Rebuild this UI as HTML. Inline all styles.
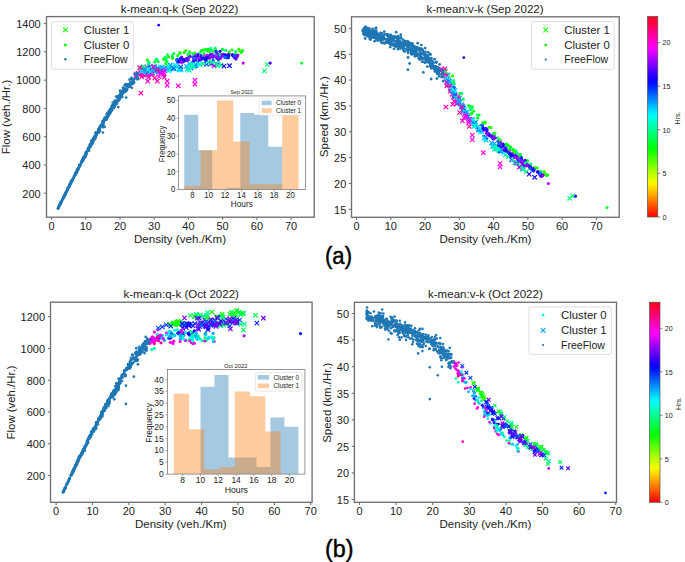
<!DOCTYPE html>
<html><head><meta charset="utf-8"><style>
html,body{margin:0;padding:0;background:#fff;width:685px;height:562px;overflow:hidden}
svg{display:block}
text{font-family:"Liberation Sans", sans-serif}
</style></head><body>
<svg width="685" height="562" viewBox="0 0 685 562">
<rect width="685" height="562" fill="#fff"/>
<clipPath id="cTL"><rect x="46.5" y="16.6" width="267.70" height="200.60"/></clipPath>
<clipPath id="cTR"><rect x="351.5" y="16.8" width="267.70" height="200.50"/></clipPath>
<clipPath id="cBL"><rect x="50.5" y="302.2" width="261.60" height="200.10"/></clipPath>
<clipPath id="cBR"><rect x="354.4" y="302.3" width="262.10" height="200.00"/></clipPath>
<g clip-path="url(#cTL)">
<path d="M145.5 79.0L149.9 83.4M145.5 83.4L149.9 79.0" stroke="#ff00db" stroke-width="1.2"/>
<path d="M201.0 61.5L205.4 65.9M201.0 65.9L205.4 61.5" stroke="#00ff6e" stroke-width="1.2"/>
<path d="M150.1 67.8L154.5 72.2M150.1 72.2L154.5 67.8" stroke="#00fff6" stroke-width="1.2"/>
<path d="M156.7 74.4L161.1 78.8M156.7 78.8L161.1 74.4" stroke="#fc00f5" stroke-width="1.2"/>
<path d="M150.0 70.9L154.4 75.3M150.0 75.3L154.4 70.9" stroke="#00fff6" stroke-width="1.2"/>
<path d="M146.6 74.9L151.0 79.3M146.6 79.3L151.0 74.9" stroke="#ff009a" stroke-width="1.2"/>
<path d="M227.3 63.5L231.7 67.9M227.3 67.9L231.7 63.5" stroke="#0408ff" stroke-width="1.2"/>
<path d="M188.7 65.7L193.1 70.1M188.7 70.1L193.1 65.7" stroke="#0045ff" stroke-width="1.2"/>
<path d="M150.2 71.5L154.6 75.9M150.2 75.9L154.6 71.5" stroke="#00aaff" stroke-width="1.2"/>
<path d="M178.9 67.3L183.3 71.7M178.9 71.7L183.3 67.3" stroke="#00eaff" stroke-width="1.2"/>
<path d="M185.0 67.1L189.4 71.5M185.0 71.5L189.4 67.1" stroke="#00ffd3" stroke-width="1.2"/>
<path d="M154.4 68.2L158.8 72.6M154.4 72.6L158.8 68.2" stroke="#0086ff" stroke-width="1.2"/>
<path d="M139.8 69.6L144.2 74.0M139.8 74.0L144.2 69.6" stroke="#0092ff" stroke-width="1.2"/>
<path d="M147.6 65.0L152.0 69.4M147.6 69.4L152.0 65.0" stroke="#00c7ff" stroke-width="1.2"/>
<path d="M192.3 63.9L196.7 68.3M192.3 68.3L196.7 63.9" stroke="#00ffd3" stroke-width="1.2"/>
<path d="M185.8 66.1L190.2 70.5M185.8 70.5L190.2 66.1" stroke="#00aaff" stroke-width="1.2"/>
<path d="M147.1 71.0L151.5 75.4M147.1 75.4L151.5 71.0" stroke="#e200ff" stroke-width="1.2"/>
<path d="M165.5 66.4L169.9 70.8M165.5 70.8L169.9 66.4" stroke="#00eaff" stroke-width="1.2"/>
<path d="M152.1 64.4L156.5 68.8M152.1 68.8L156.5 64.4" stroke="#0069ff" stroke-width="1.2"/>
<path d="M146.3 71.8L150.7 76.2M146.3 76.2L150.7 71.8" stroke="#ff00db" stroke-width="1.2"/>
<path d="M156.8 69.2L161.2 73.6M156.8 73.6L161.2 69.2" stroke="#00c7ff" stroke-width="1.2"/>
<path d="M150.2 68.1L154.6 72.5M150.2 72.5L154.6 68.1" stroke="#e200ff" stroke-width="1.2"/>
<path d="M215.3 62.3L219.7 66.7M215.3 66.7L219.7 62.3" stroke="#7e00ff" stroke-width="1.2"/>
<path d="M190.8 61.4L195.2 65.8M190.8 65.8L195.2 61.4" stroke="#0069ff" stroke-width="1.2"/>
<path d="M262.2 68.7L266.6 73.1M262.2 73.1L266.6 68.7" stroke="#00ff6e" stroke-width="1.2"/>
<path d="M198.1 62.3L202.5 66.7M198.1 66.7L202.5 62.3" stroke="#00ffa3" stroke-width="1.2"/>
<path d="M152.5 75.7L156.9 80.1M152.5 80.1L156.9 75.7" stroke="#ff009a" stroke-width="1.2"/>
<path d="M165.0 79.0L169.4 83.4M165.0 83.4L169.4 79.0" stroke="#ff00db" stroke-width="1.2"/>
<path d="M159.3 68.3L163.7 72.7M159.3 72.7L163.7 68.3" stroke="#fc00f5" stroke-width="1.2"/>
<path d="M145.8 67.8L150.2 72.2M145.8 72.2L150.2 67.8" stroke="#00aaff" stroke-width="1.2"/>
<path d="M210.0 61.0L214.4 65.4M210.0 65.4L214.4 61.0" stroke="#00ffa3" stroke-width="1.2"/>
<path d="M158.5 68.3L162.9 72.7M158.5 72.7L162.9 68.3" stroke="#00ffd3" stroke-width="1.2"/>
<path d="M191.5 64.5L195.9 68.9M191.5 68.9L195.9 64.5" stroke="#00ff6e" stroke-width="1.2"/>
<path d="M193.5 63.1L197.9 67.5M193.5 67.5L197.9 63.1" stroke="#0092ff" stroke-width="1.2"/>
<path d="M141.5 67.3L145.9 71.7M141.5 71.7L145.9 67.3" stroke="#00aaff" stroke-width="1.2"/>
<path d="M165.5 63.6L169.9 68.0M165.5 68.0L169.9 63.6" stroke="#00c7ff" stroke-width="1.2"/>
<path d="M149.5 72.7L153.9 77.1M149.5 77.1L153.9 72.7" stroke="#ff00b7" stroke-width="1.2"/>
<path d="M158.9 70.6L163.3 75.0M158.9 75.0L163.3 70.6" stroke="#e200ff" stroke-width="1.2"/>
<path d="M165.1 67.4L169.5 71.8M165.1 71.8L169.5 67.4" stroke="#00c7ff" stroke-width="1.2"/>
<path d="M176.0 83.6L180.4 88.0M176.0 88.0L180.4 83.6" stroke="#ff00db" stroke-width="1.2"/>
<path d="M192.7 77.9L197.1 82.3M192.7 82.3L197.1 77.9" stroke="#fc00f5" stroke-width="1.2"/>
<path d="M145.9 68.0L150.3 72.4M145.9 72.4L150.3 68.0" stroke="#00ffd3" stroke-width="1.2"/>
<path d="M193.6 63.0L198.0 67.4M193.6 67.4L198.0 63.0" stroke="#0069ff" stroke-width="1.2"/>
<path d="M219.0 62.9L223.4 67.3M219.0 67.3L223.4 62.9" stroke="#00ff6e" stroke-width="1.2"/>
<path d="M140.3 65.1L144.7 69.5M140.3 69.5L144.7 65.1" stroke="#00c7ff" stroke-width="1.2"/>
<path d="M204.4 61.9L208.8 66.3M204.4 66.3L208.8 61.9" stroke="#0028ff" stroke-width="1.2"/>
<path d="M146.9 69.3L151.3 73.7M146.9 73.7L151.3 69.3" stroke="#00aaff" stroke-width="1.2"/>
<path d="M173.3 64.3L177.7 68.7M173.3 68.7L177.7 64.3" stroke="#00ffd3" stroke-width="1.2"/>
<path d="M221.8 63.9L226.2 68.3M221.8 68.3L226.2 63.9" stroke="#1f00ff" stroke-width="1.2"/>
<path d="M170.3 64.8L174.7 69.2M170.3 69.2L174.7 64.8" stroke="#00aaff" stroke-width="1.2"/>
<path d="M136.3 71.8L140.7 76.2M136.3 76.2L140.7 71.8" stroke="#ff00b7" stroke-width="1.2"/>
<path d="M141.1 64.5L145.5 68.9M141.1 68.9L145.5 64.5" stroke="#00ff6e" stroke-width="1.2"/>
<path d="M172.5 66.7L176.9 71.1M172.5 71.1L176.9 66.7" stroke="#00fff6" stroke-width="1.2"/>
<path d="M213.7 61.3L218.1 65.7M213.7 65.7L218.1 61.3" stroke="#00ff6e" stroke-width="1.2"/>
<path d="M139.1 67.5L143.5 71.9M139.1 71.9L143.5 67.5" stroke="#ff009a" stroke-width="1.2"/>
<path d="M207.5 62.2L211.9 66.6M207.5 66.6L211.9 62.2" stroke="#00ff92" stroke-width="1.2"/>
<path d="M145.0 72.2L149.4 76.6M145.0 76.6L149.4 72.2" stroke="#ff00b7" stroke-width="1.2"/>
<path d="M165.0 83.1L169.4 87.5M165.0 87.5L169.4 83.1" stroke="#ff00e7" stroke-width="1.2"/>
<path d="M170.5 66.4L174.9 70.8M170.5 70.8L174.9 66.4" stroke="#00eaff" stroke-width="1.2"/>
<path d="M158.9 66.9L163.3 71.3M158.9 71.3L163.3 66.9" stroke="#00aaff" stroke-width="1.2"/>
<path d="M178.5 67.4L182.9 71.8M178.5 71.8L182.9 67.4" stroke="#00c7ff" stroke-width="1.2"/>
<path d="M143.5 69.9L147.9 74.3M143.5 74.3L147.9 69.9" stroke="#00fff6" stroke-width="1.2"/>
<path d="M155.5 65.9L159.9 70.3M155.5 70.3L159.9 65.9" stroke="#0086ff" stroke-width="1.2"/>
<path d="M157.7 69.4L162.1 73.8M157.7 73.8L162.1 69.4" stroke="#e200ff" stroke-width="1.2"/>
<path d="M145.0 65.3L149.4 69.7M145.0 69.7L149.4 65.3" stroke="#e200ff" stroke-width="1.2"/>
<path d="M140.3 72.1L144.7 76.5M140.3 76.5L144.7 72.1" stroke="#fc00f5" stroke-width="1.2"/>
<path d="M166.6 66.1L171.0 70.5M166.6 70.5L171.0 66.1" stroke="#0045ff" stroke-width="1.2"/>
<path d="M152.0 64.6L156.4 69.0M152.0 69.0L156.4 64.6" stroke="#00aaff" stroke-width="1.2"/>
<path d="M140.0 70.1L144.4 74.5M140.0 74.5L144.4 70.1" stroke="#0092ff" stroke-width="1.2"/>
<path d="M155.1 79.0L159.5 83.4M155.1 83.4L159.5 79.0" stroke="#ff00b7" stroke-width="1.2"/>
<path d="M143.2 70.6L147.6 75.0M143.2 75.0L147.6 70.6" stroke="#ff009a" stroke-width="1.2"/>
<path d="M161.4 70.6L165.8 75.0M161.4 75.0L165.8 70.6" stroke="#ff00db" stroke-width="1.2"/>
<path d="M155.9 69.3L160.3 73.7M155.9 73.7L160.3 69.3" stroke="#0069ff" stroke-width="1.2"/>
<path d="M146.4 68.2L150.8 72.6M146.4 72.6L150.8 68.2" stroke="#00eaff" stroke-width="1.2"/>
<path d="M162.0 75.0L166.4 79.4M162.0 79.4L166.4 75.0" stroke="#ff009a" stroke-width="1.2"/>
<path d="M177.5 66.2L181.9 70.6M177.5 70.6L181.9 66.2" stroke="#00c7ff" stroke-width="1.2"/>
<path d="M264.9 62.3L269.3 66.7M264.9 66.7L269.3 62.3" stroke="#00ff74" stroke-width="1.2"/>
<path d="M216.2 58.8L220.6 63.2M216.2 63.2L220.6 58.8" stroke="#00ff92" stroke-width="1.2"/>
<path d="M142.4 67.6L146.8 72.0M142.4 72.0L146.8 67.6" stroke="#00ffd3" stroke-width="1.2"/>
<path d="M138.5 70.2L142.9 74.6M138.5 74.6L142.9 70.2" stroke="#fc00f5" stroke-width="1.2"/>
<path d="M156.3 66.6L160.7 71.0M156.3 71.0L160.7 66.6" stroke="#00aaff" stroke-width="1.2"/>
<path d="M154.4 66.4L158.8 70.8M154.4 70.8L158.8 66.4" stroke="#0092ff" stroke-width="1.2"/>
<path d="M192.6 63.4L197.0 67.8M192.6 67.8L197.0 63.4" stroke="#00ff6e" stroke-width="1.2"/>
<path d="M152.1 68.3L156.5 72.7M152.1 72.7L156.5 68.3" stroke="#0086ff" stroke-width="1.2"/>
<path d="M148.1 69.2L152.5 73.6M148.1 73.6L152.5 69.2" stroke="#0045ff" stroke-width="1.2"/>
<path d="M167.4 65.3L171.8 69.7M167.4 69.7L171.8 65.3" stroke="#0045ff" stroke-width="1.2"/>
<path d="M167.4 67.8L171.8 72.2M167.4 72.2L171.8 67.8" stroke="#00eaff" stroke-width="1.2"/>
<path d="M151.6 67.7L156.0 72.1M151.6 72.1L156.0 67.7" stroke="#0086ff" stroke-width="1.2"/>
<path d="M177.3 66.8L181.7 71.2M177.3 71.2L181.7 66.8" stroke="#00aaff" stroke-width="1.2"/>
<path d="M187.0 68.1L191.4 72.5M187.0 72.5L191.4 68.1" stroke="#00ffa3" stroke-width="1.2"/>
<path d="M211.9 63.8L216.3 68.2M211.9 68.2L216.3 63.8" stroke="#ad00ff" stroke-width="1.2"/>
<path d="M190.5 62.6L194.9 67.0M190.5 67.0L194.9 62.6" stroke="#00aaff" stroke-width="1.2"/>
<path d="M158.1 65.0L162.5 69.4M158.1 69.4L162.5 65.0" stroke="#00fff6" stroke-width="1.2"/>
<path d="M143.5 66.6L147.9 71.0M143.5 71.0L147.9 66.6" stroke="#00ff86" stroke-width="1.2"/>
<path d="M178.5 64.7L182.9 69.1M178.5 69.1L182.9 64.7" stroke="#0045ff" stroke-width="1.2"/>
<path d="M168.1 63.8L172.5 68.2M168.1 68.2L172.5 63.8" stroke="#00ffd3" stroke-width="1.2"/>
<path d="M168.1 62.8L172.5 67.2M168.1 67.2L172.5 62.8" stroke="#0092ff" stroke-width="1.2"/>
<path d="M135.9 70.8L140.3 75.2M135.9 75.2L140.3 70.8" stroke="#ff00b7" stroke-width="1.2"/>
<path d="M142.8 69.2L147.2 73.6M142.8 73.6L147.2 69.2" stroke="#ff00db" stroke-width="1.2"/>
<path d="M195.4 60.1L199.8 64.5M195.4 64.5L199.8 60.1" stroke="#0092ff" stroke-width="1.2"/>
<path d="M160.9 67.4L165.3 71.8M160.9 71.8L165.3 67.4" stroke="#0069ff" stroke-width="1.2"/>
<path d="M155.9 66.8L160.3 71.2M155.9 71.2L160.3 66.8" stroke="#0069ff" stroke-width="1.2"/>
<path d="M187.8 63.8L192.2 68.2M187.8 68.2L192.2 63.8" stroke="#00ff92" stroke-width="1.2"/>
<path d="M143.2 70.8L147.6 75.2M143.2 75.2L147.6 70.8" stroke="#00c7ff" stroke-width="1.2"/>
<path d="M192.5 63.4L196.9 67.8M192.5 67.8L196.9 63.4" stroke="#0069ff" stroke-width="1.2"/>
<path d="M164.6 66.2L169.0 70.6M164.6 70.6L169.0 66.2" stroke="#0069ff" stroke-width="1.2"/>
<path d="M171.4 66.2L175.8 70.6M171.4 70.6L175.8 66.2" stroke="#0045ff" stroke-width="1.2"/>
<path d="M163.4 66.8L167.8 71.2M163.4 71.2L167.8 66.8" stroke="#00aaff" stroke-width="1.2"/>
<path d="M146.9 68.1L151.3 72.5M146.9 72.5L151.3 68.1" stroke="#00c7ff" stroke-width="1.2"/>
<path d="M165.6 64.2L170.0 68.6M165.6 68.6L170.0 64.2" stroke="#00ffd3" stroke-width="1.2"/>
<path d="M142.8 73.2L147.2 77.6M142.8 77.6L147.2 73.2" stroke="#ff00b7" stroke-width="1.2"/>
<path d="M184.2 64.2L188.6 68.6M184.2 68.6L188.6 64.2" stroke="#00aaff" stroke-width="1.2"/>
<path d="M154.5 67.2L158.9 71.6M154.5 71.6L158.9 67.2" stroke="#00aaff" stroke-width="1.2"/>
<path d="M187.1 61.6L191.5 66.0M187.1 66.0L191.5 61.6" stroke="#00aaff" stroke-width="1.2"/>
<path d="M140.3 70.3L144.7 74.7M140.3 74.7L144.7 70.3" stroke="#00eaff" stroke-width="1.2"/>
<path d="M208.5 61.5L212.9 65.9M208.5 65.9L212.9 61.5" stroke="#a100ff" stroke-width="1.2"/>
<path d="M138.7 90.9L143.1 95.3M138.7 95.3L143.1 90.9" stroke="#ff00b7" stroke-width="1.2"/>
<path d="M192.7 82.0L197.1 86.4M192.7 86.4L197.1 82.0" stroke="#ff00ed" stroke-width="1.2"/>
<path d="M166.5 68.8L170.9 73.2M166.5 73.2L170.9 68.8" stroke="#00ffd3" stroke-width="1.2"/>
<path d="M205.6 59.8L210.0 64.2M205.6 64.2L210.0 59.8" stroke="#00ffa3" stroke-width="1.2"/>
<path d="M139.4 72.0L143.8 76.4M139.4 76.4L143.8 72.0" stroke="#ff00db" stroke-width="1.2"/>
<path d="M149.5 68.9L153.9 73.3M149.5 73.3L153.9 68.9" stroke="#ff009a" stroke-width="1.2"/>
<path d="M145.8 68.5L150.2 72.9M145.8 72.9L150.2 68.5" stroke="#0092ff" stroke-width="1.2"/>
<path d="M187.5 65.0L191.9 69.4M187.5 69.4L191.9 65.0" stroke="#00ffd3" stroke-width="1.2"/>
<path d="M139.3 69.0L143.7 73.4M139.3 73.4L143.7 69.0" stroke="#00eaff" stroke-width="1.2"/>
<path d="M174.5 64.1L178.9 68.5M174.5 68.5L178.9 64.1" stroke="#00c7ff" stroke-width="1.2"/>
<path d="M147.6 68.9L152.0 73.3M147.6 73.3L152.0 68.9" stroke="#0045ff" stroke-width="1.2"/>
<path d="M215.5 63.8L219.9 68.2M215.5 68.2L219.9 63.8" stroke="#00ffa3" stroke-width="1.2"/>
<path d="M145.7 67.4L150.1 71.8M145.7 71.8L150.1 67.4" stroke="#00fff6" stroke-width="1.2"/>
<path d="M158.7 69.8L163.1 74.2M158.7 74.2L163.1 69.8" stroke="#fc00f5" stroke-width="1.2"/>
<path d="M176.9 67.9L181.3 72.3M176.9 72.3L181.3 67.9" stroke="#00eaff" stroke-width="1.2"/>
<path d="M151.0 64.6L155.4 69.0M151.0 69.0L155.4 64.6" stroke="#ff00b7" stroke-width="1.2"/>
<path d="M154.8 67.8L159.2 72.2M154.8 72.2L159.2 67.8" stroke="#ff009a" stroke-width="1.2"/>
<path d="M134.1 71.9L138.5 76.3M134.1 76.3L138.5 71.9" stroke="#e200ff" stroke-width="1.2"/>
<path d="M172.8 62.7L177.2 67.1M172.8 67.1L177.2 62.7" stroke="#00eaff" stroke-width="1.2"/>
<path d="M188.8 64.4L193.2 68.8M188.8 68.8L193.2 64.4" stroke="#00eaff" stroke-width="1.2"/>
<path d="M150.2 70.6L154.6 75.0M150.2 75.0L154.6 70.6" stroke="#fc00f5" stroke-width="1.2"/>
<path d="M141.9 67.3L146.3 71.7M141.9 71.7L146.3 67.3" stroke="#0086ff" stroke-width="1.2"/>
<path d="M209.9 59.7L214.3 64.1M209.9 64.1L214.3 59.7" stroke="#00ffa3" stroke-width="1.2"/>
<path d="M196.3 62.2L200.7 66.6M196.3 66.6L200.7 62.2" stroke="#00fff6" stroke-width="1.2"/>
<path d="M133.9 73.4L138.3 77.8M133.9 77.8L138.3 73.4" stroke="#ff00db" stroke-width="1.2"/>
<path d="M138.3 65.9L142.7 70.3M138.3 70.3L142.7 65.9" stroke="#00ff5c" stroke-width="1.2"/>
<path d="M148.4 69.4L152.8 73.8M148.4 73.8L152.8 69.4" stroke="#00eaff" stroke-width="1.2"/>
<path d="M191.0 63.4L195.4 67.8M191.0 67.8L195.4 63.4" stroke="#00ffd3" stroke-width="1.2"/>
<path d="M137.6 65.5L142.0 69.9M137.6 69.9L142.0 65.5" stroke="#ff009a" stroke-width="1.2"/>
<path d="M139.6 74.4L144.0 78.8M139.6 78.8L144.0 74.4" stroke="#ff009a" stroke-width="1.2"/>
<path d="M162.2 68.3L166.6 72.7M162.2 72.7L166.6 68.3" stroke="#fc00f5" stroke-width="1.2"/>
<path d="M189.5 62.9L193.9 67.3M189.5 67.3L193.9 62.9" stroke="#00ff6e" stroke-width="1.2"/>
<path d="M190.8 62.5L195.2 66.9M190.8 66.9L195.2 62.5" stroke="#00ffd3" stroke-width="1.2"/>
<path d="M159.8 64.9L164.2 69.3M159.8 69.3L164.2 64.9" stroke="#00aaff" stroke-width="1.2"/>
<path d="M161.2 72.5L165.6 76.9M161.2 76.9L165.6 72.5" stroke="#fc00f5" stroke-width="1.2"/>
<path d="M151.0 68.6L155.4 73.0M151.0 73.0L155.4 68.6" stroke="#00aaff" stroke-width="1.2"/>
<circle cx="147.4" cy="59.9" r="1.6" fill="#37ff00"/>
<circle cx="228.7" cy="55.6" r="1.6" fill="#0069ff"/>
<circle cx="203.6" cy="58.6" r="1.6" fill="#bf00ff"/>
<circle cx="220.6" cy="54.2" r="1.6" fill="#3d00ff"/>
<circle cx="226.6" cy="57.8" r="1.6" fill="#0045ff"/>
<circle cx="217.1" cy="57.4" r="1.6" fill="#6000ff"/>
<circle cx="148.5" cy="61.8" r="1.6" fill="#00ff92"/>
<circle cx="238.8" cy="49.1" r="1.6" fill="#37ff00"/>
<circle cx="216.7" cy="53.6" r="1.6" fill="#00ff2d"/>
<circle cx="149.1" cy="63.2" r="1.6" fill="#00ff92"/>
<circle cx="192.9" cy="56.9" r="1.6" fill="#0069ff"/>
<circle cx="179.9" cy="52.5" r="1.6" fill="#00ff2d"/>
<circle cx="203.8" cy="56.9" r="1.6" fill="#e200ff"/>
<circle cx="205.9" cy="59.3" r="1.6" fill="#0069ff"/>
<circle cx="200.1" cy="58.3" r="1.6" fill="#6000ff"/>
<circle cx="196.0" cy="59.2" r="1.6" fill="#a100ff"/>
<circle cx="235.6" cy="54.3" r="1.6" fill="#00ff2d"/>
<circle cx="188.5" cy="59.6" r="1.6" fill="#bf00ff"/>
<circle cx="236.9" cy="57.0" r="1.6" fill="#a100ff"/>
<circle cx="210.2" cy="51.2" r="1.6" fill="#00ff2d"/>
<circle cx="233.9" cy="56.2" r="1.6" fill="#7e00ff"/>
<circle cx="225.2" cy="55.8" r="1.6" fill="#0028ff"/>
<circle cx="165.3" cy="57.3" r="1.6" fill="#00ff6e"/>
<circle cx="154.7" cy="62.1" r="1.6" fill="#00ff51"/>
<circle cx="188.8" cy="55.2" r="1.6" fill="#bf00ff"/>
<circle cx="167.5" cy="54.8" r="1.6" fill="#00ff51"/>
<circle cx="184.2" cy="52.4" r="1.6" fill="#14ff00"/>
<circle cx="241.3" cy="52.6" r="1.6" fill="#00ff2d"/>
<circle cx="195.1" cy="54.4" r="1.6" fill="#a100ff"/>
<circle cx="239.2" cy="50.4" r="1.6" fill="#37ff00"/>
<circle cx="213.2" cy="60.0" r="1.6" fill="#0069ff"/>
<circle cx="228.7" cy="56.0" r="1.6" fill="#0028ff"/>
<circle cx="201.1" cy="59.2" r="1.6" fill="#0069ff"/>
<circle cx="203.4" cy="58.0" r="1.6" fill="#0045ff"/>
<circle cx="187.3" cy="60.4" r="1.6" fill="#0045ff"/>
<circle cx="207.4" cy="55.3" r="1.6" fill="#bf00ff"/>
<circle cx="192.6" cy="53.6" r="1.6" fill="#00ff6e"/>
<circle cx="216.5" cy="53.1" r="1.6" fill="#0045ff"/>
<circle cx="172.3" cy="55.7" r="1.6" fill="#00ff51"/>
<circle cx="200.3" cy="52.6" r="1.6" fill="#00ff6e"/>
<circle cx="158.2" cy="61.6" r="1.6" fill="#00ff51"/>
<circle cx="185.5" cy="59.8" r="1.6" fill="#0045ff"/>
<circle cx="195.6" cy="58.4" r="1.6" fill="#e200ff"/>
<circle cx="236.0" cy="58.9" r="1.6" fill="#6000ff"/>
<circle cx="214.0" cy="56.5" r="1.6" fill="#6000ff"/>
<circle cx="165.1" cy="59.7" r="1.6" fill="#00ff10"/>
<circle cx="172.6" cy="58.2" r="1.6" fill="#00ff10"/>
<circle cx="195.6" cy="60.2" r="1.6" fill="#0045ff"/>
<circle cx="235.5" cy="51.6" r="1.6" fill="#00ff6e"/>
<circle cx="227.5" cy="56.8" r="1.6" fill="#0069ff"/>
<circle cx="195.5" cy="56.4" r="1.6" fill="#e200ff"/>
<circle cx="217.0" cy="57.9" r="1.6" fill="#3d00ff"/>
<circle cx="221.1" cy="56.8" r="1.6" fill="#bf00ff"/>
<circle cx="155.9" cy="60.0" r="1.6" fill="#00ff2d"/>
<circle cx="218.5" cy="59.3" r="1.6" fill="#0028ff"/>
<circle cx="205.2" cy="58.5" r="1.6" fill="#a100ff"/>
<circle cx="228.5" cy="55.0" r="1.6" fill="#0408ff"/>
<circle cx="216.5" cy="57.2" r="1.6" fill="#0408ff"/>
<circle cx="205.9" cy="60.2" r="1.6" fill="#0408ff"/>
<circle cx="188.6" cy="54.2" r="1.6" fill="#14ff00"/>
<circle cx="194.8" cy="56.8" r="1.6" fill="#6000ff"/>
<circle cx="228.4" cy="57.7" r="1.6" fill="#0028ff"/>
<circle cx="223.5" cy="54.4" r="1.6" fill="#0028ff"/>
<circle cx="195.0" cy="52.9" r="1.6" fill="#37ff00"/>
<circle cx="201.3" cy="58.3" r="1.6" fill="#a100ff"/>
<circle cx="198.1" cy="57.1" r="1.6" fill="#0408ff"/>
<circle cx="240.5" cy="51.7" r="1.6" fill="#37ff00"/>
<circle cx="204.2" cy="58.8" r="1.6" fill="#0028ff"/>
<circle cx="177.4" cy="59.4" r="1.6" fill="#0045ff"/>
<circle cx="224.6" cy="56.1" r="1.6" fill="#0408ff"/>
<circle cx="234.4" cy="57.2" r="1.6" fill="#7e00ff"/>
<circle cx="204.4" cy="54.6" r="1.6" fill="#e200ff"/>
<circle cx="148.5" cy="63.5" r="1.6" fill="#00ff10"/>
<circle cx="210.8" cy="48.4" r="1.6" fill="#00ff92"/>
<circle cx="225.2" cy="54.8" r="1.6" fill="#0408ff"/>
<circle cx="149.1" cy="66.0" r="1.6" fill="#0069ff"/>
<circle cx="212.6" cy="57.2" r="1.6" fill="#3d00ff"/>
<circle cx="189.6" cy="51.9" r="1.6" fill="#00ff92"/>
<circle cx="200.9" cy="59.3" r="1.6" fill="#6000ff"/>
<circle cx="242.5" cy="50.7" r="1.6" fill="#00ff10"/>
<circle cx="225.7" cy="50.4" r="1.6" fill="#00ff6e"/>
<circle cx="209.5" cy="58.2" r="1.6" fill="#a100ff"/>
<circle cx="270.2" cy="63.1" r="1.6" fill="#4f00ff"/>
<circle cx="165.8" cy="63.7" r="1.6" fill="#00ff10"/>
<circle cx="235.4" cy="58.3" r="1.6" fill="#6000ff"/>
<circle cx="166.8" cy="61.5" r="1.6" fill="#00ff2d"/>
<circle cx="165.7" cy="59.6" r="1.6" fill="#00ff51"/>
<circle cx="179.0" cy="61.9" r="1.6" fill="#a100ff"/>
<circle cx="211.8" cy="50.3" r="1.6" fill="#37ff00"/>
<circle cx="222.5" cy="49.3" r="1.6" fill="#00ff10"/>
<circle cx="222.9" cy="55.6" r="1.6" fill="#7e00ff"/>
<circle cx="219.0" cy="56.5" r="1.6" fill="#0045ff"/>
<circle cx="232.7" cy="55.6" r="1.6" fill="#0408ff"/>
<circle cx="218.1" cy="54.3" r="1.6" fill="#a100ff"/>
<circle cx="177.9" cy="62.0" r="1.6" fill="#0408ff"/>
<circle cx="214.3" cy="51.5" r="1.6" fill="#00ff92"/>
<circle cx="212.1" cy="54.2" r="1.6" fill="#a100ff"/>
<circle cx="214.5" cy="55.8" r="1.6" fill="#bf00ff"/>
<circle cx="189.0" cy="57.1" r="1.6" fill="#0069ff"/>
<circle cx="215.2" cy="48.2" r="1.6" fill="#00ff6e"/>
<circle cx="206.4" cy="57.1" r="1.6" fill="#7e00ff"/>
<circle cx="178.0" cy="61.1" r="1.6" fill="#0408ff"/>
<circle cx="207.8" cy="51.2" r="1.6" fill="#00ff51"/>
<circle cx="156.6" cy="59.2" r="1.6" fill="#00ff6e"/>
<circle cx="209.2" cy="51.4" r="1.6" fill="#00ff10"/>
<circle cx="235.1" cy="55.7" r="1.6" fill="#0408ff"/>
<circle cx="229.1" cy="53.7" r="1.6" fill="#6000ff"/>
<circle cx="186.5" cy="59.5" r="1.6" fill="#6000ff"/>
<circle cx="224.9" cy="57.4" r="1.6" fill="#0069ff"/>
<circle cx="205.4" cy="49.6" r="1.6" fill="#00ff6e"/>
<circle cx="243.2" cy="63.1" r="1.6" fill="#bf00ff"/>
<circle cx="180.0" cy="53.3" r="1.6" fill="#14ff00"/>
<circle cx="193.8" cy="58.7" r="1.6" fill="#6000ff"/>
<circle cx="212.3" cy="54.7" r="1.6" fill="#bf00ff"/>
<circle cx="203.0" cy="50.2" r="1.6" fill="#00ff10"/>
<circle cx="187.9" cy="54.6" r="1.6" fill="#00ff6e"/>
<circle cx="222.2" cy="49.7" r="1.6" fill="#00ff51"/>
<circle cx="232.5" cy="54.6" r="1.6" fill="#1f00ff"/>
<circle cx="183.8" cy="59.4" r="1.6" fill="#6000ff"/>
<circle cx="186.6" cy="58.6" r="1.6" fill="#bf00ff"/>
<circle cx="148.7" cy="63.8" r="1.6" fill="#00ff92"/>
<circle cx="229.2" cy="51.8" r="1.6" fill="#37ff00"/>
<circle cx="208.0" cy="57.3" r="1.6" fill="#6000ff"/>
<circle cx="201.4" cy="58.0" r="1.6" fill="#0408ff"/>
<circle cx="201.5" cy="50.6" r="1.6" fill="#00ff10"/>
<circle cx="190.2" cy="56.5" r="1.6" fill="#7e00ff"/>
<circle cx="237.3" cy="55.8" r="1.6" fill="#6000ff"/>
<circle cx="181.3" cy="62.2" r="1.6" fill="#7e00ff"/>
<circle cx="173.8" cy="53.5" r="1.6" fill="#00ff51"/>
<circle cx="212.1" cy="50.9" r="1.6" fill="#00ff92"/>
<circle cx="215.6" cy="50.3" r="1.6" fill="#14ff00"/>
<circle cx="213.1" cy="55.7" r="1.6" fill="#0069ff"/>
<circle cx="182.5" cy="62.2" r="1.6" fill="#a100ff"/>
<circle cx="205.0" cy="58.8" r="1.6" fill="#0408ff"/>
<circle cx="219.3" cy="55.7" r="1.6" fill="#0069ff"/>
<circle cx="181.7" cy="57.1" r="1.6" fill="#7e00ff"/>
<circle cx="204.0" cy="53.7" r="1.6" fill="#00ff2d"/>
<circle cx="199.1" cy="58.2" r="1.6" fill="#e200ff"/>
<circle cx="220.5" cy="58.3" r="1.6" fill="#a100ff"/>
<circle cx="301.7" cy="63.1" r="1.6" fill="#00ff33"/>
<circle cx="197.9" cy="54.5" r="1.6" fill="#1f00ff"/>
<circle cx="193.6" cy="60.8" r="1.6" fill="#3d00ff"/>
<circle cx="216.6" cy="57.1" r="1.6" fill="#a100ff"/>
<circle cx="166.3" cy="58.1" r="1.6" fill="#00ff92"/>
<circle cx="185.9" cy="50.6" r="1.6" fill="#37ff00"/>
<circle cx="209.6" cy="55.9" r="1.6" fill="#0045ff"/>
<circle cx="220.0" cy="51.3" r="1.6" fill="#3d00ff"/>
<circle cx="194.3" cy="58.2" r="1.6" fill="#0069ff"/>
<circle cx="199.4" cy="60.2" r="1.6" fill="#3d00ff"/>
<circle cx="227.7" cy="54.9" r="1.6" fill="#1f00ff"/>
<circle cx="180.3" cy="59.6" r="1.6" fill="#6000ff"/>
<circle cx="168.6" cy="57.0" r="1.6" fill="#14ff00"/>
<circle cx="231.9" cy="50.0" r="1.6" fill="#14ff00"/>
<circle cx="218.5" cy="58.3" r="1.6" fill="#7e00ff"/>
<circle cx="208.8" cy="51.4" r="1.6" fill="#37ff00"/>
<circle cx="220.3" cy="54.3" r="1.6" fill="#00ff6e"/>
<circle cx="209.9" cy="57.1" r="1.6" fill="#a100ff"/>
<circle cx="210.5" cy="54.6" r="1.6" fill="#6000ff"/>
<circle cx="189.7" cy="52.0" r="1.6" fill="#37ff00"/>
<circle cx="208.0" cy="49.4" r="1.6" fill="#00ff10"/>
<circle cx="207.2" cy="58.0" r="1.6" fill="#0408ff"/>
<circle cx="181.8" cy="59.0" r="1.6" fill="#1f00ff"/>
<circle cx="184.2" cy="61.1" r="1.6" fill="#1f00ff"/>
<circle cx="163.6" cy="59.1" r="1.6" fill="#00ff10"/>
<circle cx="180.4" cy="58.3" r="1.6" fill="#0028ff"/>
<circle cx="237.9" cy="55.0" r="1.6" fill="#a100ff"/>
<circle cx="176.4" cy="60.0" r="1.6" fill="#0069ff"/>
<circle cx="222.2" cy="54.9" r="1.6" fill="#7e00ff"/>
<circle cx="234.7" cy="55.7" r="1.6" fill="#0069ff"/>
<circle cx="212.2" cy="56.1" r="1.6" fill="#a100ff"/>
<circle cx="237.3" cy="56.1" r="1.6" fill="#7e00ff"/>
<circle cx="215.4" cy="50.9" r="1.6" fill="#00ff2d"/>
<circle cx="205.5" cy="49.6" r="1.6" fill="#00ff2d"/>
<circle cx="216.1" cy="51.5" r="1.6" fill="#0028ff"/>
<circle cx="177.7" cy="55.7" r="1.6" fill="#14ff00"/>
<circle cx="200.9" cy="55.7" r="1.6" fill="#0028ff"/>
<circle cx="187.4" cy="59.0" r="1.6" fill="#a100ff"/>
<circle cx="186.6" cy="58.6" r="1.6" fill="#6000ff"/>
<circle cx="88.1" cy="148.6" r="1.35" fill="#1f77b4"/>
<circle cx="117.6" cy="101.3" r="1.35" fill="#1f77b4"/>
<circle cx="102.7" cy="125.0" r="1.35" fill="#1f77b4"/>
<circle cx="60.5" cy="203.4" r="1.35" fill="#1f77b4"/>
<circle cx="78.4" cy="168.5" r="1.35" fill="#1f77b4"/>
<circle cx="96.8" cy="133.6" r="1.35" fill="#1f77b4"/>
<circle cx="93.0" cy="142.9" r="1.35" fill="#1f77b4"/>
<circle cx="137.5" cy="74.5" r="1.35" fill="#1f77b4"/>
<circle cx="105.2" cy="118.0" r="1.35" fill="#1f77b4"/>
<circle cx="63.3" cy="197.9" r="1.35" fill="#1f77b4"/>
<circle cx="102.3" cy="124.1" r="1.35" fill="#1f77b4"/>
<circle cx="102.6" cy="121.4" r="1.35" fill="#1f77b4"/>
<circle cx="132.4" cy="84.1" r="1.35" fill="#1f77b4"/>
<circle cx="94.7" cy="138.8" r="1.35" fill="#1f77b4"/>
<circle cx="88.6" cy="149.7" r="1.35" fill="#1f77b4"/>
<circle cx="91.5" cy="143.8" r="1.35" fill="#1f77b4"/>
<circle cx="93.4" cy="141.1" r="1.35" fill="#1f77b4"/>
<circle cx="77.3" cy="170.2" r="1.35" fill="#1f77b4"/>
<circle cx="102.9" cy="124.3" r="1.35" fill="#1f77b4"/>
<circle cx="103.3" cy="124.9" r="1.35" fill="#1f77b4"/>
<circle cx="88.2" cy="150.9" r="1.35" fill="#1f77b4"/>
<circle cx="137.6" cy="73.2" r="1.35" fill="#1f77b4"/>
<circle cx="76.5" cy="171.9" r="1.35" fill="#1f77b4"/>
<circle cx="67.1" cy="190.5" r="1.35" fill="#1f77b4"/>
<circle cx="136.2" cy="77.7" r="1.35" fill="#1f77b4"/>
<circle cx="76.3" cy="172.2" r="1.35" fill="#1f77b4"/>
<circle cx="122.3" cy="91.4" r="1.35" fill="#1f77b4"/>
<circle cx="128.3" cy="84.2" r="1.35" fill="#1f77b4"/>
<circle cx="73.4" cy="178.1" r="1.35" fill="#1f77b4"/>
<circle cx="98.6" cy="131.9" r="1.35" fill="#1f77b4"/>
<circle cx="75.8" cy="173.8" r="1.35" fill="#1f77b4"/>
<circle cx="126.7" cy="90.2" r="1.35" fill="#1f77b4"/>
<circle cx="114.2" cy="102.0" r="1.35" fill="#1f77b4"/>
<circle cx="74.8" cy="175.7" r="1.35" fill="#1f77b4"/>
<circle cx="77.0" cy="172.1" r="1.35" fill="#1f77b4"/>
<circle cx="76.2" cy="172.8" r="1.35" fill="#1f77b4"/>
<circle cx="75.0" cy="175.2" r="1.35" fill="#1f77b4"/>
<circle cx="77.8" cy="169.1" r="1.35" fill="#1f77b4"/>
<circle cx="107.4" cy="117.1" r="1.35" fill="#1f77b4"/>
<circle cx="88.0" cy="149.2" r="1.35" fill="#1f77b4"/>
<circle cx="109.2" cy="112.2" r="1.35" fill="#1f77b4"/>
<circle cx="126.2" cy="85.1" r="1.35" fill="#1f77b4"/>
<circle cx="134.6" cy="73.9" r="1.35" fill="#1f77b4"/>
<circle cx="91.2" cy="140.9" r="1.35" fill="#1f77b4"/>
<circle cx="90.2" cy="144.4" r="1.35" fill="#1f77b4"/>
<circle cx="94.6" cy="139.3" r="1.35" fill="#1f77b4"/>
<circle cx="96.1" cy="135.7" r="1.35" fill="#1f77b4"/>
<circle cx="103.2" cy="122.3" r="1.35" fill="#1f77b4"/>
<circle cx="125.6" cy="84.2" r="1.35" fill="#1f77b4"/>
<circle cx="92.2" cy="141.3" r="1.35" fill="#1f77b4"/>
<circle cx="111.6" cy="106.7" r="1.35" fill="#1f77b4"/>
<circle cx="120.1" cy="96.3" r="1.35" fill="#1f77b4"/>
<circle cx="100.2" cy="127.1" r="1.35" fill="#1f77b4"/>
<circle cx="101.0" cy="125.5" r="1.35" fill="#1f77b4"/>
<circle cx="98.0" cy="132.4" r="1.35" fill="#1f77b4"/>
<circle cx="63.5" cy="197.3" r="1.35" fill="#1f77b4"/>
<circle cx="69.8" cy="184.6" r="1.35" fill="#1f77b4"/>
<circle cx="59.4" cy="205.7" r="1.35" fill="#1f77b4"/>
<circle cx="118.5" cy="96.2" r="1.35" fill="#1f77b4"/>
<circle cx="96.3" cy="132.7" r="1.35" fill="#1f77b4"/>
<circle cx="66.0" cy="192.6" r="1.35" fill="#1f77b4"/>
<circle cx="124.9" cy="89.6" r="1.35" fill="#1f77b4"/>
<circle cx="95.3" cy="137.0" r="1.35" fill="#1f77b4"/>
<circle cx="73.5" cy="178.0" r="1.35" fill="#1f77b4"/>
<circle cx="95.8" cy="135.5" r="1.35" fill="#1f77b4"/>
<circle cx="61.5" cy="201.5" r="1.35" fill="#1f77b4"/>
<circle cx="82.7" cy="160.0" r="1.35" fill="#1f77b4"/>
<circle cx="77.3" cy="170.7" r="1.35" fill="#1f77b4"/>
<circle cx="99.0" cy="132.3" r="1.35" fill="#1f77b4"/>
<circle cx="67.3" cy="190.3" r="1.35" fill="#1f77b4"/>
<circle cx="121.6" cy="93.3" r="1.35" fill="#1f77b4"/>
<circle cx="85.6" cy="155.2" r="1.35" fill="#1f77b4"/>
<circle cx="132.2" cy="83.2" r="1.35" fill="#1f77b4"/>
<circle cx="92.4" cy="140.0" r="1.35" fill="#1f77b4"/>
<circle cx="88.8" cy="147.2" r="1.35" fill="#1f77b4"/>
<circle cx="65.2" cy="194.4" r="1.35" fill="#1f77b4"/>
<circle cx="107.1" cy="115.2" r="1.35" fill="#1f77b4"/>
<circle cx="130.9" cy="84.5" r="1.35" fill="#1f77b4"/>
<circle cx="131.2" cy="78.7" r="1.35" fill="#1f77b4"/>
<circle cx="94.2" cy="139.3" r="1.35" fill="#1f77b4"/>
<circle cx="93.4" cy="139.8" r="1.35" fill="#1f77b4"/>
<circle cx="64.4" cy="195.3" r="1.35" fill="#1f77b4"/>
<circle cx="91.2" cy="144.9" r="1.35" fill="#1f77b4"/>
<circle cx="114.7" cy="101.4" r="1.35" fill="#1f77b4"/>
<circle cx="125.4" cy="90.9" r="1.35" fill="#1f77b4"/>
<circle cx="58.1" cy="208.2" r="1.35" fill="#1f77b4"/>
<circle cx="125.7" cy="89.2" r="1.35" fill="#1f77b4"/>
<circle cx="71.4" cy="181.8" r="1.35" fill="#1f77b4"/>
<circle cx="78.4" cy="168.0" r="1.35" fill="#1f77b4"/>
<circle cx="78.4" cy="168.1" r="1.35" fill="#1f77b4"/>
<circle cx="99.0" cy="131.5" r="1.35" fill="#1f77b4"/>
<circle cx="82.3" cy="159.9" r="1.35" fill="#1f77b4"/>
<circle cx="98.3" cy="130.4" r="1.35" fill="#1f77b4"/>
<circle cx="99.7" cy="126.9" r="1.35" fill="#1f77b4"/>
<circle cx="59.8" cy="204.6" r="1.35" fill="#1f77b4"/>
<circle cx="95.5" cy="137.9" r="1.35" fill="#1f77b4"/>
<circle cx="123.1" cy="89.2" r="1.35" fill="#1f77b4"/>
<circle cx="77.0" cy="170.0" r="1.35" fill="#1f77b4"/>
<circle cx="112.6" cy="108.2" r="1.35" fill="#1f77b4"/>
<circle cx="90.0" cy="145.2" r="1.35" fill="#1f77b4"/>
<circle cx="98.3" cy="129.2" r="1.35" fill="#1f77b4"/>
<circle cx="84.9" cy="156.1" r="1.35" fill="#1f77b4"/>
<circle cx="118.8" cy="100.6" r="1.35" fill="#1f77b4"/>
<circle cx="65.2" cy="194.2" r="1.35" fill="#1f77b4"/>
<circle cx="71.3" cy="180.8" r="1.35" fill="#1f77b4"/>
<circle cx="127.5" cy="85.9" r="1.35" fill="#1f77b4"/>
<circle cx="92.3" cy="143.4" r="1.35" fill="#1f77b4"/>
<circle cx="65.1" cy="194.4" r="1.35" fill="#1f77b4"/>
<circle cx="64.0" cy="196.7" r="1.35" fill="#1f77b4"/>
<circle cx="108.1" cy="115.2" r="1.35" fill="#1f77b4"/>
<circle cx="115.0" cy="103.3" r="1.35" fill="#1f77b4"/>
<circle cx="85.3" cy="157.0" r="1.35" fill="#1f77b4"/>
<circle cx="67.3" cy="189.9" r="1.35" fill="#1f77b4"/>
<circle cx="94.5" cy="136.3" r="1.35" fill="#1f77b4"/>
<circle cx="108.1" cy="114.9" r="1.35" fill="#1f77b4"/>
<circle cx="105.7" cy="119.2" r="1.35" fill="#1f77b4"/>
<circle cx="60.9" cy="202.4" r="1.35" fill="#1f77b4"/>
<circle cx="84.0" cy="158.2" r="1.35" fill="#1f77b4"/>
<circle cx="107.3" cy="118.0" r="1.35" fill="#1f77b4"/>
<circle cx="120.0" cy="99.0" r="1.35" fill="#1f77b4"/>
<circle cx="122.0" cy="93.8" r="1.35" fill="#1f77b4"/>
<circle cx="71.4" cy="181.6" r="1.35" fill="#1f77b4"/>
<circle cx="114.9" cy="103.7" r="1.35" fill="#1f77b4"/>
<circle cx="84.8" cy="155.4" r="1.35" fill="#1f77b4"/>
<circle cx="102.6" cy="122.6" r="1.35" fill="#1f77b4"/>
<circle cx="68.5" cy="187.3" r="1.35" fill="#1f77b4"/>
<circle cx="75.6" cy="174.0" r="1.35" fill="#1f77b4"/>
<circle cx="109.8" cy="112.2" r="1.35" fill="#1f77b4"/>
<circle cx="83.8" cy="156.8" r="1.35" fill="#1f77b4"/>
<circle cx="91.7" cy="144.2" r="1.35" fill="#1f77b4"/>
<circle cx="60.0" cy="204.5" r="1.35" fill="#1f77b4"/>
<circle cx="121.4" cy="95.2" r="1.35" fill="#1f77b4"/>
<circle cx="83.7" cy="158.0" r="1.35" fill="#1f77b4"/>
<circle cx="89.8" cy="147.5" r="1.35" fill="#1f77b4"/>
<circle cx="126.2" cy="91.0" r="1.35" fill="#1f77b4"/>
<circle cx="70.8" cy="182.0" r="1.35" fill="#1f77b4"/>
<circle cx="109.1" cy="111.3" r="1.35" fill="#1f77b4"/>
<circle cx="121.9" cy="95.1" r="1.35" fill="#1f77b4"/>
<circle cx="89.2" cy="147.6" r="1.35" fill="#1f77b4"/>
<circle cx="67.9" cy="188.6" r="1.35" fill="#1f77b4"/>
<circle cx="102.7" cy="124.2" r="1.35" fill="#1f77b4"/>
<circle cx="64.8" cy="194.8" r="1.35" fill="#1f77b4"/>
<circle cx="126.4" cy="89.0" r="1.35" fill="#1f77b4"/>
<circle cx="63.7" cy="197.3" r="1.35" fill="#1f77b4"/>
<circle cx="122.9" cy="92.4" r="1.35" fill="#1f77b4"/>
<circle cx="123.6" cy="92.4" r="1.35" fill="#1f77b4"/>
<circle cx="89.0" cy="150.4" r="1.35" fill="#1f77b4"/>
<circle cx="88.0" cy="149.7" r="1.35" fill="#1f77b4"/>
<circle cx="123.2" cy="91.3" r="1.35" fill="#1f77b4"/>
<circle cx="111.2" cy="108.6" r="1.35" fill="#1f77b4"/>
<circle cx="111.3" cy="111.0" r="1.35" fill="#1f77b4"/>
<circle cx="132.9" cy="80.2" r="1.35" fill="#1f77b4"/>
<circle cx="70.8" cy="182.9" r="1.35" fill="#1f77b4"/>
<circle cx="117.0" cy="103.7" r="1.35" fill="#1f77b4"/>
<circle cx="60.2" cy="204.4" r="1.35" fill="#1f77b4"/>
<circle cx="99.0" cy="129.5" r="1.35" fill="#1f77b4"/>
<circle cx="108.5" cy="115.5" r="1.35" fill="#1f77b4"/>
<circle cx="103.1" cy="121.5" r="1.35" fill="#1f77b4"/>
<circle cx="67.5" cy="188.7" r="1.35" fill="#1f77b4"/>
<circle cx="115.8" cy="103.2" r="1.35" fill="#1f77b4"/>
<circle cx="116.0" cy="103.2" r="1.35" fill="#1f77b4"/>
<circle cx="93.0" cy="140.8" r="1.35" fill="#1f77b4"/>
<circle cx="99.9" cy="127.5" r="1.35" fill="#1f77b4"/>
<circle cx="88.1" cy="150.7" r="1.35" fill="#1f77b4"/>
<circle cx="91.1" cy="142.8" r="1.35" fill="#1f77b4"/>
<circle cx="109.3" cy="110.9" r="1.35" fill="#1f77b4"/>
<circle cx="62.4" cy="199.6" r="1.35" fill="#1f77b4"/>
<circle cx="97.8" cy="133.0" r="1.35" fill="#1f77b4"/>
<circle cx="67.2" cy="189.8" r="1.35" fill="#1f77b4"/>
<circle cx="58.8" cy="206.7" r="1.35" fill="#1f77b4"/>
<circle cx="129.9" cy="86.8" r="1.35" fill="#1f77b4"/>
<circle cx="79.3" cy="164.9" r="1.35" fill="#1f77b4"/>
<circle cx="114.8" cy="104.2" r="1.35" fill="#1f77b4"/>
<circle cx="67.4" cy="189.7" r="1.35" fill="#1f77b4"/>
<circle cx="76.6" cy="171.9" r="1.35" fill="#1f77b4"/>
<circle cx="94.8" cy="137.1" r="1.35" fill="#1f77b4"/>
<circle cx="85.9" cy="152.7" r="1.35" fill="#1f77b4"/>
<circle cx="114.9" cy="105.1" r="1.35" fill="#1f77b4"/>
<circle cx="64.9" cy="195.3" r="1.35" fill="#1f77b4"/>
<circle cx="105.4" cy="119.8" r="1.35" fill="#1f77b4"/>
<circle cx="83.0" cy="160.2" r="1.35" fill="#1f77b4"/>
<circle cx="71.2" cy="182.6" r="1.35" fill="#1f77b4"/>
<circle cx="106.5" cy="117.4" r="1.35" fill="#1f77b4"/>
<circle cx="75.8" cy="173.1" r="1.35" fill="#1f77b4"/>
<circle cx="136.7" cy="73.9" r="1.35" fill="#1f77b4"/>
<circle cx="65.9" cy="193.1" r="1.35" fill="#1f77b4"/>
<circle cx="130.4" cy="82.6" r="1.35" fill="#1f77b4"/>
<circle cx="77.8" cy="169.6" r="1.35" fill="#1f77b4"/>
<circle cx="70.1" cy="183.7" r="1.35" fill="#1f77b4"/>
<circle cx="116.2" cy="96.6" r="1.35" fill="#1f77b4"/>
<circle cx="96.1" cy="134.8" r="1.35" fill="#1f77b4"/>
<circle cx="68.1" cy="187.7" r="1.35" fill="#1f77b4"/>
<circle cx="81.2" cy="163.1" r="1.35" fill="#1f77b4"/>
<circle cx="72.6" cy="180.2" r="1.35" fill="#1f77b4"/>
<circle cx="75.5" cy="174.5" r="1.35" fill="#1f77b4"/>
<circle cx="114.7" cy="106.9" r="1.35" fill="#1f77b4"/>
<circle cx="112.1" cy="109.7" r="1.35" fill="#1f77b4"/>
<circle cx="91.5" cy="143.6" r="1.35" fill="#1f77b4"/>
<circle cx="60.8" cy="202.6" r="1.35" fill="#1f77b4"/>
<circle cx="86.3" cy="152.3" r="1.35" fill="#1f77b4"/>
<circle cx="83.7" cy="157.4" r="1.35" fill="#1f77b4"/>
<circle cx="118.6" cy="98.9" r="1.35" fill="#1f77b4"/>
<circle cx="77.3" cy="170.7" r="1.35" fill="#1f77b4"/>
<circle cx="63.3" cy="197.9" r="1.35" fill="#1f77b4"/>
<circle cx="77.0" cy="170.9" r="1.35" fill="#1f77b4"/>
<circle cx="78.2" cy="168.4" r="1.35" fill="#1f77b4"/>
<circle cx="75.8" cy="173.1" r="1.35" fill="#1f77b4"/>
<circle cx="103.3" cy="122.8" r="1.35" fill="#1f77b4"/>
<circle cx="79.9" cy="166.6" r="1.35" fill="#1f77b4"/>
<circle cx="134.1" cy="82.6" r="1.35" fill="#1f77b4"/>
<circle cx="120.8" cy="96.8" r="1.35" fill="#1f77b4"/>
<circle cx="107.3" cy="113.0" r="1.35" fill="#1f77b4"/>
<circle cx="103.1" cy="123.7" r="1.35" fill="#1f77b4"/>
<circle cx="121.5" cy="92.7" r="1.35" fill="#1f77b4"/>
<circle cx="106.8" cy="114.3" r="1.35" fill="#1f77b4"/>
<circle cx="67.5" cy="189.4" r="1.35" fill="#1f77b4"/>
<circle cx="112.1" cy="108.8" r="1.35" fill="#1f77b4"/>
<circle cx="120.4" cy="96.3" r="1.35" fill="#1f77b4"/>
<circle cx="102.9" cy="124.8" r="1.35" fill="#1f77b4"/>
<circle cx="123.3" cy="91.1" r="1.35" fill="#1f77b4"/>
<circle cx="66.0" cy="192.2" r="1.35" fill="#1f77b4"/>
<circle cx="77.7" cy="169.2" r="1.35" fill="#1f77b4"/>
<circle cx="93.3" cy="139.2" r="1.35" fill="#1f77b4"/>
<circle cx="59.7" cy="204.9" r="1.35" fill="#1f77b4"/>
<circle cx="60.4" cy="203.2" r="1.35" fill="#1f77b4"/>
<circle cx="136.5" cy="79.1" r="1.35" fill="#1f77b4"/>
<circle cx="108.7" cy="113.4" r="1.35" fill="#1f77b4"/>
<circle cx="124.7" cy="88.3" r="1.35" fill="#1f77b4"/>
<circle cx="107.9" cy="112.8" r="1.35" fill="#1f77b4"/>
<circle cx="131.9" cy="87.8" r="1.35" fill="#1f77b4"/>
<circle cx="106.9" cy="117.4" r="1.35" fill="#1f77b4"/>
<circle cx="128.0" cy="86.4" r="1.35" fill="#1f77b4"/>
<circle cx="107.1" cy="117.8" r="1.35" fill="#1f77b4"/>
<circle cx="112.5" cy="105.9" r="1.35" fill="#1f77b4"/>
<circle cx="111.3" cy="109.0" r="1.35" fill="#1f77b4"/>
<circle cx="72.0" cy="180.9" r="1.35" fill="#1f77b4"/>
<circle cx="86.2" cy="154.6" r="1.35" fill="#1f77b4"/>
<circle cx="85.6" cy="155.3" r="1.35" fill="#1f77b4"/>
<circle cx="98.4" cy="132.4" r="1.35" fill="#1f77b4"/>
<circle cx="118.1" cy="97.8" r="1.35" fill="#1f77b4"/>
<circle cx="98.5" cy="132.6" r="1.35" fill="#1f77b4"/>
<circle cx="69.6" cy="186.2" r="1.35" fill="#1f77b4"/>
<circle cx="84.4" cy="157.7" r="1.35" fill="#1f77b4"/>
<circle cx="133.7" cy="81.7" r="1.35" fill="#1f77b4"/>
<circle cx="60.3" cy="203.6" r="1.35" fill="#1f77b4"/>
<circle cx="112.7" cy="102.5" r="1.35" fill="#1f77b4"/>
<circle cx="92.9" cy="141.4" r="1.35" fill="#1f77b4"/>
<circle cx="68.1" cy="188.1" r="1.35" fill="#1f77b4"/>
<circle cx="117.1" cy="97.5" r="1.35" fill="#1f77b4"/>
<circle cx="112.0" cy="105.9" r="1.35" fill="#1f77b4"/>
<circle cx="70.4" cy="183.8" r="1.35" fill="#1f77b4"/>
<circle cx="86.2" cy="154.2" r="1.35" fill="#1f77b4"/>
<circle cx="78.1" cy="169.0" r="1.35" fill="#1f77b4"/>
<circle cx="122.3" cy="97.1" r="1.35" fill="#1f77b4"/>
<circle cx="115.2" cy="102.6" r="1.35" fill="#1f77b4"/>
<circle cx="132.6" cy="79.3" r="1.35" fill="#1f77b4"/>
<circle cx="78.5" cy="169.1" r="1.35" fill="#1f77b4"/>
<circle cx="72.8" cy="179.0" r="1.35" fill="#1f77b4"/>
<circle cx="110.1" cy="110.8" r="1.35" fill="#1f77b4"/>
<circle cx="86.2" cy="151.9" r="1.35" fill="#1f77b4"/>
<circle cx="104.0" cy="119.2" r="1.35" fill="#1f77b4"/>
<circle cx="127.8" cy="84.3" r="1.35" fill="#1f77b4"/>
<circle cx="95.1" cy="137.8" r="1.35" fill="#1f77b4"/>
<circle cx="133.0" cy="81.8" r="1.35" fill="#1f77b4"/>
<circle cx="92.3" cy="140.7" r="1.35" fill="#1f77b4"/>
<circle cx="98.7" cy="131.5" r="1.35" fill="#1f77b4"/>
<circle cx="88.8" cy="148.4" r="1.35" fill="#1f77b4"/>
<circle cx="70.3" cy="183.4" r="1.35" fill="#1f77b4"/>
<circle cx="123.2" cy="91.5" r="1.35" fill="#1f77b4"/>
<circle cx="90.5" cy="146.6" r="1.35" fill="#1f77b4"/>
<circle cx="69.7" cy="185.3" r="1.35" fill="#1f77b4"/>
<circle cx="72.0" cy="180.3" r="1.35" fill="#1f77b4"/>
<circle cx="58.8" cy="207.0" r="1.35" fill="#1f77b4"/>
<circle cx="60.4" cy="203.5" r="1.35" fill="#1f77b4"/>
<circle cx="64.3" cy="195.5" r="1.35" fill="#1f77b4"/>
<circle cx="111.1" cy="110.8" r="1.35" fill="#1f77b4"/>
<circle cx="76.1" cy="173.0" r="1.35" fill="#1f77b4"/>
<circle cx="91.1" cy="144.2" r="1.35" fill="#1f77b4"/>
<circle cx="82.4" cy="161.3" r="1.35" fill="#1f77b4"/>
<circle cx="74.4" cy="175.7" r="1.35" fill="#1f77b4"/>
<circle cx="131.0" cy="83.3" r="1.35" fill="#1f77b4"/>
<circle cx="104.6" cy="119.2" r="1.35" fill="#1f77b4"/>
<circle cx="117.6" cy="100.6" r="1.35" fill="#1f77b4"/>
<circle cx="132.3" cy="83.7" r="1.35" fill="#1f77b4"/>
<circle cx="62.5" cy="199.0" r="1.35" fill="#1f77b4"/>
<circle cx="76.4" cy="172.4" r="1.35" fill="#1f77b4"/>
<circle cx="61.5" cy="201.6" r="1.35" fill="#1f77b4"/>
<circle cx="129.8" cy="85.8" r="1.35" fill="#1f77b4"/>
<circle cx="83.0" cy="159.5" r="1.35" fill="#1f77b4"/>
<circle cx="86.2" cy="153.9" r="1.35" fill="#1f77b4"/>
<circle cx="70.4" cy="183.8" r="1.35" fill="#1f77b4"/>
<circle cx="75.5" cy="174.1" r="1.35" fill="#1f77b4"/>
<circle cx="133.4" cy="81.6" r="1.35" fill="#1f77b4"/>
<circle cx="133.8" cy="79.2" r="1.35" fill="#1f77b4"/>
<circle cx="126.3" cy="86.3" r="1.35" fill="#1f77b4"/>
<circle cx="130.9" cy="81.8" r="1.35" fill="#1f77b4"/>
<circle cx="72.4" cy="180.3" r="1.35" fill="#1f77b4"/>
<circle cx="94.0" cy="138.4" r="1.35" fill="#1f77b4"/>
<circle cx="71.6" cy="181.5" r="1.35" fill="#1f77b4"/>
<circle cx="120.0" cy="96.4" r="1.35" fill="#1f77b4"/>
<circle cx="85.2" cy="156.5" r="1.35" fill="#1f77b4"/>
<circle cx="133.0" cy="79.2" r="1.35" fill="#1f77b4"/>
<circle cx="85.9" cy="153.8" r="1.35" fill="#1f77b4"/>
<circle cx="71.3" cy="181.2" r="1.35" fill="#1f77b4"/>
<circle cx="110.9" cy="108.9" r="1.35" fill="#1f77b4"/>
<circle cx="108.1" cy="116.4" r="1.35" fill="#1f77b4"/>
<circle cx="106.5" cy="119.4" r="1.35" fill="#1f77b4"/>
<circle cx="109.1" cy="110.9" r="1.35" fill="#1f77b4"/>
<circle cx="62.8" cy="199.2" r="1.35" fill="#1f77b4"/>
<circle cx="60.4" cy="203.5" r="1.35" fill="#1f77b4"/>
<circle cx="123.3" cy="92.4" r="1.35" fill="#1f77b4"/>
<circle cx="124.7" cy="85.2" r="1.35" fill="#1f77b4"/>
<circle cx="104.3" cy="120.8" r="1.35" fill="#1f77b4"/>
<circle cx="69.5" cy="185.0" r="1.35" fill="#1f77b4"/>
<circle cx="115.3" cy="100.3" r="1.35" fill="#1f77b4"/>
<circle cx="125.1" cy="90.4" r="1.35" fill="#1f77b4"/>
<circle cx="111.5" cy="109.6" r="1.35" fill="#1f77b4"/>
<circle cx="104.8" cy="117.7" r="1.35" fill="#1f77b4"/>
<circle cx="89.2" cy="147.5" r="1.35" fill="#1f77b4"/>
<circle cx="110.3" cy="112.5" r="1.35" fill="#1f77b4"/>
<circle cx="81.5" cy="161.2" r="1.35" fill="#1f77b4"/>
<circle cx="120.1" cy="90.7" r="1.35" fill="#1f77b4"/>
<circle cx="58.0" cy="208.5" r="1.35" fill="#1f77b4"/>
<circle cx="64.8" cy="194.6" r="1.35" fill="#1f77b4"/>
<circle cx="96.0" cy="135.5" r="1.35" fill="#1f77b4"/>
<circle cx="102.5" cy="121.9" r="1.35" fill="#1f77b4"/>
<circle cx="137.5" cy="77.1" r="1.35" fill="#1f77b4"/>
<circle cx="86.0" cy="152.4" r="1.35" fill="#1f77b4"/>
<circle cx="92.3" cy="141.4" r="1.35" fill="#1f77b4"/>
<circle cx="120.5" cy="95.7" r="1.35" fill="#1f77b4"/>
<circle cx="96.8" cy="133.6" r="1.35" fill="#1f77b4"/>
<circle cx="122.5" cy="93.8" r="1.35" fill="#1f77b4"/>
<circle cx="115.5" cy="104.7" r="1.35" fill="#1f77b4"/>
<circle cx="58.7" cy="207.3" r="1.35" fill="#1f77b4"/>
<circle cx="93.5" cy="139.9" r="1.35" fill="#1f77b4"/>
<circle cx="127.3" cy="89.0" r="1.35" fill="#1f77b4"/>
<circle cx="61.1" cy="202.2" r="1.35" fill="#1f77b4"/>
<circle cx="74.3" cy="175.8" r="1.35" fill="#1f77b4"/>
<circle cx="115.1" cy="102.2" r="1.35" fill="#1f77b4"/>
<circle cx="129.8" cy="85.0" r="1.35" fill="#1f77b4"/>
<circle cx="106.5" cy="116.9" r="1.35" fill="#1f77b4"/>
<circle cx="76.2" cy="172.4" r="1.35" fill="#1f77b4"/>
<circle cx="75.6" cy="172.9" r="1.35" fill="#1f77b4"/>
<circle cx="125.5" cy="90.5" r="1.35" fill="#1f77b4"/>
<circle cx="110.4" cy="111.4" r="1.35" fill="#1f77b4"/>
<circle cx="83.6" cy="158.2" r="1.35" fill="#1f77b4"/>
<circle cx="94.4" cy="138.2" r="1.35" fill="#1f77b4"/>
<circle cx="68.2" cy="188.3" r="1.35" fill="#1f77b4"/>
<circle cx="110.5" cy="111.6" r="1.35" fill="#1f77b4"/>
<circle cx="69.9" cy="184.3" r="1.35" fill="#1f77b4"/>
<circle cx="108.3" cy="115.1" r="1.35" fill="#1f77b4"/>
<circle cx="72.3" cy="179.6" r="1.35" fill="#1f77b4"/>
<circle cx="123.0" cy="87.6" r="1.35" fill="#1f77b4"/>
<circle cx="82.1" cy="160.0" r="1.35" fill="#1f77b4"/>
<circle cx="76.1" cy="173.6" r="1.35" fill="#1f77b4"/>
<circle cx="65.8" cy="192.6" r="1.35" fill="#1f77b4"/>
<circle cx="128.1" cy="84.6" r="1.35" fill="#1f77b4"/>
<circle cx="61.5" cy="201.3" r="1.35" fill="#1f77b4"/>
<circle cx="90.6" cy="146.6" r="1.35" fill="#1f77b4"/>
<circle cx="119.6" cy="95.0" r="1.35" fill="#1f77b4"/>
<circle cx="116.6" cy="102.9" r="1.35" fill="#1f77b4"/>
<circle cx="112.1" cy="105.5" r="1.35" fill="#1f77b4"/>
<circle cx="79.5" cy="165.2" r="1.35" fill="#1f77b4"/>
<circle cx="95.8" cy="132.4" r="1.35" fill="#1f77b4"/>
<circle cx="80.1" cy="165.1" r="1.35" fill="#1f77b4"/>
<circle cx="80.7" cy="164.6" r="1.35" fill="#1f77b4"/>
<circle cx="110.0" cy="109.5" r="1.35" fill="#1f77b4"/>
<circle cx="110.4" cy="109.2" r="1.35" fill="#1f77b4"/>
<circle cx="91.1" cy="144.5" r="1.35" fill="#1f77b4"/>
<circle cx="61.9" cy="200.5" r="1.35" fill="#1f77b4"/>
<circle cx="113.4" cy="104.6" r="1.35" fill="#1f77b4"/>
<circle cx="138.1" cy="79.2" r="1.35" fill="#1f77b4"/>
<circle cx="137.5" cy="77.3" r="1.35" fill="#1f77b4"/>
<circle cx="83.7" cy="158.2" r="1.35" fill="#1f77b4"/>
<circle cx="64.3" cy="196.0" r="1.35" fill="#1f77b4"/>
<circle cx="77.6" cy="169.6" r="1.35" fill="#1f77b4"/>
<circle cx="85.2" cy="155.6" r="1.35" fill="#1f77b4"/>
<circle cx="66.1" cy="192.3" r="1.35" fill="#1f77b4"/>
<circle cx="66.8" cy="190.8" r="1.35" fill="#1f77b4"/>
<circle cx="87.9" cy="150.1" r="1.35" fill="#1f77b4"/>
<circle cx="133.3" cy="81.1" r="1.35" fill="#1f77b4"/>
<circle cx="69.9" cy="184.9" r="1.35" fill="#1f77b4"/>
<circle cx="67.2" cy="190.2" r="1.35" fill="#1f77b4"/>
<circle cx="65.6" cy="194.0" r="1.35" fill="#1f77b4"/>
<circle cx="85.4" cy="154.5" r="1.35" fill="#1f77b4"/>
<circle cx="106.1" cy="119.4" r="1.35" fill="#1f77b4"/>
<circle cx="78.6" cy="167.6" r="1.35" fill="#1f77b4"/>
<circle cx="110.0" cy="113.8" r="1.35" fill="#1f77b4"/>
<circle cx="120.9" cy="93.0" r="1.35" fill="#1f77b4"/>
<circle cx="123.8" cy="90.4" r="1.35" fill="#1f77b4"/>
<circle cx="71.4" cy="182.5" r="1.35" fill="#1f77b4"/>
<circle cx="99.7" cy="128.4" r="1.35" fill="#1f77b4"/>
<circle cx="60.2" cy="204.2" r="1.35" fill="#1f77b4"/>
<circle cx="131.5" cy="77.9" r="1.35" fill="#1f77b4"/>
<circle cx="69.6" cy="185.2" r="1.35" fill="#1f77b4"/>
<circle cx="108.8" cy="114.7" r="1.35" fill="#1f77b4"/>
<circle cx="64.1" cy="196.3" r="1.35" fill="#1f77b4"/>
<circle cx="70.6" cy="183.4" r="1.35" fill="#1f77b4"/>
<circle cx="114.2" cy="102.4" r="1.35" fill="#1f77b4"/>
<circle cx="73.5" cy="177.5" r="1.35" fill="#1f77b4"/>
<circle cx="95.0" cy="136.5" r="1.35" fill="#1f77b4"/>
<circle cx="111.0" cy="111.7" r="1.35" fill="#1f77b4"/>
<circle cx="70.2" cy="183.9" r="1.35" fill="#1f77b4"/>
<circle cx="61.3" cy="201.5" r="1.35" fill="#1f77b4"/>
<circle cx="64.5" cy="195.3" r="1.35" fill="#1f77b4"/>
<circle cx="98.8" cy="130.4" r="1.35" fill="#1f77b4"/>
<circle cx="78.2" cy="168.3" r="1.35" fill="#1f77b4"/>
<circle cx="69.1" cy="186.8" r="1.35" fill="#1f77b4"/>
<circle cx="86.1" cy="153.0" r="1.35" fill="#1f77b4"/>
<circle cx="95.5" cy="137.5" r="1.35" fill="#1f77b4"/>
<circle cx="116.1" cy="101.5" r="1.35" fill="#1f77b4"/>
<circle cx="114.9" cy="104.1" r="1.35" fill="#1f77b4"/>
<circle cx="129.2" cy="86.5" r="1.35" fill="#1f77b4"/>
<circle cx="99.1" cy="128.9" r="1.35" fill="#1f77b4"/>
<circle cx="88.4" cy="150.4" r="1.35" fill="#1f77b4"/>
<circle cx="96.3" cy="134.8" r="1.35" fill="#1f77b4"/>
<circle cx="73.5" cy="178.3" r="1.35" fill="#1f77b4"/>
<circle cx="93.1" cy="138.4" r="1.35" fill="#1f77b4"/>
<circle cx="64.3" cy="195.4" r="1.35" fill="#1f77b4"/>
<circle cx="114.3" cy="102.8" r="1.35" fill="#1f77b4"/>
<circle cx="95.6" cy="133.6" r="1.35" fill="#1f77b4"/>
<circle cx="95.2" cy="135.9" r="1.35" fill="#1f77b4"/>
<circle cx="74.1" cy="176.1" r="1.35" fill="#1f77b4"/>
<circle cx="75.8" cy="173.3" r="1.35" fill="#1f77b4"/>
<circle cx="99.6" cy="130.3" r="1.35" fill="#1f77b4"/>
<circle cx="100.3" cy="127.5" r="1.35" fill="#1f77b4"/>
<circle cx="128.3" cy="86.7" r="1.35" fill="#1f77b4"/>
<circle cx="92.6" cy="141.8" r="1.35" fill="#1f77b4"/>
<circle cx="123.3" cy="90.0" r="1.35" fill="#1f77b4"/>
<circle cx="120.9" cy="95.1" r="1.35" fill="#1f77b4"/>
<circle cx="99.9" cy="130.7" r="1.35" fill="#1f77b4"/>
<circle cx="64.4" cy="195.8" r="1.35" fill="#1f77b4"/>
<circle cx="106.8" cy="117.8" r="1.35" fill="#1f77b4"/>
<circle cx="58.2" cy="208.2" r="1.35" fill="#1f77b4"/>
<circle cx="114.8" cy="105.7" r="1.35" fill="#1f77b4"/>
<circle cx="100.8" cy="125.2" r="1.35" fill="#1f77b4"/>
<circle cx="129.5" cy="79.7" r="1.35" fill="#1f77b4"/>
<circle cx="60.1" cy="204.4" r="1.35" fill="#1f77b4"/>
<circle cx="59.6" cy="205.2" r="1.35" fill="#1f77b4"/>
<circle cx="119.3" cy="95.8" r="1.35" fill="#1f77b4"/>
<circle cx="59.0" cy="206.7" r="1.35" fill="#1f77b4"/>
<circle cx="96.5" cy="134.2" r="1.35" fill="#1f77b4"/>
<circle cx="89.8" cy="144.9" r="1.35" fill="#1f77b4"/>
<circle cx="82.9" cy="158.7" r="1.35" fill="#1f77b4"/>
<circle cx="117.1" cy="96.8" r="1.35" fill="#1f77b4"/>
<circle cx="125.1" cy="91.8" r="1.35" fill="#1f77b4"/>
<circle cx="131.0" cy="84.5" r="1.35" fill="#1f77b4"/>
<circle cx="94.0" cy="138.4" r="1.35" fill="#1f77b4"/>
<circle cx="122.0" cy="92.6" r="1.35" fill="#1f77b4"/>
<circle cx="114.8" cy="103.6" r="1.35" fill="#1f77b4"/>
<circle cx="131.5" cy="83.1" r="1.35" fill="#1f77b4"/>
<circle cx="130.8" cy="83.9" r="1.35" fill="#1f77b4"/>
<circle cx="65.7" cy="193.3" r="1.35" fill="#1f77b4"/>
<circle cx="70.2" cy="183.9" r="1.35" fill="#1f77b4"/>
<circle cx="103.1" cy="127.2" r="1.35" fill="#1f77b4"/>
<circle cx="120.5" cy="92.1" r="1.35" fill="#1f77b4"/>
<circle cx="92.0" cy="143.0" r="1.35" fill="#1f77b4"/>
<circle cx="113.7" cy="108.1" r="1.35" fill="#1f77b4"/>
<circle cx="120.6" cy="94.1" r="1.35" fill="#1f77b4"/>
<circle cx="83.3" cy="159.7" r="1.35" fill="#1f77b4"/>
<circle cx="58.6" cy="207.1" r="1.35" fill="#1f77b4"/>
<circle cx="129.4" cy="85.3" r="1.35" fill="#1f77b4"/>
<circle cx="123.8" cy="89.7" r="1.35" fill="#1f77b4"/>
<circle cx="88.5" cy="148.0" r="1.35" fill="#1f77b4"/>
<circle cx="117.8" cy="96.6" r="1.35" fill="#1f77b4"/>
<circle cx="102.4" cy="124.8" r="1.35" fill="#1f77b4"/>
<circle cx="122.1" cy="93.8" r="1.35" fill="#1f77b4"/>
<circle cx="129.4" cy="84.3" r="1.35" fill="#1f77b4"/>
<circle cx="82.1" cy="162.0" r="1.35" fill="#1f77b4"/>
<circle cx="107.4" cy="114.6" r="1.35" fill="#1f77b4"/>
<circle cx="158.7" cy="25.2" r="1.35" fill="#1f00ff"/>
<circle cx="104.6" cy="126.9" r="1.35" fill="#1f77b4"/>
<circle cx="102.9" cy="132.5" r="1.35" fill="#1f77b4"/>
<circle cx="118.3" cy="107.1" r="1.35" fill="#1f77b4"/>
<circle cx="126.2" cy="97.6" r="1.35" fill="#1f77b4"/>
<circle cx="120.7" cy="94.4" r="1.35" fill="#1f77b4"/>
</g>
<rect x="46.5" y="16.6" width="267.70" height="200.60" fill="none" stroke="#707070" stroke-width="1.35"/>
<line x1="43.9" y1="193.30" x2="46.5" y2="193.30" stroke="#707070" stroke-width="1.1"/>
<text x="40.6" y="197.6" font-size="10" text-anchor="end" textLength="18.3" lengthAdjust="spacingAndGlyphs" fill="#222">200</text>
<line x1="43.9" y1="165.00" x2="46.5" y2="165.00" stroke="#707070" stroke-width="1.1"/>
<text x="40.6" y="169.3" font-size="10" text-anchor="end" textLength="18.3" lengthAdjust="spacingAndGlyphs" fill="#222">400</text>
<line x1="43.9" y1="136.70" x2="46.5" y2="136.70" stroke="#707070" stroke-width="1.1"/>
<text x="40.6" y="141.0" font-size="10" text-anchor="end" textLength="18.3" lengthAdjust="spacingAndGlyphs" fill="#222">600</text>
<line x1="43.9" y1="108.40" x2="46.5" y2="108.40" stroke="#707070" stroke-width="1.1"/>
<text x="40.6" y="112.7" font-size="10" text-anchor="end" textLength="18.3" lengthAdjust="spacingAndGlyphs" fill="#222">800</text>
<line x1="43.9" y1="80.10" x2="46.5" y2="80.10" stroke="#707070" stroke-width="1.1"/>
<text x="40.6" y="84.4" font-size="10" text-anchor="end" textLength="24.4" lengthAdjust="spacingAndGlyphs" fill="#222">1000</text>
<line x1="43.9" y1="51.80" x2="46.5" y2="51.80" stroke="#707070" stroke-width="1.1"/>
<text x="40.6" y="56.1" font-size="10" text-anchor="end" textLength="24.4" lengthAdjust="spacingAndGlyphs" fill="#222">1200</text>
<line x1="43.9" y1="23.50" x2="46.5" y2="23.50" stroke="#707070" stroke-width="1.1"/>
<text x="40.6" y="27.8" font-size="10" text-anchor="end" textLength="24.4" lengthAdjust="spacingAndGlyphs" fill="#222">1400</text>
<line x1="51.60" y1="217.2" x2="51.60" y2="219.79999999999998" stroke="#707070" stroke-width="1.1"/>
<text x="51.6" y="229.6" font-size="10" text-anchor="middle" textLength="6.1" lengthAdjust="spacingAndGlyphs" fill="#222">0</text>
<line x1="85.81" y1="217.2" x2="85.81" y2="219.79999999999998" stroke="#707070" stroke-width="1.1"/>
<text x="85.8" y="229.6" font-size="10" text-anchor="middle" textLength="12.2" lengthAdjust="spacingAndGlyphs" fill="#222">10</text>
<line x1="120.02" y1="217.2" x2="120.02" y2="219.79999999999998" stroke="#707070" stroke-width="1.1"/>
<text x="120.0" y="229.6" font-size="10" text-anchor="middle" textLength="12.2" lengthAdjust="spacingAndGlyphs" fill="#222">20</text>
<line x1="154.23" y1="217.2" x2="154.23" y2="219.79999999999998" stroke="#707070" stroke-width="1.1"/>
<text x="154.2" y="229.6" font-size="10" text-anchor="middle" textLength="12.2" lengthAdjust="spacingAndGlyphs" fill="#222">30</text>
<line x1="188.44" y1="217.2" x2="188.44" y2="219.79999999999998" stroke="#707070" stroke-width="1.1"/>
<text x="188.4" y="229.6" font-size="10" text-anchor="middle" textLength="12.2" lengthAdjust="spacingAndGlyphs" fill="#222">40</text>
<line x1="222.65" y1="217.2" x2="222.65" y2="219.79999999999998" stroke="#707070" stroke-width="1.1"/>
<text x="222.6" y="229.6" font-size="10" text-anchor="middle" textLength="12.2" lengthAdjust="spacingAndGlyphs" fill="#222">50</text>
<line x1="256.86" y1="217.2" x2="256.86" y2="219.79999999999998" stroke="#707070" stroke-width="1.1"/>
<text x="256.9" y="229.6" font-size="10" text-anchor="middle" textLength="12.2" lengthAdjust="spacingAndGlyphs" fill="#222">60</text>
<line x1="291.07" y1="217.2" x2="291.07" y2="219.79999999999998" stroke="#707070" stroke-width="1.1"/>
<text x="291.1" y="229.6" font-size="10" text-anchor="middle" textLength="12.2" lengthAdjust="spacingAndGlyphs" fill="#222">70</text>
<text x="179.5" y="12.7" font-size="10.2" text-anchor="middle" textLength="117.6" lengthAdjust="spacingAndGlyphs" fill="#222">k-mean:q-k (Sep 2022)</text>
<text x="180.0" y="242.6" font-size="10.2" text-anchor="middle" textLength="92.0" lengthAdjust="spacingAndGlyphs" fill="#222">Density (veh./Km)</text>
<text x="9.9" y="117.0" font-size="10.2" text-anchor="middle" textLength="74.6" lengthAdjust="spacingAndGlyphs" transform="rotate(-90 9.9 117.0)" fill="#222">Flow (veh./Hr.)</text>
<g clip-path="url(#cTR)">
<path d="M450.6 102.1L455.0 106.5M450.6 106.5L455.0 102.1" stroke="#ff00db" stroke-width="1.2"/>
<path d="M506.1 154.4L510.5 158.8M506.1 158.8L510.5 154.4" stroke="#00ff6e" stroke-width="1.2"/>
<path d="M455.2 96.5L459.6 100.9M455.2 100.9L459.6 96.5" stroke="#00fff6" stroke-width="1.2"/>
<path d="M461.8 115.7L466.2 120.1M461.8 120.1L466.2 115.7" stroke="#fc00f5" stroke-width="1.2"/>
<path d="M455.1 100.2L459.5 104.6M455.1 104.6L459.5 100.2" stroke="#00fff6" stroke-width="1.2"/>
<path d="M451.7 98.9L456.1 103.3M451.7 103.3L456.1 98.9" stroke="#ff009a" stroke-width="1.2"/>
<path d="M532.5 175.1L536.9 179.5M532.5 179.5L536.9 175.1" stroke="#0408ff" stroke-width="1.2"/>
<path d="M493.9 146.8L498.3 151.2M493.9 151.2L498.3 146.8" stroke="#0045ff" stroke-width="1.2"/>
<path d="M455.3 101.3L459.7 105.7M455.3 105.7L459.7 101.3" stroke="#00aaff" stroke-width="1.2"/>
<path d="M484.0 137.9L488.4 142.3M484.0 142.3L488.4 137.9" stroke="#00eaff" stroke-width="1.2"/>
<path d="M490.1 144.3L494.5 148.7M490.1 148.7L494.5 144.3" stroke="#00ffd3" stroke-width="1.2"/>
<path d="M459.5 104.6L463.9 109.0M459.5 109.0L463.9 104.6" stroke="#0086ff" stroke-width="1.2"/>
<path d="M444.8 77.4L449.2 81.8M444.8 81.8L449.2 77.4" stroke="#0092ff" stroke-width="1.2"/>
<path d="M452.7 88.2L457.1 92.6M452.7 92.6L457.1 88.2" stroke="#00c7ff" stroke-width="1.2"/>
<path d="M497.5 148.6L501.9 153.0M497.5 153.0L501.9 148.6" stroke="#00ffd3" stroke-width="1.2"/>
<path d="M491.0 144.2L495.4 148.6M491.0 148.6L495.4 144.2" stroke="#00aaff" stroke-width="1.2"/>
<path d="M452.2 94.9L456.6 99.3M452.2 99.3L456.6 94.9" stroke="#e200ff" stroke-width="1.2"/>
<path d="M470.6 119.9L475.0 124.3M470.6 124.3L475.0 119.9" stroke="#00eaff" stroke-width="1.2"/>
<path d="M457.1 95.9L461.5 100.3M457.1 100.3L461.5 95.9" stroke="#0069ff" stroke-width="1.2"/>
<path d="M451.4 94.3L455.8 98.7M451.4 98.7L455.8 94.3" stroke="#ff00db" stroke-width="1.2"/>
<path d="M461.9 109.8L466.3 114.2M461.9 114.2L466.3 109.8" stroke="#00c7ff" stroke-width="1.2"/>
<path d="M455.3 97.0L459.7 101.4M455.3 101.4L459.7 97.0" stroke="#e200ff" stroke-width="1.2"/>
<path d="M520.5 166.3L524.9 170.7M520.5 170.7L524.9 166.3" stroke="#7e00ff" stroke-width="1.2"/>
<path d="M496.0 145.0L500.4 149.4M496.0 149.4L500.4 145.0" stroke="#0069ff" stroke-width="1.2"/>
<path d="M567.5 196.1L571.9 200.5M567.5 200.5L571.9 196.1" stroke="#00ff6e" stroke-width="1.2"/>
<path d="M503.3 152.6L507.7 157.0M503.3 157.0L507.7 152.6" stroke="#00ffa3" stroke-width="1.2"/>
<path d="M457.5 110.4L461.9 114.8M457.5 114.8L461.9 110.4" stroke="#ff009a" stroke-width="1.2"/>
<path d="M470.1 132.9L474.5 137.3M470.1 137.3L474.5 132.9" stroke="#ff00db" stroke-width="1.2"/>
<path d="M464.4 112.8L468.8 117.2M464.4 117.2L468.8 112.8" stroke="#fc00f5" stroke-width="1.2"/>
<path d="M450.9 88.2L455.3 92.6M450.9 92.6L455.3 88.2" stroke="#00aaff" stroke-width="1.2"/>
<path d="M515.2 161.4L519.6 165.8M515.2 165.8L519.6 161.4" stroke="#00ffa3" stroke-width="1.2"/>
<path d="M463.5 111.5L467.9 115.9M463.5 115.9L467.9 111.5" stroke="#00ffd3" stroke-width="1.2"/>
<path d="M496.7 148.4L501.1 152.8M496.7 152.8L501.1 148.4" stroke="#00ff6e" stroke-width="1.2"/>
<path d="M498.7 149.0L503.1 153.4M498.7 153.4L503.1 149.0" stroke="#0092ff" stroke-width="1.2"/>
<path d="M446.6 78.2L451.0 82.6M446.6 82.6L451.0 78.2" stroke="#00aaff" stroke-width="1.2"/>
<path d="M470.6 116.9L475.0 121.3M470.6 121.3L475.0 116.9" stroke="#00c7ff" stroke-width="1.2"/>
<path d="M454.6 101.6L459.0 106.0M454.6 106.0L459.0 101.6" stroke="#ff00b7" stroke-width="1.2"/>
<path d="M464.0 114.8L468.4 119.2M464.0 119.2L468.4 114.8" stroke="#e200ff" stroke-width="1.2"/>
<path d="M470.2 120.4L474.6 124.8M470.2 124.8L474.6 120.4" stroke="#00c7ff" stroke-width="1.2"/>
<path d="M481.1 150.5L485.5 154.9M481.1 154.9L485.5 150.5" stroke="#ff00db" stroke-width="1.2"/>
<path d="M497.9 161.3L502.3 165.7M497.9 165.7L502.3 161.3" stroke="#fc00f5" stroke-width="1.2"/>
<path d="M451.0 88.5L455.4 92.9M451.0 92.9L455.4 88.5" stroke="#00ffd3" stroke-width="1.2"/>
<path d="M498.7 149.1L503.1 153.5M498.7 153.5L503.1 149.1" stroke="#0069ff" stroke-width="1.2"/>
<path d="M524.2 169.4L528.6 173.8M524.2 173.8L528.6 169.4" stroke="#00ff6e" stroke-width="1.2"/>
<path d="M445.4 72.6L449.8 77.0M445.4 77.0L449.8 72.6" stroke="#00c7ff" stroke-width="1.2"/>
<path d="M509.5 157.6L513.9 162.0M509.5 162.0L513.9 157.6" stroke="#0028ff" stroke-width="1.2"/>
<path d="M452.0 92.3L456.4 96.7M452.0 96.7L456.4 92.3" stroke="#00aaff" stroke-width="1.2"/>
<path d="M478.4 128.3L482.8 132.7M478.4 132.7L482.8 128.3" stroke="#00ffd3" stroke-width="1.2"/>
<path d="M527.0 171.9L531.4 176.3M527.0 176.3L531.4 171.9" stroke="#1f00ff" stroke-width="1.2"/>
<path d="M475.4 124.8L479.8 129.2M475.4 129.2L479.8 124.8" stroke="#00aaff" stroke-width="1.2"/>
<path d="M441.4 72.5L445.8 76.9M441.4 76.9L445.8 72.5" stroke="#ff00b7" stroke-width="1.2"/>
<path d="M446.1 73.4L450.5 77.8M446.1 77.8L450.5 73.4" stroke="#00ff6e" stroke-width="1.2"/>
<path d="M477.7 129.7L482.1 134.1M477.7 134.1L482.1 129.7" stroke="#00fff6" stroke-width="1.2"/>
<path d="M518.9 164.3L523.3 168.7M518.9 168.7L523.3 164.3" stroke="#00ff6e" stroke-width="1.2"/>
<path d="M444.1 72.9L448.5 77.3M444.1 77.3L448.5 72.9" stroke="#ff009a" stroke-width="1.2"/>
<path d="M512.7 160.3L517.1 164.7M512.7 164.7L517.1 160.3" stroke="#00ff92" stroke-width="1.2"/>
<path d="M450.0 92.1L454.4 96.5M450.0 96.5L454.4 92.1" stroke="#ff00b7" stroke-width="1.2"/>
<path d="M470.1 137.4L474.5 141.8M470.1 141.8L474.5 137.4" stroke="#ff00e7" stroke-width="1.2"/>
<path d="M475.7 126.8L480.1 131.2M475.7 131.2L480.1 126.8" stroke="#00eaff" stroke-width="1.2"/>
<path d="M464.0 110.6L468.4 115.0M464.0 115.0L468.4 110.6" stroke="#00aaff" stroke-width="1.2"/>
<path d="M483.7 137.5L488.1 141.9M483.7 141.9L488.1 137.5" stroke="#00c7ff" stroke-width="1.2"/>
<path d="M448.6 86.2L453.0 90.6M448.6 90.6L453.0 86.2" stroke="#00fff6" stroke-width="1.2"/>
<path d="M460.6 103.8L465.0 108.2M460.6 108.2L465.0 103.8" stroke="#0086ff" stroke-width="1.2"/>
<path d="M462.8 111.5L467.2 115.9M462.8 115.9L467.2 111.5" stroke="#e200ff" stroke-width="1.2"/>
<path d="M450.1 83.1L454.5 87.5M450.1 87.5L454.5 83.1" stroke="#e200ff" stroke-width="1.2"/>
<path d="M445.4 82.1L449.8 86.5M445.4 86.5L449.8 82.1" stroke="#fc00f5" stroke-width="1.2"/>
<path d="M471.7 121.2L476.1 125.6M471.7 125.6L476.1 121.2" stroke="#0045ff" stroke-width="1.2"/>
<path d="M457.1 96.1L461.5 100.5M457.1 100.5L461.5 96.1" stroke="#00aaff" stroke-width="1.2"/>
<path d="M445.1 78.7L449.5 83.1M445.1 83.1L449.5 78.7" stroke="#0092ff" stroke-width="1.2"/>
<path d="M460.2 118.7L464.6 123.1M460.2 123.1L464.6 118.7" stroke="#ff00b7" stroke-width="1.2"/>
<path d="M448.3 86.4L452.7 90.8M448.3 90.8L452.7 86.4" stroke="#ff009a" stroke-width="1.2"/>
<path d="M466.5 118.6L470.9 123.0M466.5 123.0L470.9 118.6" stroke="#ff00db" stroke-width="1.2"/>
<path d="M461.0 108.4L465.4 112.8M461.0 112.8L465.4 108.4" stroke="#0069ff" stroke-width="1.2"/>
<path d="M451.4 89.7L455.8 94.1M451.4 94.1L455.8 89.7" stroke="#00eaff" stroke-width="1.2"/>
<path d="M467.1 124.3L471.5 128.7M467.1 128.7L471.5 124.3" stroke="#ff009a" stroke-width="1.2"/>
<path d="M482.6 135.2L487.0 139.6M482.6 139.6L487.0 135.2" stroke="#00c7ff" stroke-width="1.2"/>
<path d="M570.2 193.6L574.6 198.0M570.2 198.0L574.6 193.6" stroke="#00ff74" stroke-width="1.2"/>
<path d="M521.4 164.3L525.8 168.7M521.4 168.7L525.8 164.3" stroke="#00ff92" stroke-width="1.2"/>
<path d="M447.5 80.7L451.9 85.1M447.5 85.1L451.9 80.7" stroke="#00ffd3" stroke-width="1.2"/>
<path d="M443.6 75.4L448.0 79.8M443.6 79.8L448.0 75.4" stroke="#fc00f5" stroke-width="1.2"/>
<path d="M461.4 106.0L465.8 110.4M461.4 110.4L465.8 106.0" stroke="#00aaff" stroke-width="1.2"/>
<path d="M459.4 102.4L463.8 106.8M459.4 106.8L463.8 102.4" stroke="#0092ff" stroke-width="1.2"/>
<path d="M497.7 148.4L502.1 152.8M497.7 152.8L502.1 148.4" stroke="#00ff6e" stroke-width="1.2"/>
<path d="M457.2 100.8L461.6 105.2M457.2 105.2L461.6 100.8" stroke="#0086ff" stroke-width="1.2"/>
<path d="M453.1 94.3L457.5 98.7M453.1 98.7L457.5 94.3" stroke="#0045ff" stroke-width="1.2"/>
<path d="M472.5 121.4L476.9 125.8M472.5 125.8L476.9 121.4" stroke="#0045ff" stroke-width="1.2"/>
<path d="M472.5 124.1L476.9 128.5M472.5 128.5L476.9 124.1" stroke="#00eaff" stroke-width="1.2"/>
<path d="M456.7 99.1L461.1 103.5M456.7 103.5L461.1 99.1" stroke="#0086ff" stroke-width="1.2"/>
<path d="M482.5 135.5L486.9 139.9M482.5 139.9L486.9 135.5" stroke="#00aaff" stroke-width="1.2"/>
<path d="M492.1 147.2L496.5 151.6M492.1 151.6L496.5 147.2" stroke="#00ffa3" stroke-width="1.2"/>
<path d="M517.1 164.9L521.5 169.3M517.1 169.3L521.5 164.9" stroke="#ad00ff" stroke-width="1.2"/>
<path d="M495.6 145.7L500.0 150.1M495.6 150.1L500.0 145.7" stroke="#00aaff" stroke-width="1.2"/>
<path d="M463.2 107.1L467.6 111.5M463.2 111.5L467.6 107.1" stroke="#00fff6" stroke-width="1.2"/>
<path d="M448.5 81.6L452.9 86.0M448.5 86.0L452.9 81.6" stroke="#00ff86" stroke-width="1.2"/>
<path d="M483.6 134.9L488.0 139.3M483.6 139.3L488.0 134.9" stroke="#0045ff" stroke-width="1.2"/>
<path d="M473.3 120.9L477.7 125.3M473.3 125.3L477.7 120.9" stroke="#00ffd3" stroke-width="1.2"/>
<path d="M473.2 119.8L477.6 124.2M473.2 124.2L477.6 119.8" stroke="#0092ff" stroke-width="1.2"/>
<path d="M440.9 69.9L445.3 74.3M440.9 74.3L445.3 69.9" stroke="#ff00b7" stroke-width="1.2"/>
<path d="M447.8 83.6L452.2 88.0M447.8 88.0L452.2 83.6" stroke="#ff00db" stroke-width="1.2"/>
<path d="M500.5 148.3L504.9 152.7M500.5 152.7L504.9 148.3" stroke="#0092ff" stroke-width="1.2"/>
<path d="M466.0 114.3L470.4 118.7M466.0 118.7L470.4 114.3" stroke="#0069ff" stroke-width="1.2"/>
<path d="M461.0 105.6L465.4 110.0M461.0 110.0L465.4 105.6" stroke="#0069ff" stroke-width="1.2"/>
<path d="M492.9 144.1L497.3 148.5M492.9 148.5L497.3 144.1" stroke="#00ff92" stroke-width="1.2"/>
<path d="M448.2 86.6L452.6 91.0M448.2 91.0L452.6 86.6" stroke="#00c7ff" stroke-width="1.2"/>
<path d="M497.7 148.5L502.1 152.9M497.7 152.9L502.1 148.5" stroke="#0069ff" stroke-width="1.2"/>
<path d="M469.7 118.4L474.1 122.8M469.7 122.8L474.1 118.4" stroke="#0069ff" stroke-width="1.2"/>
<path d="M476.5 127.7L480.9 132.1M476.5 132.1L480.9 127.7" stroke="#0045ff" stroke-width="1.2"/>
<path d="M468.5 117.3L472.9 121.7M468.5 121.7L472.9 117.3" stroke="#00aaff" stroke-width="1.2"/>
<path d="M452.0 90.7L456.4 95.1M452.0 95.1L456.4 90.7" stroke="#00c7ff" stroke-width="1.2"/>
<path d="M470.7 117.8L475.1 122.2M470.7 122.2L475.1 117.8" stroke="#00ffd3" stroke-width="1.2"/>
<path d="M447.9 89.0L452.3 93.4M447.9 93.4L452.3 89.0" stroke="#ff00b7" stroke-width="1.2"/>
<path d="M489.3 140.7L493.7 145.1M489.3 145.1L493.7 140.7" stroke="#00aaff" stroke-width="1.2"/>
<path d="M459.5 103.6L463.9 108.0M459.5 108.0L463.9 103.6" stroke="#00aaff" stroke-width="1.2"/>
<path d="M492.3 141.4L496.7 145.8M492.3 145.8L496.7 141.4" stroke="#00aaff" stroke-width="1.2"/>
<path d="M445.3 79.5L449.7 83.9M445.3 83.9L449.7 79.5" stroke="#00eaff" stroke-width="1.2"/>
<path d="M513.7 160.6L518.1 165.0M513.7 165.0L518.1 160.6" stroke="#a100ff" stroke-width="1.2"/>
<path d="M443.7 104.8L448.1 109.2M443.7 109.2L448.1 104.8" stroke="#ff00b7" stroke-width="1.2"/>
<path d="M497.9 164.8L502.3 169.2M497.9 169.2L502.3 164.8" stroke="#ff00ed" stroke-width="1.2"/>
<path d="M471.6 123.8L476.0 128.2M471.6 128.2L476.0 123.8" stroke="#00ffd3" stroke-width="1.2"/>
<path d="M510.8 157.0L515.2 161.4M510.8 161.4L515.2 157.0" stroke="#00ffa3" stroke-width="1.2"/>
<path d="M444.4 79.9L448.8 84.3M444.4 84.3L448.8 79.9" stroke="#ff00db" stroke-width="1.2"/>
<path d="M454.5 96.7L458.9 101.1M454.5 101.1L458.9 96.7" stroke="#ff009a" stroke-width="1.2"/>
<path d="M450.9 89.0L455.3 93.4M450.9 93.4L455.3 89.0" stroke="#0092ff" stroke-width="1.2"/>
<path d="M492.7 145.0L497.1 149.4M492.7 149.4L497.1 145.0" stroke="#00ffd3" stroke-width="1.2"/>
<path d="M444.4 75.6L448.8 80.0M444.4 80.0L448.8 75.6" stroke="#00eaff" stroke-width="1.2"/>
<path d="M479.6 129.5L484.0 133.9M479.6 133.9L484.0 129.5" stroke="#00c7ff" stroke-width="1.2"/>
<path d="M452.7 93.1L457.1 97.5M452.7 97.5L457.1 93.1" stroke="#0045ff" stroke-width="1.2"/>
<path d="M520.6 167.5L525.0 171.9M520.6 171.9L525.0 167.5" stroke="#00ffa3" stroke-width="1.2"/>
<path d="M450.8 87.5L455.2 91.9M450.8 91.9L455.2 87.5" stroke="#00fff6" stroke-width="1.2"/>
<path d="M463.7 113.5L468.1 117.9M463.7 117.9L468.1 113.5" stroke="#fc00f5" stroke-width="1.2"/>
<path d="M482.0 136.1L486.4 140.5M482.0 140.5L486.4 136.1" stroke="#00eaff" stroke-width="1.2"/>
<path d="M456.0 94.1L460.4 98.5M456.0 98.5L460.4 94.1" stroke="#ff00b7" stroke-width="1.2"/>
<path d="M459.9 104.9L464.3 109.3M459.9 109.3L464.3 104.9" stroke="#ff009a" stroke-width="1.2"/>
<path d="M439.2 67.0L443.6 71.4M439.2 71.4L443.6 67.0" stroke="#e200ff" stroke-width="1.2"/>
<path d="M477.9 125.9L482.3 130.3M477.9 130.3L482.3 125.9" stroke="#00eaff" stroke-width="1.2"/>
<path d="M493.9 145.7L498.3 150.1M493.9 150.1L498.3 145.7" stroke="#00eaff" stroke-width="1.2"/>
<path d="M455.2 100.1L459.6 104.5M455.2 104.5L459.6 100.1" stroke="#fc00f5" stroke-width="1.2"/>
<path d="M447.0 79.1L451.4 83.5M447.0 83.5L451.4 79.1" stroke="#0086ff" stroke-width="1.2"/>
<path d="M515.1 160.3L519.5 164.7M515.1 164.7L519.5 160.3" stroke="#00ffa3" stroke-width="1.2"/>
<path d="M501.5 150.9L505.9 155.3M501.5 155.3L505.9 150.9" stroke="#00fff6" stroke-width="1.2"/>
<path d="M438.9 68.6L443.3 73.0M438.9 73.0L443.3 68.6" stroke="#ff00db" stroke-width="1.2"/>
<path d="M443.4 68.9L447.8 73.3M443.4 73.3L447.8 68.9" stroke="#00ff5c" stroke-width="1.2"/>
<path d="M453.5 95.3L457.9 99.7M453.5 99.7L457.9 95.3" stroke="#00eaff" stroke-width="1.2"/>
<path d="M496.2 147.0L500.6 151.4M496.2 151.4L500.6 147.0" stroke="#00ffd3" stroke-width="1.2"/>
<path d="M442.7 66.6L447.1 71.0M442.7 71.0L447.1 66.6" stroke="#ff009a" stroke-width="1.2"/>
<path d="M444.7 83.8L449.1 88.2M444.7 88.2L449.1 83.8" stroke="#ff009a" stroke-width="1.2"/>
<path d="M467.3 117.2L471.7 121.6M467.3 121.6L471.7 117.2" stroke="#fc00f5" stroke-width="1.2"/>
<path d="M494.6 145.0L499.0 149.4M494.6 149.4L499.0 145.0" stroke="#00ff6e" stroke-width="1.2"/>
<path d="M495.9 146.0L500.3 150.4M495.9 150.4L500.3 146.0" stroke="#00ffd3" stroke-width="1.2"/>
<path d="M464.9 109.8L469.3 114.2M464.9 114.2L469.3 109.8" stroke="#00aaff" stroke-width="1.2"/>
<path d="M466.3 120.4L470.7 124.8M466.3 124.8L470.7 120.4" stroke="#fc00f5" stroke-width="1.2"/>
<path d="M456.1 99.1L460.5 103.5M456.1 103.5L460.5 99.1" stroke="#00aaff" stroke-width="1.2"/>
<circle cx="452.5" cy="75.9" r="1.6" fill="#37ff00"/>
<circle cx="533.9" cy="169.7" r="1.6" fill="#0069ff"/>
<circle cx="508.8" cy="152.8" r="1.6" fill="#bf00ff"/>
<circle cx="525.8" cy="163.1" r="1.6" fill="#3d00ff"/>
<circle cx="531.8" cy="169.9" r="1.6" fill="#0045ff"/>
<circle cx="522.2" cy="162.8" r="1.6" fill="#6000ff"/>
<circle cx="453.6" cy="80.7" r="1.6" fill="#00ff92"/>
<circle cx="544.0" cy="171.7" r="1.6" fill="#37ff00"/>
<circle cx="521.9" cy="159.7" r="1.6" fill="#00ff2d"/>
<circle cx="454.2" cy="83.8" r="1.6" fill="#00ff92"/>
<circle cx="498.1" cy="141.2" r="1.6" fill="#0069ff"/>
<circle cx="485.0" cy="122.1" r="1.6" fill="#00ff2d"/>
<circle cx="509.0" cy="151.6" r="1.6" fill="#e200ff"/>
<circle cx="511.1" cy="155.4" r="1.6" fill="#0069ff"/>
<circle cx="505.2" cy="149.4" r="1.6" fill="#6000ff"/>
<circle cx="501.1" cy="146.3" r="1.6" fill="#a100ff"/>
<circle cx="540.9" cy="173.2" r="1.6" fill="#00ff2d"/>
<circle cx="493.6" cy="138.9" r="1.6" fill="#bf00ff"/>
<circle cx="542.1" cy="175.8" r="1.6" fill="#a100ff"/>
<circle cx="515.4" cy="152.6" r="1.6" fill="#00ff2d"/>
<circle cx="539.1" cy="173.4" r="1.6" fill="#7e00ff"/>
<circle cx="530.4" cy="167.5" r="1.6" fill="#0028ff"/>
<circle cx="470.4" cy="106.3" r="1.6" fill="#00ff6e"/>
<circle cx="459.8" cy="93.6" r="1.6" fill="#00ff51"/>
<circle cx="493.9" cy="135.2" r="1.6" fill="#bf00ff"/>
<circle cx="472.6" cy="106.9" r="1.6" fill="#00ff51"/>
<circle cx="489.3" cy="127.3" r="1.6" fill="#14ff00"/>
<circle cx="546.6" cy="175.5" r="1.6" fill="#00ff2d"/>
<circle cx="500.2" cy="141.2" r="1.6" fill="#a100ff"/>
<circle cx="544.4" cy="172.7" r="1.6" fill="#37ff00"/>
<circle cx="518.4" cy="161.9" r="1.6" fill="#0069ff"/>
<circle cx="533.9" cy="170.0" r="1.6" fill="#0028ff"/>
<circle cx="506.3" cy="151.1" r="1.6" fill="#0069ff"/>
<circle cx="508.6" cy="152.2" r="1.6" fill="#0045ff"/>
<circle cx="492.5" cy="138.4" r="1.6" fill="#0045ff"/>
<circle cx="512.6" cy="153.4" r="1.6" fill="#bf00ff"/>
<circle cx="497.8" cy="137.9" r="1.6" fill="#00ff6e"/>
<circle cx="521.6" cy="159.1" r="1.6" fill="#0045ff"/>
<circle cx="477.4" cy="115.0" r="1.6" fill="#00ff51"/>
<circle cx="505.4" cy="144.8" r="1.6" fill="#00ff6e"/>
<circle cx="463.2" cy="99.2" r="1.6" fill="#00ff51"/>
<circle cx="490.7" cy="135.9" r="1.6" fill="#0045ff"/>
<circle cx="500.8" cy="145.2" r="1.6" fill="#e200ff"/>
<circle cx="541.2" cy="176.5" r="1.6" fill="#6000ff"/>
<circle cx="519.2" cy="159.8" r="1.6" fill="#6000ff"/>
<circle cx="470.2" cy="108.6" r="1.6" fill="#00ff10"/>
<circle cx="477.7" cy="118.0" r="1.6" fill="#00ff10"/>
<circle cx="500.8" cy="146.8" r="1.6" fill="#0045ff"/>
<circle cx="540.7" cy="171.3" r="1.6" fill="#00ff6e"/>
<circle cx="532.7" cy="169.7" r="1.6" fill="#0069ff"/>
<circle cx="500.6" cy="143.4" r="1.6" fill="#e200ff"/>
<circle cx="522.2" cy="163.1" r="1.6" fill="#3d00ff"/>
<circle cx="526.3" cy="165.3" r="1.6" fill="#bf00ff"/>
<circle cx="461.0" cy="93.3" r="1.6" fill="#00ff2d"/>
<circle cx="523.7" cy="165.3" r="1.6" fill="#0028ff"/>
<circle cx="510.3" cy="154.1" r="1.6" fill="#a100ff"/>
<circle cx="533.7" cy="169.1" r="1.6" fill="#0408ff"/>
<circle cx="521.7" cy="162.2" r="1.6" fill="#0408ff"/>
<circle cx="511.0" cy="156.1" r="1.6" fill="#0408ff"/>
<circle cx="493.7" cy="134.1" r="1.6" fill="#14ff00"/>
<circle cx="500.0" cy="143.0" r="1.6" fill="#6000ff"/>
<circle cx="533.7" cy="171.0" r="1.6" fill="#0028ff"/>
<circle cx="528.7" cy="165.3" r="1.6" fill="#0028ff"/>
<circle cx="500.2" cy="139.9" r="1.6" fill="#37ff00"/>
<circle cx="506.5" cy="150.5" r="1.6" fill="#a100ff"/>
<circle cx="503.3" cy="146.5" r="1.6" fill="#0408ff"/>
<circle cx="545.8" cy="174.4" r="1.6" fill="#37ff00"/>
<circle cx="509.3" cy="153.4" r="1.6" fill="#0028ff"/>
<circle cx="482.6" cy="125.7" r="1.6" fill="#0045ff"/>
<circle cx="529.8" cy="167.3" r="1.6" fill="#0408ff"/>
<circle cx="539.7" cy="174.4" r="1.6" fill="#7e00ff"/>
<circle cx="509.6" cy="150.3" r="1.6" fill="#e200ff"/>
<circle cx="453.6" cy="82.9" r="1.6" fill="#00ff10"/>
<circle cx="516.0" cy="150.9" r="1.6" fill="#00ff92"/>
<circle cx="530.4" cy="166.7" r="1.6" fill="#0408ff"/>
<circle cx="454.2" cy="87.3" r="1.6" fill="#0069ff"/>
<circle cx="517.8" cy="159.3" r="1.6" fill="#3d00ff"/>
<circle cx="494.7" cy="133.1" r="1.6" fill="#00ff92"/>
<circle cx="506.0" cy="150.9" r="1.6" fill="#6000ff"/>
<circle cx="547.7" cy="175.0" r="1.6" fill="#00ff10"/>
<circle cx="530.9" cy="163.9" r="1.6" fill="#00ff6e"/>
<circle cx="514.7" cy="157.5" r="1.6" fill="#a100ff"/>
<circle cx="575.5" cy="196.2" r="1.6" fill="#4f00ff"/>
<circle cx="470.9" cy="114.1" r="1.6" fill="#00ff10"/>
<circle cx="540.6" cy="175.8" r="1.6" fill="#6000ff"/>
<circle cx="471.9" cy="113.2" r="1.6" fill="#00ff2d"/>
<circle cx="470.8" cy="109.4" r="1.6" fill="#00ff51"/>
<circle cx="484.1" cy="130.2" r="1.6" fill="#a100ff"/>
<circle cx="516.9" cy="153.2" r="1.6" fill="#37ff00"/>
<circle cx="527.7" cy="160.9" r="1.6" fill="#00ff10"/>
<circle cx="528.1" cy="165.7" r="1.6" fill="#7e00ff"/>
<circle cx="524.2" cy="163.6" r="1.6" fill="#0045ff"/>
<circle cx="537.9" cy="172.2" r="1.6" fill="#0408ff"/>
<circle cx="523.3" cy="161.2" r="1.6" fill="#a100ff"/>
<circle cx="483.1" cy="128.9" r="1.6" fill="#0408ff"/>
<circle cx="519.5" cy="156.2" r="1.6" fill="#00ff92"/>
<circle cx="517.3" cy="156.5" r="1.6" fill="#a100ff"/>
<circle cx="519.7" cy="159.7" r="1.6" fill="#bf00ff"/>
<circle cx="494.1" cy="137.1" r="1.6" fill="#0069ff"/>
<circle cx="520.4" cy="154.4" r="1.6" fill="#00ff6e"/>
<circle cx="511.6" cy="154.0" r="1.6" fill="#7e00ff"/>
<circle cx="483.1" cy="128.2" r="1.6" fill="#0408ff"/>
<circle cx="513.0" cy="150.5" r="1.6" fill="#00ff51"/>
<circle cx="461.7" cy="93.5" r="1.6" fill="#00ff6e"/>
<circle cx="514.4" cy="151.9" r="1.6" fill="#00ff10"/>
<circle cx="540.3" cy="173.8" r="1.6" fill="#0408ff"/>
<circle cx="534.3" cy="168.6" r="1.6" fill="#6000ff"/>
<circle cx="491.7" cy="136.7" r="1.6" fill="#6000ff"/>
<circle cx="530.1" cy="168.4" r="1.6" fill="#0069ff"/>
<circle cx="510.6" cy="147.1" r="1.6" fill="#00ff6e"/>
<circle cx="548.4" cy="183.5" r="1.6" fill="#bf00ff"/>
<circle cx="485.1" cy="123.0" r="1.6" fill="#14ff00"/>
<circle cx="499.0" cy="143.7" r="1.6" fill="#6000ff"/>
<circle cx="517.5" cy="157.1" r="1.6" fill="#bf00ff"/>
<circle cx="508.1" cy="145.3" r="1.6" fill="#00ff10"/>
<circle cx="493.1" cy="133.8" r="1.6" fill="#00ff6e"/>
<circle cx="527.4" cy="160.9" r="1.6" fill="#00ff51"/>
<circle cx="537.7" cy="171.5" r="1.6" fill="#1f00ff"/>
<circle cx="488.9" cy="133.5" r="1.6" fill="#6000ff"/>
<circle cx="491.7" cy="136.0" r="1.6" fill="#bf00ff"/>
<circle cx="453.8" cy="83.9" r="1.6" fill="#00ff92"/>
<circle cx="534.4" cy="167.4" r="1.6" fill="#37ff00"/>
<circle cx="513.1" cy="155.5" r="1.6" fill="#6000ff"/>
<circle cx="506.6" cy="150.3" r="1.6" fill="#0408ff"/>
<circle cx="506.6" cy="144.2" r="1.6" fill="#00ff10"/>
<circle cx="495.3" cy="138.0" r="1.6" fill="#7e00ff"/>
<circle cx="542.5" cy="175.2" r="1.6" fill="#6000ff"/>
<circle cx="486.4" cy="133.2" r="1.6" fill="#7e00ff"/>
<circle cx="479.0" cy="115.0" r="1.6" fill="#00ff51"/>
<circle cx="517.3" cy="153.9" r="1.6" fill="#00ff92"/>
<circle cx="520.7" cy="156.2" r="1.6" fill="#14ff00"/>
<circle cx="518.3" cy="158.5" r="1.6" fill="#0069ff"/>
<circle cx="487.7" cy="134.7" r="1.6" fill="#a100ff"/>
<circle cx="510.1" cy="154.2" r="1.6" fill="#0408ff"/>
<circle cx="524.5" cy="163.3" r="1.6" fill="#0069ff"/>
<circle cx="486.8" cy="128.9" r="1.6" fill="#7e00ff"/>
<circle cx="509.2" cy="149.2" r="1.6" fill="#00ff2d"/>
<circle cx="504.3" cy="148.4" r="1.6" fill="#e200ff"/>
<circle cx="525.7" cy="166.0" r="1.6" fill="#a100ff"/>
<circle cx="607.0" cy="207.6" r="1.6" fill="#00ff33"/>
<circle cx="503.1" cy="144.2" r="1.6" fill="#1f00ff"/>
<circle cx="498.8" cy="145.3" r="1.6" fill="#3d00ff"/>
<circle cx="521.8" cy="162.3" r="1.6" fill="#a100ff"/>
<circle cx="471.4" cy="108.6" r="1.6" fill="#00ff92"/>
<circle cx="491.0" cy="127.6" r="1.6" fill="#37ff00"/>
<circle cx="514.8" cy="155.8" r="1.6" fill="#0045ff"/>
<circle cx="525.2" cy="160.4" r="1.6" fill="#3d00ff"/>
<circle cx="499.4" cy="143.7" r="1.6" fill="#0069ff"/>
<circle cx="504.6" cy="150.4" r="1.6" fill="#3d00ff"/>
<circle cx="532.9" cy="168.6" r="1.6" fill="#1f00ff"/>
<circle cx="485.4" cy="129.5" r="1.6" fill="#6000ff"/>
<circle cx="473.7" cy="111.0" r="1.6" fill="#14ff00"/>
<circle cx="537.1" cy="167.9" r="1.6" fill="#14ff00"/>
<circle cx="523.7" cy="164.5" r="1.6" fill="#7e00ff"/>
<circle cx="514.0" cy="151.5" r="1.6" fill="#37ff00"/>
<circle cx="525.5" cy="162.9" r="1.6" fill="#00ff6e"/>
<circle cx="515.1" cy="157.0" r="1.6" fill="#a100ff"/>
<circle cx="515.7" cy="155.5" r="1.6" fill="#6000ff"/>
<circle cx="494.8" cy="133.3" r="1.6" fill="#37ff00"/>
<circle cx="513.2" cy="149.3" r="1.6" fill="#00ff10"/>
<circle cx="512.3" cy="155.4" r="1.6" fill="#0408ff"/>
<circle cx="487.0" cy="130.7" r="1.6" fill="#1f00ff"/>
<circle cx="489.4" cy="135.6" r="1.6" fill="#1f00ff"/>
<circle cx="468.7" cy="105.6" r="1.6" fill="#00ff10"/>
<circle cx="485.5" cy="128.3" r="1.6" fill="#0028ff"/>
<circle cx="543.1" cy="175.1" r="1.6" fill="#a100ff"/>
<circle cx="481.5" cy="125.0" r="1.6" fill="#0069ff"/>
<circle cx="527.4" cy="164.7" r="1.6" fill="#7e00ff"/>
<circle cx="539.9" cy="173.6" r="1.6" fill="#0069ff"/>
<circle cx="517.4" cy="158.1" r="1.6" fill="#a100ff"/>
<circle cx="542.5" cy="175.4" r="1.6" fill="#7e00ff"/>
<circle cx="520.6" cy="156.6" r="1.6" fill="#00ff2d"/>
<circle cx="510.6" cy="147.1" r="1.6" fill="#00ff2d"/>
<circle cx="521.3" cy="157.6" r="1.6" fill="#0028ff"/>
<circle cx="482.9" cy="122.5" r="1.6" fill="#14ff00"/>
<circle cx="506.0" cy="147.9" r="1.6" fill="#0028ff"/>
<circle cx="492.5" cy="137.1" r="1.6" fill="#a100ff"/>
<circle cx="491.8" cy="136.0" r="1.6" fill="#6000ff"/>
<circle cx="393.1" cy="36.9" r="1.4" fill="#1f77b4"/>
<circle cx="422.6" cy="59.1" r="1.4" fill="#1f77b4"/>
<circle cx="407.7" cy="50.4" r="1.4" fill="#1f77b4"/>
<circle cx="365.4" cy="31.5" r="1.4" fill="#1f77b4"/>
<circle cx="383.4" cy="39.4" r="1.4" fill="#1f77b4"/>
<circle cx="401.8" cy="43.5" r="1.4" fill="#1f77b4"/>
<circle cx="398.0" cy="49.2" r="1.4" fill="#1f77b4"/>
<circle cx="442.6" cy="72.9" r="1.4" fill="#1f77b4"/>
<circle cx="410.2" cy="45.4" r="1.4" fill="#1f77b4"/>
<circle cx="368.2" cy="33.7" r="1.4" fill="#1f77b4"/>
<circle cx="407.3" cy="46.5" r="1.4" fill="#1f77b4"/>
<circle cx="407.6" cy="41.2" r="1.4" fill="#1f77b4"/>
<circle cx="437.4" cy="74.1" r="1.4" fill="#1f77b4"/>
<circle cx="399.6" cy="46.6" r="1.4" fill="#1f77b4"/>
<circle cx="393.6" cy="44.1" r="1.4" fill="#1f77b4"/>
<circle cx="396.5" cy="43.4" r="1.4" fill="#1f77b4"/>
<circle cx="398.4" cy="46.3" r="1.4" fill="#1f77b4"/>
<circle cx="382.3" cy="37.1" r="1.4" fill="#1f77b4"/>
<circle cx="407.9" cy="49.8" r="1.4" fill="#1f77b4"/>
<circle cx="408.2" cy="52.9" r="1.4" fill="#1f77b4"/>
<circle cx="393.2" cy="45.4" r="1.4" fill="#1f77b4"/>
<circle cx="442.7" cy="71.3" r="1.4" fill="#1f77b4"/>
<circle cx="381.4" cy="37.2" r="1.4" fill="#1f77b4"/>
<circle cx="372.0" cy="35.4" r="1.4" fill="#1f77b4"/>
<circle cx="441.3" cy="74.3" r="1.4" fill="#1f77b4"/>
<circle cx="381.3" cy="37.2" r="1.4" fill="#1f77b4"/>
<circle cx="427.4" cy="56.8" r="1.4" fill="#1f77b4"/>
<circle cx="433.4" cy="63.1" r="1.4" fill="#1f77b4"/>
<circle cx="378.4" cy="38.0" r="1.4" fill="#1f77b4"/>
<circle cx="403.6" cy="48.3" r="1.4" fill="#1f77b4"/>
<circle cx="380.7" cy="39.9" r="1.4" fill="#1f77b4"/>
<circle cx="431.7" cy="68.1" r="1.4" fill="#1f77b4"/>
<circle cx="419.2" cy="48.2" r="1.4" fill="#1f77b4"/>
<circle cx="379.7" cy="39.2" r="1.4" fill="#1f77b4"/>
<circle cx="381.9" cy="42.9" r="1.4" fill="#1f77b4"/>
<circle cx="381.2" cy="39.4" r="1.4" fill="#1f77b4"/>
<circle cx="380.0" cy="38.9" r="1.4" fill="#1f77b4"/>
<circle cx="382.8" cy="36.4" r="1.4" fill="#1f77b4"/>
<circle cx="412.4" cy="52.9" r="1.4" fill="#1f77b4"/>
<circle cx="393.0" cy="38.5" r="1.4" fill="#1f77b4"/>
<circle cx="414.2" cy="49.1" r="1.4" fill="#1f77b4"/>
<circle cx="431.3" cy="58.2" r="1.4" fill="#1f77b4"/>
<circle cx="439.6" cy="64.4" r="1.4" fill="#1f77b4"/>
<circle cx="396.2" cy="32.2" r="1.4" fill="#1f77b4"/>
<circle cx="395.2" cy="36.8" r="1.4" fill="#1f77b4"/>
<circle cx="399.6" cy="47.5" r="1.4" fill="#1f77b4"/>
<circle cx="401.1" cy="45.6" r="1.4" fill="#1f77b4"/>
<circle cx="408.2" cy="46.6" r="1.4" fill="#1f77b4"/>
<circle cx="430.6" cy="54.6" r="1.4" fill="#1f77b4"/>
<circle cx="397.2" cy="40.0" r="1.4" fill="#1f77b4"/>
<circle cx="416.6" cy="47.5" r="1.4" fill="#1f77b4"/>
<circle cx="425.2" cy="58.4" r="1.4" fill="#1f77b4"/>
<circle cx="405.2" cy="43.9" r="1.4" fill="#1f77b4"/>
<circle cx="406.0" cy="43.8" r="1.4" fill="#1f77b4"/>
<circle cx="403.0" cy="46.7" r="1.4" fill="#1f77b4"/>
<circle cx="368.4" cy="31.7" r="1.4" fill="#1f77b4"/>
<circle cx="374.7" cy="32.4" r="1.4" fill="#1f77b4"/>
<circle cx="364.3" cy="32.2" r="1.4" fill="#1f77b4"/>
<circle cx="423.5" cy="52.5" r="1.4" fill="#1f77b4"/>
<circle cx="401.3" cy="38.4" r="1.4" fill="#1f77b4"/>
<circle cx="370.9" cy="34.3" r="1.4" fill="#1f77b4"/>
<circle cx="429.9" cy="61.8" r="1.4" fill="#1f77b4"/>
<circle cx="400.3" cy="44.8" r="1.4" fill="#1f77b4"/>
<circle cx="378.4" cy="38.0" r="1.4" fill="#1f77b4"/>
<circle cx="400.8" cy="43.4" r="1.4" fill="#1f77b4"/>
<circle cx="366.5" cy="34.4" r="1.4" fill="#1f77b4"/>
<circle cx="387.7" cy="39.4" r="1.4" fill="#1f77b4"/>
<circle cx="382.2" cy="39.4" r="1.4" fill="#1f77b4"/>
<circle cx="403.9" cy="51.1" r="1.4" fill="#1f77b4"/>
<circle cx="372.2" cy="37.4" r="1.4" fill="#1f77b4"/>
<circle cx="426.6" cy="57.8" r="1.4" fill="#1f77b4"/>
<circle cx="390.6" cy="42.9" r="1.4" fill="#1f77b4"/>
<circle cx="437.3" cy="72.3" r="1.4" fill="#1f77b4"/>
<circle cx="397.4" cy="36.8" r="1.4" fill="#1f77b4"/>
<circle cx="393.8" cy="37.0" r="1.4" fill="#1f77b4"/>
<circle cx="370.1" cy="36.2" r="1.4" fill="#1f77b4"/>
<circle cx="412.1" cy="47.2" r="1.4" fill="#1f77b4"/>
<circle cx="435.9" cy="70.7" r="1.4" fill="#1f77b4"/>
<circle cx="436.2" cy="62.5" r="1.4" fill="#1f77b4"/>
<circle cx="399.1" cy="45.2" r="1.4" fill="#1f77b4"/>
<circle cx="398.4" cy="42.6" r="1.4" fill="#1f77b4"/>
<circle cx="369.3" cy="30.3" r="1.4" fill="#1f77b4"/>
<circle cx="396.1" cy="44.6" r="1.4" fill="#1f77b4"/>
<circle cx="419.7" cy="48.8" r="1.4" fill="#1f77b4"/>
<circle cx="430.4" cy="65.3" r="1.4" fill="#1f77b4"/>
<circle cx="363.0" cy="30.2" r="1.4" fill="#1f77b4"/>
<circle cx="430.7" cy="63.6" r="1.4" fill="#1f77b4"/>
<circle cx="376.4" cy="36.0" r="1.4" fill="#1f77b4"/>
<circle cx="383.4" cy="37.0" r="1.4" fill="#1f77b4"/>
<circle cx="383.4" cy="37.7" r="1.4" fill="#1f77b4"/>
<circle cx="404.0" cy="49.2" r="1.4" fill="#1f77b4"/>
<circle cx="387.3" cy="35.8" r="1.4" fill="#1f77b4"/>
<circle cx="403.2" cy="42.5" r="1.4" fill="#1f77b4"/>
<circle cx="404.7" cy="41.1" r="1.4" fill="#1f77b4"/>
<circle cx="364.7" cy="28.2" r="1.4" fill="#1f77b4"/>
<circle cx="400.5" cy="48.6" r="1.4" fill="#1f77b4"/>
<circle cx="428.1" cy="55.5" r="1.4" fill="#1f77b4"/>
<circle cx="382.0" cy="33.4" r="1.4" fill="#1f77b4"/>
<circle cx="417.6" cy="54.5" r="1.4" fill="#1f77b4"/>
<circle cx="394.9" cy="37.8" r="1.4" fill="#1f77b4"/>
<circle cx="403.3" cy="39.9" r="1.4" fill="#1f77b4"/>
<circle cx="389.8" cy="40.7" r="1.4" fill="#1f77b4"/>
<circle cx="423.8" cy="61.8" r="1.4" fill="#1f77b4"/>
<circle cx="370.1" cy="35.3" r="1.4" fill="#1f77b4"/>
<circle cx="376.2" cy="27.8" r="1.4" fill="#1f77b4"/>
<circle cx="432.5" cy="63.3" r="1.4" fill="#1f77b4"/>
<circle cx="397.2" cy="46.4" r="1.4" fill="#1f77b4"/>
<circle cx="370.0" cy="35.0" r="1.4" fill="#1f77b4"/>
<circle cx="369.0" cy="36.8" r="1.4" fill="#1f77b4"/>
<circle cx="413.1" cy="51.5" r="1.4" fill="#1f77b4"/>
<circle cx="420.0" cy="53.5" r="1.4" fill="#1f77b4"/>
<circle cx="390.3" cy="47.1" r="1.4" fill="#1f77b4"/>
<circle cx="372.2" cy="33.8" r="1.4" fill="#1f77b4"/>
<circle cx="399.5" cy="38.4" r="1.4" fill="#1f77b4"/>
<circle cx="413.1" cy="50.7" r="1.4" fill="#1f77b4"/>
<circle cx="410.6" cy="50.1" r="1.4" fill="#1f77b4"/>
<circle cx="365.9" cy="29.8" r="1.4" fill="#1f77b4"/>
<circle cx="389.0" cy="42.7" r="1.4" fill="#1f77b4"/>
<circle cx="412.3" cy="54.2" r="1.4" fill="#1f77b4"/>
<circle cx="425.0" cy="62.8" r="1.4" fill="#1f77b4"/>
<circle cx="427.0" cy="59.9" r="1.4" fill="#1f77b4"/>
<circle cx="376.4" cy="34.7" r="1.4" fill="#1f77b4"/>
<circle cx="420.0" cy="54.1" r="1.4" fill="#1f77b4"/>
<circle cx="389.7" cy="37.2" r="1.4" fill="#1f77b4"/>
<circle cx="407.6" cy="44.2" r="1.4" fill="#1f77b4"/>
<circle cx="373.5" cy="33.7" r="1.4" fill="#1f77b4"/>
<circle cx="380.6" cy="39.1" r="1.4" fill="#1f77b4"/>
<circle cx="414.8" cy="51.9" r="1.4" fill="#1f77b4"/>
<circle cx="388.7" cy="34.9" r="1.4" fill="#1f77b4"/>
<circle cx="396.7" cy="45.6" r="1.4" fill="#1f77b4"/>
<circle cx="364.9" cy="32.9" r="1.4" fill="#1f77b4"/>
<circle cx="426.4" cy="60.4" r="1.4" fill="#1f77b4"/>
<circle cx="388.7" cy="39.3" r="1.4" fill="#1f77b4"/>
<circle cx="394.8" cy="44.7" r="1.4" fill="#1f77b4"/>
<circle cx="431.2" cy="68.0" r="1.4" fill="#1f77b4"/>
<circle cx="375.7" cy="28.4" r="1.4" fill="#1f77b4"/>
<circle cx="414.1" cy="47.1" r="1.4" fill="#1f77b4"/>
<circle cx="426.9" cy="61.9" r="1.4" fill="#1f77b4"/>
<circle cx="394.2" cy="41.0" r="1.4" fill="#1f77b4"/>
<circle cx="372.8" cy="33.0" r="1.4" fill="#1f77b4"/>
<circle cx="407.7" cy="48.5" r="1.4" fill="#1f77b4"/>
<circle cx="369.7" cy="32.5" r="1.4" fill="#1f77b4"/>
<circle cx="431.5" cy="65.5" r="1.4" fill="#1f77b4"/>
<circle cx="368.6" cy="34.9" r="1.4" fill="#1f77b4"/>
<circle cx="428.0" cy="60.5" r="1.4" fill="#1f77b4"/>
<circle cx="428.6" cy="62.4" r="1.4" fill="#1f77b4"/>
<circle cx="394.0" cy="48.8" r="1.4" fill="#1f77b4"/>
<circle cx="393.0" cy="40.2" r="1.4" fill="#1f77b4"/>
<circle cx="428.2" cy="59.4" r="1.4" fill="#1f77b4"/>
<circle cx="416.3" cy="50.0" r="1.4" fill="#1f77b4"/>
<circle cx="416.4" cy="55.5" r="1.4" fill="#1f77b4"/>
<circle cx="437.9" cy="69.3" r="1.4" fill="#1f77b4"/>
<circle cx="375.7" cy="35.0" r="1.4" fill="#1f77b4"/>
<circle cx="422.1" cy="61.7" r="1.4" fill="#1f77b4"/>
<circle cx="365.2" cy="38.5" r="1.4" fill="#1f77b4"/>
<circle cx="404.0" cy="43.8" r="1.4" fill="#1f77b4"/>
<circle cx="413.5" cy="53.8" r="1.4" fill="#1f77b4"/>
<circle cx="408.1" cy="43.8" r="1.4" fill="#1f77b4"/>
<circle cx="372.4" cy="28.8" r="1.4" fill="#1f77b4"/>
<circle cx="420.8" cy="56.5" r="1.4" fill="#1f77b4"/>
<circle cx="421.0" cy="56.9" r="1.4" fill="#1f77b4"/>
<circle cx="397.9" cy="42.7" r="1.4" fill="#1f77b4"/>
<circle cx="404.9" cy="43.5" r="1.4" fill="#1f77b4"/>
<circle cx="393.1" cy="44.0" r="1.4" fill="#1f77b4"/>
<circle cx="396.1" cy="37.6" r="1.4" fill="#1f77b4"/>
<circle cx="414.3" cy="47.0" r="1.4" fill="#1f77b4"/>
<circle cx="367.3" cy="31.8" r="1.4" fill="#1f77b4"/>
<circle cx="402.7" cy="46.9" r="1.4" fill="#1f77b4"/>
<circle cx="372.2" cy="32.2" r="1.4" fill="#1f77b4"/>
<circle cx="363.7" cy="29.0" r="1.4" fill="#1f77b4"/>
<circle cx="434.9" cy="71.6" r="1.4" fill="#1f77b4"/>
<circle cx="384.3" cy="31.6" r="1.4" fill="#1f77b4"/>
<circle cx="419.8" cy="54.9" r="1.4" fill="#1f77b4"/>
<circle cx="372.3" cy="33.8" r="1.4" fill="#1f77b4"/>
<circle cx="381.6" cy="38.5" r="1.4" fill="#1f77b4"/>
<circle cx="399.7" cy="42.1" r="1.4" fill="#1f77b4"/>
<circle cx="390.8" cy="35.6" r="1.4" fill="#1f77b4"/>
<circle cx="419.9" cy="56.8" r="1.4" fill="#1f77b4"/>
<circle cx="369.8" cy="38.9" r="1.4" fill="#1f77b4"/>
<circle cx="410.4" cy="50.2" r="1.4" fill="#1f77b4"/>
<circle cx="388.0" cy="42.5" r="1.4" fill="#1f77b4"/>
<circle cx="376.1" cy="37.9" r="1.4" fill="#1f77b4"/>
<circle cx="411.5" cy="49.6" r="1.4" fill="#1f77b4"/>
<circle cx="380.8" cy="37.0" r="1.4" fill="#1f77b4"/>
<circle cx="441.8" cy="70.1" r="1.4" fill="#1f77b4"/>
<circle cx="370.8" cy="37.3" r="1.4" fill="#1f77b4"/>
<circle cx="435.5" cy="66.4" r="1.4" fill="#1f77b4"/>
<circle cx="382.7" cy="38.8" r="1.4" fill="#1f77b4"/>
<circle cx="375.1" cy="31.6" r="1.4" fill="#1f77b4"/>
<circle cx="421.3" cy="45.1" r="1.4" fill="#1f77b4"/>
<circle cx="401.1" cy="43.0" r="1.4" fill="#1f77b4"/>
<circle cx="373.0" cy="30.3" r="1.4" fill="#1f77b4"/>
<circle cx="386.1" cy="39.7" r="1.4" fill="#1f77b4"/>
<circle cx="377.6" cy="40.6" r="1.4" fill="#1f77b4"/>
<circle cx="380.5" cy="40.4" r="1.4" fill="#1f77b4"/>
<circle cx="419.7" cy="59.5" r="1.4" fill="#1f77b4"/>
<circle cx="417.1" cy="55.8" r="1.4" fill="#1f77b4"/>
<circle cx="396.5" cy="42.7" r="1.4" fill="#1f77b4"/>
<circle cx="365.7" cy="29.6" r="1.4" fill="#1f77b4"/>
<circle cx="391.2" cy="37.2" r="1.4" fill="#1f77b4"/>
<circle cx="388.7" cy="37.3" r="1.4" fill="#1f77b4"/>
<circle cx="423.7" cy="58.1" r="1.4" fill="#1f77b4"/>
<circle cx="382.2" cy="39.3" r="1.4" fill="#1f77b4"/>
<circle cx="368.2" cy="33.8" r="1.4" fill="#1f77b4"/>
<circle cx="381.9" cy="36.7" r="1.4" fill="#1f77b4"/>
<circle cx="383.1" cy="36.7" r="1.4" fill="#1f77b4"/>
<circle cx="380.7" cy="35.8" r="1.4" fill="#1f77b4"/>
<circle cx="408.3" cy="48.0" r="1.4" fill="#1f77b4"/>
<circle cx="384.8" cy="43.4" r="1.4" fill="#1f77b4"/>
<circle cx="439.1" cy="76.3" r="1.4" fill="#1f77b4"/>
<circle cx="425.8" cy="61.4" r="1.4" fill="#1f77b4"/>
<circle cx="412.3" cy="43.3" r="1.4" fill="#1f77b4"/>
<circle cx="408.1" cy="49.1" r="1.4" fill="#1f77b4"/>
<circle cx="426.5" cy="56.4" r="1.4" fill="#1f77b4"/>
<circle cx="411.8" cy="43.8" r="1.4" fill="#1f77b4"/>
<circle cx="372.4" cy="33.9" r="1.4" fill="#1f77b4"/>
<circle cx="417.1" cy="53.7" r="1.4" fill="#1f77b4"/>
<circle cx="425.4" cy="59.0" r="1.4" fill="#1f77b4"/>
<circle cx="407.9" cy="51.2" r="1.4" fill="#1f77b4"/>
<circle cx="428.3" cy="59.3" r="1.4" fill="#1f77b4"/>
<circle cx="370.9" cy="31.3" r="1.4" fill="#1f77b4"/>
<circle cx="382.6" cy="35.6" r="1.4" fill="#1f77b4"/>
<circle cx="398.3" cy="40.2" r="1.4" fill="#1f77b4"/>
<circle cx="364.6" cy="30.0" r="1.4" fill="#1f77b4"/>
<circle cx="365.3" cy="27.0" r="1.4" fill="#1f77b4"/>
<circle cx="441.5" cy="77.1" r="1.4" fill="#1f77b4"/>
<circle cx="413.7" cy="49.7" r="1.4" fill="#1f77b4"/>
<circle cx="429.8" cy="59.0" r="1.4" fill="#1f77b4"/>
<circle cx="412.9" cy="45.3" r="1.4" fill="#1f77b4"/>
<circle cx="436.9" cy="78.6" r="1.4" fill="#1f77b4"/>
<circle cx="411.9" cy="51.3" r="1.4" fill="#1f77b4"/>
<circle cx="433.0" cy="65.6" r="1.4" fill="#1f77b4"/>
<circle cx="412.1" cy="53.3" r="1.4" fill="#1f77b4"/>
<circle cx="417.5" cy="49.3" r="1.4" fill="#1f77b4"/>
<circle cx="416.3" cy="51.0" r="1.4" fill="#1f77b4"/>
<circle cx="376.9" cy="37.0" r="1.4" fill="#1f77b4"/>
<circle cx="391.1" cy="44.6" r="1.4" fill="#1f77b4"/>
<circle cx="390.6" cy="43.3" r="1.4" fill="#1f77b4"/>
<circle cx="403.4" cy="48.8" r="1.4" fill="#1f77b4"/>
<circle cx="423.2" cy="54.3" r="1.4" fill="#1f77b4"/>
<circle cx="403.5" cy="49.7" r="1.4" fill="#1f77b4"/>
<circle cx="374.6" cy="41.2" r="1.4" fill="#1f77b4"/>
<circle cx="389.4" cy="43.4" r="1.4" fill="#1f77b4"/>
<circle cx="438.7" cy="73.8" r="1.4" fill="#1f77b4"/>
<circle cx="365.2" cy="27.8" r="1.4" fill="#1f77b4"/>
<circle cx="417.7" cy="43.2" r="1.4" fill="#1f77b4"/>
<circle cx="397.9" cy="44.3" r="1.4" fill="#1f77b4"/>
<circle cx="373.0" cy="32.3" r="1.4" fill="#1f77b4"/>
<circle cx="422.1" cy="49.9" r="1.4" fill="#1f77b4"/>
<circle cx="417.0" cy="47.4" r="1.4" fill="#1f77b4"/>
<circle cx="375.4" cy="35.9" r="1.4" fill="#1f77b4"/>
<circle cx="391.2" cy="43.5" r="1.4" fill="#1f77b4"/>
<circle cx="383.1" cy="38.8" r="1.4" fill="#1f77b4"/>
<circle cx="427.3" cy="66.6" r="1.4" fill="#1f77b4"/>
<circle cx="420.2" cy="53.1" r="1.4" fill="#1f77b4"/>
<circle cx="437.7" cy="67.4" r="1.4" fill="#1f77b4"/>
<circle cx="383.5" cy="42.9" r="1.4" fill="#1f77b4"/>
<circle cx="377.8" cy="36.3" r="1.4" fill="#1f77b4"/>
<circle cx="415.1" cy="50.0" r="1.4" fill="#1f77b4"/>
<circle cx="391.2" cy="35.5" r="1.4" fill="#1f77b4"/>
<circle cx="409.0" cy="42.8" r="1.4" fill="#1f77b4"/>
<circle cx="432.8" cy="61.6" r="1.4" fill="#1f77b4"/>
<circle cx="400.1" cy="46.1" r="1.4" fill="#1f77b4"/>
<circle cx="438.1" cy="72.2" r="1.4" fill="#1f77b4"/>
<circle cx="397.3" cy="38.2" r="1.4" fill="#1f77b4"/>
<circle cx="403.7" cy="47.6" r="1.4" fill="#1f77b4"/>
<circle cx="393.7" cy="40.8" r="1.4" fill="#1f77b4"/>
<circle cx="375.2" cy="31.1" r="1.4" fill="#1f77b4"/>
<circle cx="428.3" cy="59.9" r="1.4" fill="#1f77b4"/>
<circle cx="395.5" cy="46.0" r="1.4" fill="#1f77b4"/>
<circle cx="374.6" cy="36.2" r="1.4" fill="#1f77b4"/>
<circle cx="376.9" cy="34.1" r="1.4" fill="#1f77b4"/>
<circle cx="363.7" cy="31.9" r="1.4" fill="#1f77b4"/>
<circle cx="365.3" cy="29.3" r="1.4" fill="#1f77b4"/>
<circle cx="369.3" cy="30.5" r="1.4" fill="#1f77b4"/>
<circle cx="416.1" cy="54.1" r="1.4" fill="#1f77b4"/>
<circle cx="381.0" cy="38.3" r="1.4" fill="#1f77b4"/>
<circle cx="396.1" cy="42.1" r="1.4" fill="#1f77b4"/>
<circle cx="387.3" cy="42.0" r="1.4" fill="#1f77b4"/>
<circle cx="379.4" cy="35.4" r="1.4" fill="#1f77b4"/>
<circle cx="436.0" cy="69.0" r="1.4" fill="#1f77b4"/>
<circle cx="409.6" cy="45.3" r="1.4" fill="#1f77b4"/>
<circle cx="422.6" cy="57.8" r="1.4" fill="#1f77b4"/>
<circle cx="437.3" cy="73.2" r="1.4" fill="#1f77b4"/>
<circle cx="367.5" cy="28.6" r="1.4" fill="#1f77b4"/>
<circle cx="381.4" cy="39.5" r="1.4" fill="#1f77b4"/>
<circle cx="366.4" cy="34.9" r="1.4" fill="#1f77b4"/>
<circle cx="434.8" cy="69.7" r="1.4" fill="#1f77b4"/>
<circle cx="387.9" cy="39.5" r="1.4" fill="#1f77b4"/>
<circle cx="391.1" cy="42.3" r="1.4" fill="#1f77b4"/>
<circle cx="375.3" cy="35.7" r="1.4" fill="#1f77b4"/>
<circle cx="380.5" cy="38.8" r="1.4" fill="#1f77b4"/>
<circle cx="438.4" cy="72.8" r="1.4" fill="#1f77b4"/>
<circle cx="438.8" cy="70.3" r="1.4" fill="#1f77b4"/>
<circle cx="431.3" cy="60.3" r="1.4" fill="#1f77b4"/>
<circle cx="435.9" cy="66.5" r="1.4" fill="#1f77b4"/>
<circle cx="377.3" cy="38.1" r="1.4" fill="#1f77b4"/>
<circle cx="399.0" cy="41.8" r="1.4" fill="#1f77b4"/>
<circle cx="376.5" cy="36.2" r="1.4" fill="#1f77b4"/>
<circle cx="425.0" cy="58.0" r="1.4" fill="#1f77b4"/>
<circle cx="390.1" cy="44.4" r="1.4" fill="#1f77b4"/>
<circle cx="438.1" cy="68.2" r="1.4" fill="#1f77b4"/>
<circle cx="390.8" cy="39.7" r="1.4" fill="#1f77b4"/>
<circle cx="376.3" cy="30.9" r="1.4" fill="#1f77b4"/>
<circle cx="415.9" cy="49.2" r="1.4" fill="#1f77b4"/>
<circle cx="413.1" cy="54.1" r="1.4" fill="#1f77b4"/>
<circle cx="411.5" cy="54.2" r="1.4" fill="#1f77b4"/>
<circle cx="414.1" cy="46.3" r="1.4" fill="#1f77b4"/>
<circle cx="367.7" cy="36.2" r="1.4" fill="#1f77b4"/>
<circle cx="365.4" cy="30.6" r="1.4" fill="#1f77b4"/>
<circle cx="428.3" cy="61.6" r="1.4" fill="#1f77b4"/>
<circle cx="429.8" cy="53.8" r="1.4" fill="#1f77b4"/>
<circle cx="409.3" cy="47.7" r="1.4" fill="#1f77b4"/>
<circle cx="374.4" cy="31.0" r="1.4" fill="#1f77b4"/>
<circle cx="420.3" cy="49.0" r="1.4" fill="#1f77b4"/>
<circle cx="430.1" cy="63.7" r="1.4" fill="#1f77b4"/>
<circle cx="416.5" cy="53.1" r="1.4" fill="#1f77b4"/>
<circle cx="409.8" cy="42.8" r="1.4" fill="#1f77b4"/>
<circle cx="394.2" cy="40.8" r="1.4" fill="#1f77b4"/>
<circle cx="415.3" cy="54.4" r="1.4" fill="#1f77b4"/>
<circle cx="386.5" cy="34.6" r="1.4" fill="#1f77b4"/>
<circle cx="425.2" cy="48.1" r="1.4" fill="#1f77b4"/>
<circle cx="362.9" cy="30.9" r="1.4" fill="#1f77b4"/>
<circle cx="369.7" cy="30.2" r="1.4" fill="#1f77b4"/>
<circle cx="401.0" cy="44.6" r="1.4" fill="#1f77b4"/>
<circle cx="407.5" cy="42.1" r="1.4" fill="#1f77b4"/>
<circle cx="442.5" cy="76.5" r="1.4" fill="#1f77b4"/>
<circle cx="390.9" cy="35.0" r="1.4" fill="#1f77b4"/>
<circle cx="397.2" cy="40.3" r="1.4" fill="#1f77b4"/>
<circle cx="425.6" cy="58.7" r="1.4" fill="#1f77b4"/>
<circle cx="401.8" cy="43.5" r="1.4" fill="#1f77b4"/>
<circle cx="427.6" cy="61.7" r="1.4" fill="#1f77b4"/>
<circle cx="420.5" cy="58.2" r="1.4" fill="#1f77b4"/>
<circle cx="363.6" cy="34.1" r="1.4" fill="#1f77b4"/>
<circle cx="398.5" cy="42.9" r="1.4" fill="#1f77b4"/>
<circle cx="432.3" cy="67.8" r="1.4" fill="#1f77b4"/>
<circle cx="366.0" cy="31.6" r="1.4" fill="#1f77b4"/>
<circle cx="379.3" cy="34.8" r="1.4" fill="#1f77b4"/>
<circle cx="420.1" cy="51.9" r="1.4" fill="#1f77b4"/>
<circle cx="434.9" cy="68.7" r="1.4" fill="#1f77b4"/>
<circle cx="411.5" cy="48.7" r="1.4" fill="#1f77b4"/>
<circle cx="381.1" cy="36.8" r="1.4" fill="#1f77b4"/>
<circle cx="380.5" cy="32.8" r="1.4" fill="#1f77b4"/>
<circle cx="430.6" cy="65.2" r="1.4" fill="#1f77b4"/>
<circle cx="415.4" cy="52.5" r="1.4" fill="#1f77b4"/>
<circle cx="388.5" cy="39.2" r="1.4" fill="#1f77b4"/>
<circle cx="399.4" cy="43.6" r="1.4" fill="#1f77b4"/>
<circle cx="373.2" cy="37.0" r="1.4" fill="#1f77b4"/>
<circle cx="415.5" cy="53.4" r="1.4" fill="#1f77b4"/>
<circle cx="374.8" cy="32.4" r="1.4" fill="#1f77b4"/>
<circle cx="413.3" cy="52.3" r="1.4" fill="#1f77b4"/>
<circle cx="377.2" cy="33.2" r="1.4" fill="#1f77b4"/>
<circle cx="428.1" cy="52.3" r="1.4" fill="#1f77b4"/>
<circle cx="387.1" cy="34.3" r="1.4" fill="#1f77b4"/>
<circle cx="381.1" cy="41.9" r="1.4" fill="#1f77b4"/>
<circle cx="370.7" cy="32.1" r="1.4" fill="#1f77b4"/>
<circle cx="433.1" cy="62.9" r="1.4" fill="#1f77b4"/>
<circle cx="366.4" cy="31.6" r="1.4" fill="#1f77b4"/>
<circle cx="395.6" cy="46.7" r="1.4" fill="#1f77b4"/>
<circle cx="424.6" cy="54.2" r="1.4" fill="#1f77b4"/>
<circle cx="421.6" cy="58.5" r="1.4" fill="#1f77b4"/>
<circle cx="417.1" cy="47.2" r="1.4" fill="#1f77b4"/>
<circle cx="384.5" cy="34.4" r="1.4" fill="#1f77b4"/>
<circle cx="400.8" cy="34.7" r="1.4" fill="#1f77b4"/>
<circle cx="385.0" cy="38.8" r="1.4" fill="#1f77b4"/>
<circle cx="385.7" cy="42.3" r="1.4" fill="#1f77b4"/>
<circle cx="415.0" cy="46.9" r="1.4" fill="#1f77b4"/>
<circle cx="415.4" cy="47.8" r="1.4" fill="#1f77b4"/>
<circle cx="396.1" cy="42.8" r="1.4" fill="#1f77b4"/>
<circle cx="366.8" cy="29.5" r="1.4" fill="#1f77b4"/>
<circle cx="418.4" cy="50.1" r="1.4" fill="#1f77b4"/>
<circle cx="443.2" cy="81.1" r="1.4" fill="#1f77b4"/>
<circle cx="442.6" cy="76.9" r="1.4" fill="#1f77b4"/>
<circle cx="388.7" cy="39.9" r="1.4" fill="#1f77b4"/>
<circle cx="369.2" cy="34.2" r="1.4" fill="#1f77b4"/>
<circle cx="382.5" cy="36.5" r="1.4" fill="#1f77b4"/>
<circle cx="390.1" cy="41.0" r="1.4" fill="#1f77b4"/>
<circle cx="371.1" cy="34.9" r="1.4" fill="#1f77b4"/>
<circle cx="371.7" cy="32.8" r="1.4" fill="#1f77b4"/>
<circle cx="392.8" cy="40.2" r="1.4" fill="#1f77b4"/>
<circle cx="438.3" cy="71.9" r="1.4" fill="#1f77b4"/>
<circle cx="374.9" cy="36.1" r="1.4" fill="#1f77b4"/>
<circle cx="372.1" cy="34.9" r="1.4" fill="#1f77b4"/>
<circle cx="370.5" cy="39.6" r="1.4" fill="#1f77b4"/>
<circle cx="390.3" cy="38.4" r="1.4" fill="#1f77b4"/>
<circle cx="411.1" cy="52.5" r="1.4" fill="#1f77b4"/>
<circle cx="383.6" cy="37.0" r="1.4" fill="#1f77b4"/>
<circle cx="415.0" cy="56.3" r="1.4" fill="#1f77b4"/>
<circle cx="425.9" cy="54.7" r="1.4" fill="#1f77b4"/>
<circle cx="428.8" cy="59.8" r="1.4" fill="#1f77b4"/>
<circle cx="376.3" cy="39.4" r="1.4" fill="#1f77b4"/>
<circle cx="404.7" cy="44.8" r="1.4" fill="#1f77b4"/>
<circle cx="365.1" cy="34.3" r="1.4" fill="#1f77b4"/>
<circle cx="436.5" cy="61.9" r="1.4" fill="#1f77b4"/>
<circle cx="374.5" cy="33.8" r="1.4" fill="#1f77b4"/>
<circle cx="413.8" cy="53.1" r="1.4" fill="#1f77b4"/>
<circle cx="369.0" cy="33.2" r="1.4" fill="#1f77b4"/>
<circle cx="375.5" cy="35.5" r="1.4" fill="#1f77b4"/>
<circle cx="419.2" cy="48.7" r="1.4" fill="#1f77b4"/>
<circle cx="378.5" cy="35.1" r="1.4" fill="#1f77b4"/>
<circle cx="399.9" cy="41.6" r="1.4" fill="#1f77b4"/>
<circle cx="416.0" cy="55.5" r="1.4" fill="#1f77b4"/>
<circle cx="375.1" cy="33.1" r="1.4" fill="#1f77b4"/>
<circle cx="366.2" cy="27.1" r="1.4" fill="#1f77b4"/>
<circle cx="369.4" cy="32.2" r="1.4" fill="#1f77b4"/>
<circle cx="403.8" cy="45.3" r="1.4" fill="#1f77b4"/>
<circle cx="383.2" cy="36.7" r="1.4" fill="#1f77b4"/>
<circle cx="374.0" cy="37.7" r="1.4" fill="#1f77b4"/>
<circle cx="391.1" cy="38.6" r="1.4" fill="#1f77b4"/>
<circle cx="400.5" cy="47.5" r="1.4" fill="#1f77b4"/>
<circle cx="421.1" cy="54.0" r="1.4" fill="#1f77b4"/>
<circle cx="419.9" cy="55.0" r="1.4" fill="#1f77b4"/>
<circle cx="434.2" cy="69.1" r="1.4" fill="#1f77b4"/>
<circle cx="404.1" cy="43.2" r="1.4" fill="#1f77b4"/>
<circle cx="393.4" cy="45.1" r="1.4" fill="#1f77b4"/>
<circle cx="401.3" cy="44.1" r="1.4" fill="#1f77b4"/>
<circle cx="378.4" cy="39.9" r="1.4" fill="#1f77b4"/>
<circle cx="398.1" cy="36.2" r="1.4" fill="#1f77b4"/>
<circle cx="369.2" cy="28.4" r="1.4" fill="#1f77b4"/>
<circle cx="419.3" cy="50.0" r="1.4" fill="#1f77b4"/>
<circle cx="400.6" cy="36.9" r="1.4" fill="#1f77b4"/>
<circle cx="400.2" cy="41.4" r="1.4" fill="#1f77b4"/>
<circle cx="379.1" cy="34.7" r="1.4" fill="#1f77b4"/>
<circle cx="380.8" cy="37.9" r="1.4" fill="#1f77b4"/>
<circle cx="404.5" cy="48.8" r="1.4" fill="#1f77b4"/>
<circle cx="405.3" cy="45.4" r="1.4" fill="#1f77b4"/>
<circle cx="433.3" cy="67.0" r="1.4" fill="#1f77b4"/>
<circle cx="397.6" cy="43.7" r="1.4" fill="#1f77b4"/>
<circle cx="428.3" cy="57.5" r="1.4" fill="#1f77b4"/>
<circle cx="425.9" cy="58.6" r="1.4" fill="#1f77b4"/>
<circle cx="404.8" cy="51.4" r="1.4" fill="#1f77b4"/>
<circle cx="369.3" cy="34.5" r="1.4" fill="#1f77b4"/>
<circle cx="411.8" cy="51.9" r="1.4" fill="#1f77b4"/>
<circle cx="363.1" cy="31.6" r="1.4" fill="#1f77b4"/>
<circle cx="419.8" cy="57.5" r="1.4" fill="#1f77b4"/>
<circle cx="405.8" cy="41.7" r="1.4" fill="#1f77b4"/>
<circle cx="434.5" cy="59.2" r="1.4" fill="#1f77b4"/>
<circle cx="365.1" cy="35.2" r="1.4" fill="#1f77b4"/>
<circle cx="364.5" cy="29.9" r="1.4" fill="#1f77b4"/>
<circle cx="424.3" cy="54.5" r="1.4" fill="#1f77b4"/>
<circle cx="363.9" cy="34.3" r="1.4" fill="#1f77b4"/>
<circle cx="401.5" cy="43.8" r="1.4" fill="#1f77b4"/>
<circle cx="394.8" cy="36.3" r="1.4" fill="#1f77b4"/>
<circle cx="387.9" cy="35.7" r="1.4" fill="#1f77b4"/>
<circle cx="422.1" cy="48.9" r="1.4" fill="#1f77b4"/>
<circle cx="430.1" cy="66.2" r="1.4" fill="#1f77b4"/>
<circle cx="436.1" cy="71.0" r="1.4" fill="#1f77b4"/>
<circle cx="399.0" cy="41.9" r="1.4" fill="#1f77b4"/>
<circle cx="427.0" cy="57.8" r="1.4" fill="#1f77b4"/>
<circle cx="419.8" cy="53.4" r="1.4" fill="#1f77b4"/>
<circle cx="436.5" cy="70.2" r="1.4" fill="#1f77b4"/>
<circle cx="435.8" cy="69.5" r="1.4" fill="#1f77b4"/>
<circle cx="370.6" cy="36.0" r="1.4" fill="#1f77b4"/>
<circle cx="375.2" cy="34.1" r="1.4" fill="#1f77b4"/>
<circle cx="408.0" cy="57.5" r="1.4" fill="#1f77b4"/>
<circle cx="425.5" cy="51.8" r="1.4" fill="#1f77b4"/>
<circle cx="397.0" cy="43.8" r="1.4" fill="#1f77b4"/>
<circle cx="418.7" cy="58.2" r="1.4" fill="#1f77b4"/>
<circle cx="425.6" cy="55.9" r="1.4" fill="#1f77b4"/>
<circle cx="388.2" cy="42.7" r="1.4" fill="#1f77b4"/>
<circle cx="363.6" cy="30.1" r="1.4" fill="#1f77b4"/>
<circle cx="434.5" cy="67.9" r="1.4" fill="#1f77b4"/>
<circle cx="428.8" cy="58.5" r="1.4" fill="#1f77b4"/>
<circle cx="393.5" cy="37.8" r="1.4" fill="#1f77b4"/>
<circle cx="422.8" cy="50.7" r="1.4" fill="#1f77b4"/>
<circle cx="407.4" cy="48.8" r="1.4" fill="#1f77b4"/>
<circle cx="427.1" cy="60.4" r="1.4" fill="#1f77b4"/>
<circle cx="434.5" cy="66.5" r="1.4" fill="#1f77b4"/>
<circle cx="387.0" cy="42.5" r="1.4" fill="#1f77b4"/>
<circle cx="412.4" cy="47.3" r="1.4" fill="#1f77b4"/>
<circle cx="463.8" cy="57.6" r="1.4" fill="#1f00ff"/>
<circle cx="409.6" cy="63.5" r="1.4" fill="#1f77b4"/>
<circle cx="407.9" cy="69.7" r="1.4" fill="#1f77b4"/>
<circle cx="423.3" cy="72.3" r="1.4" fill="#1f77b4"/>
<circle cx="431.2" cy="79.0" r="1.4" fill="#1f77b4"/>
<circle cx="425.7" cy="56.8" r="1.4" fill="#1f77b4"/>
</g>
<rect x="351.5" y="16.8" width="267.70" height="200.50" fill="none" stroke="#707070" stroke-width="1.35"/>
<line x1="348.9" y1="209.30" x2="351.5" y2="209.30" stroke="#707070" stroke-width="1.1"/>
<text x="346.3" y="213.6" font-size="10" text-anchor="end" textLength="12.2" lengthAdjust="spacingAndGlyphs" fill="#222">15</text>
<line x1="348.9" y1="183.45" x2="351.5" y2="183.45" stroke="#707070" stroke-width="1.1"/>
<text x="346.3" y="187.8" font-size="10" text-anchor="end" textLength="12.2" lengthAdjust="spacingAndGlyphs" fill="#222">20</text>
<line x1="348.9" y1="157.60" x2="351.5" y2="157.60" stroke="#707070" stroke-width="1.1"/>
<text x="346.3" y="161.9" font-size="10" text-anchor="end" textLength="12.2" lengthAdjust="spacingAndGlyphs" fill="#222">25</text>
<line x1="348.9" y1="131.75" x2="351.5" y2="131.75" stroke="#707070" stroke-width="1.1"/>
<text x="346.3" y="136.1" font-size="10" text-anchor="end" textLength="12.2" lengthAdjust="spacingAndGlyphs" fill="#222">30</text>
<line x1="348.9" y1="105.90" x2="351.5" y2="105.90" stroke="#707070" stroke-width="1.1"/>
<text x="346.3" y="110.2" font-size="10" text-anchor="end" textLength="12.2" lengthAdjust="spacingAndGlyphs" fill="#222">35</text>
<line x1="348.9" y1="80.05" x2="351.5" y2="80.05" stroke="#707070" stroke-width="1.1"/>
<text x="346.3" y="84.4" font-size="10" text-anchor="end" textLength="12.2" lengthAdjust="spacingAndGlyphs" fill="#222">40</text>
<line x1="348.9" y1="54.20" x2="351.5" y2="54.20" stroke="#707070" stroke-width="1.1"/>
<text x="346.3" y="58.5" font-size="10" text-anchor="end" textLength="12.2" lengthAdjust="spacingAndGlyphs" fill="#222">45</text>
<line x1="348.9" y1="28.35" x2="351.5" y2="28.35" stroke="#707070" stroke-width="1.1"/>
<text x="346.3" y="32.7" font-size="10" text-anchor="end" textLength="12.2" lengthAdjust="spacingAndGlyphs" fill="#222">50</text>
<line x1="356.50" y1="217.3" x2="356.50" y2="219.9" stroke="#707070" stroke-width="1.1"/>
<text x="356.5" y="229.6" font-size="10" text-anchor="middle" textLength="6.1" lengthAdjust="spacingAndGlyphs" fill="#222">0</text>
<line x1="390.77" y1="217.3" x2="390.77" y2="219.9" stroke="#707070" stroke-width="1.1"/>
<text x="390.8" y="229.6" font-size="10" text-anchor="middle" textLength="12.2" lengthAdjust="spacingAndGlyphs" fill="#222">10</text>
<line x1="425.04" y1="217.3" x2="425.04" y2="219.9" stroke="#707070" stroke-width="1.1"/>
<text x="425.0" y="229.6" font-size="10" text-anchor="middle" textLength="12.2" lengthAdjust="spacingAndGlyphs" fill="#222">20</text>
<line x1="459.31" y1="217.3" x2="459.31" y2="219.9" stroke="#707070" stroke-width="1.1"/>
<text x="459.3" y="229.6" font-size="10" text-anchor="middle" textLength="12.2" lengthAdjust="spacingAndGlyphs" fill="#222">30</text>
<line x1="493.58" y1="217.3" x2="493.58" y2="219.9" stroke="#707070" stroke-width="1.1"/>
<text x="493.6" y="229.6" font-size="10" text-anchor="middle" textLength="12.2" lengthAdjust="spacingAndGlyphs" fill="#222">40</text>
<line x1="527.85" y1="217.3" x2="527.85" y2="219.9" stroke="#707070" stroke-width="1.1"/>
<text x="527.9" y="229.6" font-size="10" text-anchor="middle" textLength="12.2" lengthAdjust="spacingAndGlyphs" fill="#222">50</text>
<line x1="562.12" y1="217.3" x2="562.12" y2="219.9" stroke="#707070" stroke-width="1.1"/>
<text x="562.1" y="229.6" font-size="10" text-anchor="middle" textLength="12.2" lengthAdjust="spacingAndGlyphs" fill="#222">60</text>
<line x1="596.39" y1="217.3" x2="596.39" y2="219.9" stroke="#707070" stroke-width="1.1"/>
<text x="596.4" y="229.6" font-size="10" text-anchor="middle" textLength="12.2" lengthAdjust="spacingAndGlyphs" fill="#222">70</text>
<text x="485.0" y="12.7" font-size="10.2" text-anchor="middle" textLength="117.2" lengthAdjust="spacingAndGlyphs" fill="#222">k-mean:v-k (Sep 2022)</text>
<text x="485.4" y="242.6" font-size="10.2" text-anchor="middle" textLength="92.0" lengthAdjust="spacingAndGlyphs" fill="#222">Density (veh./Km)</text>
<text x="328.5" y="116.7" font-size="10.2" text-anchor="middle" textLength="80.9" lengthAdjust="spacingAndGlyphs" transform="rotate(-90 328.5 116.7)" fill="#222">Speed (km./Hr.)</text>
<g clip-path="url(#cBL)">
<circle cx="169.5" cy="332.1" r="1.6" fill="#fc00f5"/>
<circle cx="183.7" cy="335.4" r="1.6" fill="#00aaff"/>
<circle cx="160.1" cy="338.4" r="1.6" fill="#00eaff"/>
<circle cx="214.0" cy="337.7" r="1.6" fill="#00ff92"/>
<circle cx="191.3" cy="341.4" r="1.6" fill="#00fff6"/>
<circle cx="300.5" cy="333.6" r="1.6" fill="#0016ff"/>
<circle cx="192.6" cy="333.1" r="1.6" fill="#0028ff"/>
<circle cx="155.5" cy="339.0" r="1.6" fill="#0069ff"/>
<circle cx="195.3" cy="335.5" r="1.6" fill="#00c7ff"/>
<circle cx="198.8" cy="338.1" r="1.6" fill="#00c7ff"/>
<circle cx="158.5" cy="337.6" r="1.6" fill="#00ff92"/>
<circle cx="153.9" cy="341.9" r="1.6" fill="#e200ff"/>
<circle cx="192.7" cy="337.5" r="1.6" fill="#00ffd3"/>
<circle cx="197.1" cy="339.4" r="1.6" fill="#00eaff"/>
<circle cx="158.5" cy="338.3" r="1.6" fill="#6000ff"/>
<circle cx="191.5" cy="342.7" r="1.6" fill="#ff00db"/>
<circle cx="186.2" cy="340.4" r="1.6" fill="#00ffd3"/>
<circle cx="173.7" cy="341.2" r="1.6" fill="#ff00db"/>
<circle cx="190.1" cy="331.9" r="1.6" fill="#0069ff"/>
<circle cx="170.4" cy="342.3" r="1.6" fill="#ff00db"/>
<circle cx="171.3" cy="337.6" r="1.6" fill="#00aaff"/>
<circle cx="185.4" cy="340.4" r="1.6" fill="#fc00f5"/>
<circle cx="180.8" cy="334.3" r="1.6" fill="#00c7ff"/>
<circle cx="169.6" cy="331.5" r="1.6" fill="#e200ff"/>
<circle cx="194.3" cy="330.9" r="1.6" fill="#1f00ff"/>
<circle cx="155.2" cy="340.9" r="1.6" fill="#ff00b7"/>
<circle cx="190.9" cy="331.7" r="1.6" fill="#00ff92"/>
<circle cx="152.1" cy="337.2" r="1.6" fill="#ff009a"/>
<circle cx="158.7" cy="391.3" r="1.6" fill="#ff00cf"/>
<circle cx="182.6" cy="336.7" r="1.6" fill="#00c7ff"/>
<circle cx="158.5" cy="335.6" r="1.6" fill="#00eaff"/>
<circle cx="153.8" cy="341.9" r="1.6" fill="#ff00b7"/>
<circle cx="182.2" cy="335.8" r="1.6" fill="#00ffaf"/>
<circle cx="181.1" cy="331.2" r="1.6" fill="#e200ff"/>
<circle cx="188.1" cy="333.6" r="1.6" fill="#0028ff"/>
<circle cx="169.7" cy="334.6" r="1.6" fill="#00eaff"/>
<circle cx="178.8" cy="331.2" r="1.6" fill="#00eaff"/>
<circle cx="168.3" cy="338.2" r="1.6" fill="#00aaff"/>
<circle cx="180.5" cy="337.0" r="1.6" fill="#00ff92"/>
<circle cx="154.2" cy="343.7" r="1.6" fill="#ff009a"/>
<circle cx="151.5" cy="341.9" r="1.6" fill="#ff00db"/>
<circle cx="154.3" cy="339.3" r="1.6" fill="#bf00ff"/>
<circle cx="149.8" cy="343.4" r="1.6" fill="#ff00db"/>
<circle cx="190.5" cy="335.2" r="1.6" fill="#00ffaf"/>
<circle cx="205.8" cy="334.4" r="1.6" fill="#00ffaf"/>
<circle cx="158.4" cy="335.1" r="1.6" fill="#00fff6"/>
<circle cx="156.9" cy="337.5" r="1.6" fill="#ff00db"/>
<circle cx="205.1" cy="337.7" r="1.6" fill="#00ff92"/>
<circle cx="196.4" cy="333.9" r="1.6" fill="#00c7ff"/>
<circle cx="153.0" cy="337.1" r="1.6" fill="#ff009a"/>
<circle cx="189.6" cy="335.2" r="1.6" fill="#0069ff"/>
<circle cx="192.4" cy="339.4" r="1.6" fill="#00eaff"/>
<circle cx="181.0" cy="337.2" r="1.6" fill="#00eaff"/>
<circle cx="162.2" cy="335.6" r="1.6" fill="#00aaff"/>
<circle cx="180.4" cy="339.3" r="1.6" fill="#00aaff"/>
<circle cx="184.3" cy="332.7" r="1.6" fill="#1f00ff"/>
<circle cx="169.3" cy="331.3" r="1.6" fill="#00ffaf"/>
<circle cx="156.3" cy="338.6" r="1.6" fill="#a100ff"/>
<circle cx="196.3" cy="333.6" r="1.6" fill="#00c7ff"/>
<circle cx="180.1" cy="341.5" r="1.6" fill="#fc00f5"/>
<circle cx="189.7" cy="339.3" r="1.6" fill="#00ff92"/>
<circle cx="166.5" cy="333.0" r="1.6" fill="#fc00f5"/>
<circle cx="170.5" cy="331.9" r="1.6" fill="#00aaff"/>
<circle cx="192.1" cy="337.1" r="1.6" fill="#00ffaf"/>
<circle cx="193.1" cy="334.6" r="1.6" fill="#00aaff"/>
<circle cx="206.4" cy="340.4" r="1.6" fill="#00ffaf"/>
<circle cx="151.5" cy="339.5" r="1.6" fill="#fc00f5"/>
<circle cx="147.2" cy="341.2" r="1.6" fill="#0069ff"/>
<circle cx="194.9" cy="335.6" r="1.6" fill="#00ffd3"/>
<circle cx="189.8" cy="341.0" r="1.6" fill="#fc00f5"/>
<circle cx="157.9" cy="335.7" r="1.6" fill="#00c7ff"/>
<circle cx="183.0" cy="333.4" r="1.6" fill="#0028ff"/>
<circle cx="195.2" cy="335.9" r="1.6" fill="#00fff6"/>
<circle cx="154.3" cy="348.4" r="1.6" fill="#00ffaf"/>
<circle cx="158.0" cy="329.8" r="1.6" fill="#fc00f5"/>
<circle cx="169.9" cy="338.3" r="1.6" fill="#1f00ff"/>
<circle cx="152.4" cy="341.4" r="1.6" fill="#ff00db"/>
<circle cx="212.6" cy="338.5" r="1.6" fill="#00c7ff"/>
<circle cx="202.2" cy="340.6" r="1.6" fill="#00ff92"/>
<circle cx="179.0" cy="334.2" r="1.6" fill="#00c7ff"/>
<circle cx="154.5" cy="332.1" r="1.6" fill="#ff00db"/>
<circle cx="195.4" cy="335.8" r="1.6" fill="#00ffaf"/>
<circle cx="182.0" cy="332.5" r="1.6" fill="#fc00f5"/>
<circle cx="211.5" cy="336.9" r="1.6" fill="#00fff6"/>
<circle cx="183.6" cy="339.0" r="1.6" fill="#00ffd3"/>
<circle cx="155.4" cy="339.5" r="1.6" fill="#fc00f5"/>
<circle cx="244.1" cy="335.8" r="1.6" fill="#ad00ff"/>
<circle cx="194.6" cy="336.3" r="1.6" fill="#00ffd3"/>
<circle cx="213.1" cy="333.3" r="1.6" fill="#00aaff"/>
<circle cx="193.1" cy="343.6" r="1.6" fill="#ff009a"/>
<circle cx="158.4" cy="340.7" r="1.6" fill="#fc00f5"/>
<circle cx="169.1" cy="331.6" r="1.6" fill="#00eaff"/>
<circle cx="188.3" cy="333.3" r="1.6" fill="#0028ff"/>
<circle cx="180.3" cy="335.8" r="1.6" fill="#00aaff"/>
<circle cx="161.0" cy="337.6" r="1.6" fill="#00aaff"/>
<circle cx="181.7" cy="331.2" r="1.6" fill="#ff00db"/>
<circle cx="172.7" cy="335.4" r="1.6" fill="#00c7ff"/>
<circle cx="196.8" cy="338.5" r="1.6" fill="#00c7ff"/>
<circle cx="198.3" cy="336.1" r="1.6" fill="#00ff92"/>
<circle cx="213.1" cy="338.4" r="1.6" fill="#00ffd3"/>
<circle cx="149.7" cy="339.8" r="1.6" fill="#ff009a"/>
<circle cx="172.9" cy="343.4" r="1.6" fill="#fc00f5"/>
<circle cx="195.8" cy="336.7" r="1.6" fill="#00aaff"/>
<circle cx="194.3" cy="343.2" r="1.6" fill="#fc00f5"/>
<circle cx="214.1" cy="341.4" r="1.6" fill="#ff00b7"/>
<circle cx="173.7" cy="334.6" r="1.6" fill="#00ffd3"/>
<circle cx="174.6" cy="330.3" r="1.6" fill="#00fff6"/>
<circle cx="159.1" cy="336.3" r="1.6" fill="#00eaff"/>
<circle cx="205.1" cy="334.3" r="1.6" fill="#00c7ff"/>
<circle cx="173.7" cy="335.7" r="1.6" fill="#00ff92"/>
<circle cx="150.3" cy="339.7" r="1.6" fill="#a100ff"/>
<circle cx="157.2" cy="334.7" r="1.6" fill="#00ffd3"/>
<circle cx="160.4" cy="335.0" r="1.6" fill="#fc00f5"/>
<circle cx="195.5" cy="337.0" r="1.6" fill="#00fff6"/>
<circle cx="200.0" cy="338.9" r="1.6" fill="#00ffd3"/>
<circle cx="159.4" cy="336.6" r="1.6" fill="#bf00ff"/>
<circle cx="177.8" cy="333.2" r="1.6" fill="#0028ff"/>
<circle cx="190.1" cy="335.3" r="1.6" fill="#6000ff"/>
<circle cx="213.4" cy="341.7" r="1.6" fill="#00c7ff"/>
<circle cx="208.3" cy="338.5" r="1.6" fill="#00ffaf"/>
<circle cx="179.1" cy="332.5" r="1.6" fill="#6000ff"/>
<circle cx="154.4" cy="339.0" r="1.6" fill="#e200ff"/>
<circle cx="204.7" cy="341.0" r="1.6" fill="#ff00db"/>
<circle cx="192.7" cy="341.1" r="1.6" fill="#00ffd3"/>
<circle cx="190.8" cy="336.9" r="1.6" fill="#00fff6"/>
<circle cx="164.4" cy="340.4" r="1.6" fill="#00aaff"/>
<circle cx="152.4" cy="338.0" r="1.6" fill="#e200ff"/>
<circle cx="171.7" cy="333.5" r="1.6" fill="#0069ff"/>
<circle cx="166.4" cy="334.9" r="1.6" fill="#00eaff"/>
<circle cx="169.7" cy="336.7" r="1.6" fill="#00aaff"/>
<circle cx="205.6" cy="333.1" r="1.6" fill="#00aaff"/>
<circle cx="177.2" cy="329.8" r="1.6" fill="#00ffaf"/>
<circle cx="192.6" cy="334.9" r="1.6" fill="#00ff92"/>
<circle cx="161.0" cy="342.8" r="1.6" fill="#ff009a"/>
<circle cx="163.3" cy="338.7" r="1.6" fill="#e200ff"/>
<circle cx="158.3" cy="340.5" r="1.6" fill="#ff00b7"/>
<circle cx="195.7" cy="335.9" r="1.6" fill="#00aaff"/>
<circle cx="208.7" cy="337.7" r="1.6" fill="#00ffd3"/>
<circle cx="208.3" cy="337.9" r="1.6" fill="#00c7ff"/>
<circle cx="174.9" cy="335.4" r="1.6" fill="#00c7ff"/>
<circle cx="151.8" cy="349.5" r="1.6" fill="#00ffa3"/>
<circle cx="180.8" cy="335.0" r="1.6" fill="#00aaff"/>
<circle cx="188.7" cy="333.9" r="1.6" fill="#1f00ff"/>
<circle cx="157.7" cy="336.7" r="1.6" fill="#ff009a"/>
<circle cx="185.3" cy="332.4" r="1.6" fill="#00eaff"/>
<path d="M217.5 321.8L221.9 326.2M217.5 326.2L221.9 321.8" stroke="#00ff6e" stroke-width="1.2"/>
<path d="M219.5 319.8L223.9 324.2M219.5 324.2L223.9 319.8" stroke="#7e00ff" stroke-width="1.2"/>
<path d="M167.1 322.2L171.5 326.6M167.1 326.6L171.5 322.2" stroke="#14ff00" stroke-width="1.2"/>
<path d="M186.6 323.7L191.0 328.1M186.6 328.1L191.0 323.7" stroke="#0408ff" stroke-width="1.2"/>
<path d="M171.6 320.9L176.0 325.3M171.6 325.3L176.0 320.9" stroke="#00ff10" stroke-width="1.2"/>
<path d="M175.9 319.1L180.3 323.5M175.9 323.5L180.3 319.1" stroke="#14ff00" stroke-width="1.2"/>
<path d="M198.4 320.6L202.8 325.0M198.4 325.0L202.8 320.6" stroke="#7e00ff" stroke-width="1.2"/>
<path d="M228.9 317.9L233.3 322.3M228.9 322.3L233.3 317.9" stroke="#1f00ff" stroke-width="1.2"/>
<path d="M241.6 311.0L246.0 315.4M241.6 315.4L246.0 311.0" stroke="#00ff92" stroke-width="1.2"/>
<path d="M190.9 323.7L195.3 328.1M190.9 328.1L195.3 323.7" stroke="#1f00ff" stroke-width="1.2"/>
<path d="M175.8 322.1L180.2 326.5M175.8 326.5L180.2 322.1" stroke="#00ff10" stroke-width="1.2"/>
<path d="M233.6 315.0L238.0 319.4M233.6 319.4L238.0 315.0" stroke="#00ff92" stroke-width="1.2"/>
<path d="M188.2 313.3L192.6 317.7M188.2 317.7L192.6 313.3" stroke="#00ff51" stroke-width="1.2"/>
<path d="M209.8 309.8L214.2 314.2M209.8 314.2L214.2 309.8" stroke="#14ff00" stroke-width="1.2"/>
<path d="M203.7 322.4L208.1 326.8M203.7 326.8L208.1 322.4" stroke="#7e00ff" stroke-width="1.2"/>
<path d="M223.8 322.1L228.2 326.5M223.8 326.5L228.2 322.1" stroke="#00ff51" stroke-width="1.2"/>
<path d="M180.5 326.1L184.9 330.5M180.5 330.5L184.9 326.1" stroke="#7e00ff" stroke-width="1.2"/>
<path d="M204.5 315.3L208.9 319.7M204.5 319.7L208.9 315.3" stroke="#00ff6e" stroke-width="1.2"/>
<path d="M176.8 322.1L181.2 326.5M176.8 326.5L181.2 322.1" stroke="#14ff00" stroke-width="1.2"/>
<path d="M167.6 322.3L172.0 326.7M167.6 326.7L172.0 322.3" stroke="#37ff00" stroke-width="1.2"/>
<path d="M218.7 321.2L223.1 325.6M218.7 325.6L223.1 321.2" stroke="#00ff92" stroke-width="1.2"/>
<path d="M231.3 316.2L235.7 320.6M231.3 320.6L235.7 316.2" stroke="#1f00ff" stroke-width="1.2"/>
<path d="M241.2 327.6L245.6 332.0M241.2 332.0L245.6 327.6" stroke="#00ff5c" stroke-width="1.2"/>
<path d="M225.7 321.0L230.1 325.4M225.7 325.4L230.1 321.0" stroke="#00ff51" stroke-width="1.2"/>
<path d="M230.2 312.8L234.6 317.2M230.2 317.2L234.6 312.8" stroke="#00ff6e" stroke-width="1.2"/>
<path d="M160.1 324.7L164.5 329.1M160.1 329.1L164.5 324.7" stroke="#0033ff" stroke-width="1.2"/>
<path d="M223.2 320.6L227.6 325.0M223.2 325.0L227.6 320.6" stroke="#0028ff" stroke-width="1.2"/>
<path d="M210.9 322.1L215.3 326.5M210.9 326.5L215.3 322.1" stroke="#1f00ff" stroke-width="1.2"/>
<path d="M205.8 325.4L210.2 329.8M205.8 329.8L210.2 325.4" stroke="#6000ff" stroke-width="1.2"/>
<path d="M194.9 313.2L199.3 317.6M194.9 317.6L199.3 313.2" stroke="#00ff51" stroke-width="1.2"/>
<path d="M221.4 323.2L225.8 327.6M221.4 327.6L225.8 323.2" stroke="#00ff92" stroke-width="1.2"/>
<path d="M197.1 315.9L201.5 320.3M197.1 320.3L201.5 315.9" stroke="#1f00ff" stroke-width="1.2"/>
<path d="M184.5 322.2L188.9 326.6M184.5 326.6L188.9 322.2" stroke="#0069ff" stroke-width="1.2"/>
<path d="M198.1 312.6L202.5 317.0M198.1 317.0L202.5 312.6" stroke="#00ff6e" stroke-width="1.2"/>
<path d="M197.3 324.3L201.7 328.7M197.3 328.7L201.7 324.3" stroke="#0028ff" stroke-width="1.2"/>
<path d="M210.7 321.4L215.1 325.8M210.7 325.8L215.1 321.4" stroke="#1f00ff" stroke-width="1.2"/>
<path d="M204.1 323.1L208.5 327.5M204.1 327.5L208.5 323.1" stroke="#0028ff" stroke-width="1.2"/>
<path d="M228.5 318.3L232.9 322.7M228.5 322.7L232.9 318.3" stroke="#0408ff" stroke-width="1.2"/>
<path d="M194.0 312.1L198.4 316.5M194.0 316.5L198.4 312.1" stroke="#00ff92" stroke-width="1.2"/>
<path d="M199.5 321.0L203.9 325.4M199.5 325.4L203.9 321.0" stroke="#0028ff" stroke-width="1.2"/>
<path d="M218.8 314.8L223.2 319.2M218.8 319.2L223.2 314.8" stroke="#00ff6e" stroke-width="1.2"/>
<path d="M240.4 311.3L244.8 315.7M240.4 315.7L244.8 311.3" stroke="#14ff00" stroke-width="1.2"/>
<path d="M192.7 321.3L197.1 325.7M192.7 325.7L197.1 321.3" stroke="#0028ff" stroke-width="1.2"/>
<path d="M253.2 313.1L257.6 317.5M253.2 317.5L257.6 313.1" stroke="#00ff51" stroke-width="1.2"/>
<path d="M235.0 319.3L239.4 323.7M235.0 323.7L239.4 319.3" stroke="#0408ff" stroke-width="1.2"/>
<path d="M174.8 319.8L179.2 324.2M174.8 324.2L179.2 319.8" stroke="#00ff10" stroke-width="1.2"/>
<path d="M234.4 321.1L238.8 325.5M234.4 325.5L238.8 321.1" stroke="#0069ff" stroke-width="1.2"/>
<path d="M182.7 323.4L187.1 327.8M182.7 327.8L187.1 323.4" stroke="#1f00ff" stroke-width="1.2"/>
<path d="M215.1 315.0L219.5 319.4M215.1 319.4L219.5 315.0" stroke="#3d00ff" stroke-width="1.2"/>
<path d="M238.8 311.2L243.2 315.6M238.8 315.6L243.2 311.2" stroke="#00ff6e" stroke-width="1.2"/>
<path d="M201.0 314.0L205.4 318.4M201.0 318.4L205.4 314.0" stroke="#00ff6e" stroke-width="1.2"/>
<path d="M203.9 324.5L208.3 328.9M203.9 328.9L208.3 324.5" stroke="#1f00ff" stroke-width="1.2"/>
<path d="M194.4 314.3L198.8 318.7M194.4 318.7L198.8 314.3" stroke="#00ff51" stroke-width="1.2"/>
<path d="M213.7 324.2L218.1 328.6M213.7 328.6L218.1 324.2" stroke="#7e00ff" stroke-width="1.2"/>
<path d="M177.7 319.8L182.1 324.2M177.7 324.2L182.1 319.8" stroke="#37ff00" stroke-width="1.2"/>
<path d="M218.7 323.5L223.1 327.9M218.7 327.9L223.1 323.5" stroke="#00ff6e" stroke-width="1.2"/>
<path d="M227.6 323.8L232.0 328.2M227.6 328.2L232.0 323.8" stroke="#0045ff" stroke-width="1.2"/>
<path d="M170.6 322.1L175.0 326.5M170.6 326.5L175.0 322.1" stroke="#00ff10" stroke-width="1.2"/>
<path d="M204.5 313.0L208.9 317.4M204.5 317.4L208.9 313.0" stroke="#00ff92" stroke-width="1.2"/>
<path d="M233.0 312.4L237.4 316.8M233.0 316.8L237.4 312.4" stroke="#14ff00" stroke-width="1.2"/>
<path d="M215.8 315.5L220.2 319.9M215.8 319.9L220.2 315.5" stroke="#1f00ff" stroke-width="1.2"/>
<path d="M212.9 318.5L217.3 322.9M212.9 322.9L217.3 318.5" stroke="#0408ff" stroke-width="1.2"/>
<path d="M234.9 308.6L239.3 313.0M234.9 313.0L239.3 308.6" stroke="#00ff51" stroke-width="1.2"/>
<path d="M223.8 316.8L228.2 321.2M223.8 321.2L228.2 316.8" stroke="#0045ff" stroke-width="1.2"/>
<path d="M188.5 322.0L192.9 326.4M188.5 326.4L192.9 322.0" stroke="#0045ff" stroke-width="1.2"/>
<path d="M171.5 321.0L175.9 325.4M171.5 325.4L175.9 321.0" stroke="#00ff10" stroke-width="1.2"/>
<path d="M223.9 320.8L228.3 325.2M223.9 325.2L228.3 320.8" stroke="#6000ff" stroke-width="1.2"/>
<path d="M204.0 322.9L208.4 327.3M204.0 327.3L208.4 322.9" stroke="#6000ff" stroke-width="1.2"/>
<path d="M230.6 319.6L235.0 324.0M230.6 324.0L235.0 319.6" stroke="#7e00ff" stroke-width="1.2"/>
<path d="M198.3 322.6L202.7 327.0M198.3 327.0L202.7 322.6" stroke="#0028ff" stroke-width="1.2"/>
<path d="M229.5 310.9L233.9 315.3M229.5 315.3L233.9 310.9" stroke="#00ff6e" stroke-width="1.2"/>
<path d="M211.9 319.9L216.3 324.3M211.9 324.3L216.3 319.9" stroke="#a100ff" stroke-width="1.2"/>
<path d="M254.7 320.9L259.1 325.3M254.7 325.3L259.1 320.9" stroke="#0033ff" stroke-width="1.2"/>
<path d="M197.6 322.3L202.0 326.7M197.6 326.7L202.0 322.3" stroke="#0045ff" stroke-width="1.2"/>
<path d="M186.8 323.3L191.2 327.7M186.8 327.7L191.2 323.3" stroke="#1f00ff" stroke-width="1.2"/>
<path d="M261.2 316.0L265.6 320.4M261.2 320.4L265.6 316.0" stroke="#6000ff" stroke-width="1.2"/>
<path d="M228.3 319.3L232.7 323.7M228.3 323.7L232.7 319.3" stroke="#1f00ff" stroke-width="1.2"/>
<path d="M178.3 320.8L182.7 325.2M178.3 325.2L182.7 320.8" stroke="#37ff00" stroke-width="1.2"/>
<path d="M202.6 317.9L207.0 322.3M202.6 322.3L207.0 317.9" stroke="#1f00ff" stroke-width="1.2"/>
<path d="M181.7 323.4L186.1 327.8M181.7 327.8L186.1 323.4" stroke="#0408ff" stroke-width="1.2"/>
<path d="M234.3 317.5L238.7 321.9M234.3 321.9L238.7 317.5" stroke="#7e00ff" stroke-width="1.2"/>
<path d="M192.2 314.4L196.6 318.8M192.2 318.8L196.6 314.4" stroke="#00ff10" stroke-width="1.2"/>
<path d="M214.0 322.8L218.4 327.2M214.0 327.2L218.4 322.8" stroke="#1f00ff" stroke-width="1.2"/>
<path d="M205.8 327.5L210.2 331.9M205.8 331.9L210.2 327.5" stroke="#0408ff" stroke-width="1.2"/>
<path d="M195.0 316.0L199.4 320.4M195.0 320.4L199.4 316.0" stroke="#6000ff" stroke-width="1.2"/>
<path d="M176.4 320.2L180.8 324.6M176.4 324.6L180.8 320.2" stroke="#37ff00" stroke-width="1.2"/>
<path d="M229.4 309.9L233.8 314.3M229.4 314.3L233.8 309.9" stroke="#00ff51" stroke-width="1.2"/>
<path d="M229.6 318.8L234.0 323.2M229.6 323.2L234.0 318.8" stroke="#1f00ff" stroke-width="1.2"/>
<path d="M208.9 317.5L213.3 321.9M208.9 321.9L213.3 317.5" stroke="#a100ff" stroke-width="1.2"/>
<path d="M185.1 322.0L189.5 326.4M185.1 326.4L189.5 322.0" stroke="#1f00ff" stroke-width="1.2"/>
<path d="M227.5 311.9L231.9 316.3M227.5 316.3L231.9 311.9" stroke="#14ff00" stroke-width="1.2"/>
<path d="M219.4 314.2L223.8 318.6M219.4 318.6L223.8 314.2" stroke="#00ff92" stroke-width="1.2"/>
<path d="M214.6 314.5L219.0 318.9M214.6 318.9L219.0 314.5" stroke="#14ff00" stroke-width="1.2"/>
<path d="M156.1 325.8L160.5 330.2M156.1 330.2L160.5 325.8" stroke="#0057ff" stroke-width="1.2"/>
<path d="M213.7 322.6L218.1 327.0M213.7 327.0L218.1 322.6" stroke="#a100ff" stroke-width="1.2"/>
<path d="M219.9 312.0L224.3 316.4M219.9 316.4L224.3 312.0" stroke="#14ff00" stroke-width="1.2"/>
<path d="M164.1 322.7L168.5 327.1M164.1 327.1L168.5 322.7" stroke="#0045ff" stroke-width="1.2"/>
<path d="M218.7 318.9L223.1 323.3M218.7 323.3L223.1 318.9" stroke="#1f00ff" stroke-width="1.2"/>
<path d="M184.5 321.1L188.9 325.5M184.5 325.5L188.9 321.1" stroke="#0045ff" stroke-width="1.2"/>
<path d="M205.2 310.3L209.6 314.7M205.2 314.7L209.6 310.3" stroke="#00ff92" stroke-width="1.2"/>
<path d="M226.1 318.3L230.5 322.7M226.1 322.7L230.5 318.3" stroke="#7e00ff" stroke-width="1.2"/>
<path d="M213.3 322.4L217.7 326.8M213.3 326.8L217.7 322.4" stroke="#7e00ff" stroke-width="1.2"/>
<path d="M180.0 322.1L184.4 326.5M180.0 326.5L184.4 322.1" stroke="#6000ff" stroke-width="1.2"/>
<path d="M207.8 317.9L212.2 322.3M207.8 322.3L212.2 317.9" stroke="#0028ff" stroke-width="1.2"/>
<path d="M204.3 319.2L208.7 323.6M204.3 323.6L208.7 319.2" stroke="#0045ff" stroke-width="1.2"/>
<path d="M221.0 315.0L225.4 319.4M221.0 319.4L225.4 315.0" stroke="#00ff51" stroke-width="1.2"/>
<path d="M195.8 325.9L200.2 330.3M195.8 330.3L200.2 325.9" stroke="#0028ff" stroke-width="1.2"/>
<path d="M187.0 323.2L191.4 327.6M187.0 327.6L191.4 323.2" stroke="#0028ff" stroke-width="1.2"/>
<path d="M211.6 319.5L216.0 323.9M211.6 323.9L216.0 319.5" stroke="#0069ff" stroke-width="1.2"/>
<path d="M242.1 322.0L246.5 326.4M242.1 326.4L246.5 322.0" stroke="#00ff92" stroke-width="1.2"/>
<path d="M238.8 312.4L243.2 316.8M238.8 316.8L243.2 312.4" stroke="#00ff51" stroke-width="1.2"/>
<path d="M228.2 326.7L232.6 331.1M228.2 331.1L232.6 326.7" stroke="#7e00ff" stroke-width="1.2"/>
<path d="M184.0 325.2L188.4 329.6M184.0 329.6L188.4 325.2" stroke="#3d00ff" stroke-width="1.2"/>
<path d="M168.5 323.9L172.9 328.3M168.5 328.3L172.9 323.9" stroke="#0016ff" stroke-width="1.2"/>
<path d="M214.8 315.5L219.2 319.9M214.8 319.9L219.2 315.5" stroke="#6000ff" stroke-width="1.2"/>
<path d="M230.7 317.9L235.1 322.3M230.7 322.3L235.1 317.9" stroke="#0069ff" stroke-width="1.2"/>
<path d="M217.5 321.4L221.9 325.8M217.5 325.8L221.9 321.4" stroke="#0028ff" stroke-width="1.2"/>
<path d="M238.9 321.9L243.3 326.3M238.9 326.3L243.3 321.9" stroke="#00ff6e" stroke-width="1.2"/>
<path d="M182.3 315.7L186.7 320.1M182.3 320.1L186.7 315.7" stroke="#7e00ff" stroke-width="1.2"/>
<path d="M208.5 321.5L212.9 325.9M208.5 325.9L212.9 321.5" stroke="#6000ff" stroke-width="1.2"/>
<path d="M227.7 316.7L232.1 321.1M227.7 321.1L232.1 316.7" stroke="#a100ff" stroke-width="1.2"/>
<path d="M174.1 320.6L178.5 325.0M174.1 325.0L178.5 320.6" stroke="#14ff00" stroke-width="1.2"/>
<path d="M212.5 322.4L216.9 326.8M212.5 326.8L216.9 322.4" stroke="#6000ff" stroke-width="1.2"/>
<path d="M196.4 327.1L200.8 331.5M196.4 331.5L200.8 327.1" stroke="#6000ff" stroke-width="1.2"/>
<path d="M199.5 322.3L203.9 326.7M199.5 326.7L203.9 322.3" stroke="#0069ff" stroke-width="1.2"/>
<path d="M180.9 322.2L185.3 326.6M180.9 326.6L185.3 322.2" stroke="#0069ff" stroke-width="1.2"/>
<path d="M234.2 308.4L238.6 312.8M234.2 312.8L238.6 308.4" stroke="#14ff00" stroke-width="1.2"/>
<path d="M203.0 324.0L207.4 328.4M203.0 328.4L207.4 324.0" stroke="#3d00ff" stroke-width="1.2"/>
<path d="M175.6 321.9L180.0 326.3M175.6 326.3L180.0 321.9" stroke="#00ff10" stroke-width="1.2"/>
<path d="M237.4 317.8L241.8 322.2M237.4 322.2L241.8 317.8" stroke="#0045ff" stroke-width="1.2"/>
<path d="M186.6 322.0L191.0 326.4M186.6 326.4L191.0 322.0" stroke="#1f00ff" stroke-width="1.2"/>
<path d="M195.9 322.8L200.3 327.2M195.9 327.2L200.3 322.8" stroke="#a100ff" stroke-width="1.2"/>
<path d="M205.1 315.7L209.5 320.1M205.1 320.1L209.5 315.7" stroke="#14ff00" stroke-width="1.2"/>
<path d="M234.8 320.3L239.2 324.7M234.8 324.7L239.2 320.3" stroke="#3d00ff" stroke-width="1.2"/>
<path d="M206.1 323.9L210.5 328.3M206.1 328.3L210.5 323.9" stroke="#6000ff" stroke-width="1.2"/>
<path d="M232.9 320.8L237.3 325.2M232.9 325.2L237.3 320.8" stroke="#a100ff" stroke-width="1.2"/>
<path d="M237.0 309.9L241.4 314.3M237.0 314.3L241.4 309.9" stroke="#00ff2d" stroke-width="1.2"/>
<path d="M208.7 323.3L213.1 327.7M208.7 327.7L213.1 323.3" stroke="#0045ff" stroke-width="1.2"/>
<path d="M171.7 322.1L176.1 326.5M171.7 326.5L176.1 322.1" stroke="#14ff00" stroke-width="1.2"/>
<path d="M217.8 321.8L222.2 326.2M217.8 326.2L222.2 321.8" stroke="#6000ff" stroke-width="1.2"/>
<path d="M180.0 321.2L184.4 325.6M180.0 325.6L184.4 321.2" stroke="#0028ff" stroke-width="1.2"/>
<circle cx="83.0" cy="450.8" r="1.35" fill="#1f77b4"/>
<circle cx="76.7" cy="463.7" r="1.35" fill="#1f77b4"/>
<circle cx="73.8" cy="469.8" r="1.35" fill="#1f77b4"/>
<circle cx="81.8" cy="452.9" r="1.35" fill="#1f77b4"/>
<circle cx="128.7" cy="364.9" r="1.35" fill="#1f77b4"/>
<circle cx="120.2" cy="383.2" r="1.35" fill="#1f77b4"/>
<circle cx="83.0" cy="450.7" r="1.35" fill="#1f77b4"/>
<circle cx="93.2" cy="431.1" r="1.35" fill="#1f77b4"/>
<circle cx="89.7" cy="435.6" r="1.35" fill="#1f77b4"/>
<circle cx="146.4" cy="350.7" r="1.35" fill="#1f77b4"/>
<circle cx="79.2" cy="458.6" r="1.35" fill="#1f77b4"/>
<circle cx="102.2" cy="411.9" r="1.35" fill="#1f77b4"/>
<circle cx="77.3" cy="462.6" r="1.35" fill="#1f77b4"/>
<circle cx="103.9" cy="410.6" r="1.35" fill="#1f77b4"/>
<circle cx="129.0" cy="367.6" r="1.35" fill="#1f77b4"/>
<circle cx="76.0" cy="465.0" r="1.35" fill="#1f77b4"/>
<circle cx="71.7" cy="474.6" r="1.35" fill="#1f77b4"/>
<circle cx="100.0" cy="417.5" r="1.35" fill="#1f77b4"/>
<circle cx="76.7" cy="463.8" r="1.35" fill="#1f77b4"/>
<circle cx="125.3" cy="376.2" r="1.35" fill="#1f77b4"/>
<circle cx="92.0" cy="432.5" r="1.35" fill="#1f77b4"/>
<circle cx="102.0" cy="414.3" r="1.35" fill="#1f77b4"/>
<circle cx="137.2" cy="354.1" r="1.35" fill="#1f77b4"/>
<circle cx="77.6" cy="461.2" r="1.35" fill="#1f77b4"/>
<circle cx="144.3" cy="346.0" r="1.35" fill="#1f77b4"/>
<circle cx="136.6" cy="359.9" r="1.35" fill="#1f77b4"/>
<circle cx="121.2" cy="378.1" r="1.35" fill="#1f77b4"/>
<circle cx="109.4" cy="403.5" r="1.35" fill="#1f77b4"/>
<circle cx="67.7" cy="482.8" r="1.35" fill="#1f77b4"/>
<circle cx="96.1" cy="422.3" r="1.35" fill="#1f77b4"/>
<circle cx="78.7" cy="459.5" r="1.35" fill="#1f77b4"/>
<circle cx="132.8" cy="355.6" r="1.35" fill="#1f77b4"/>
<circle cx="64.2" cy="489.9" r="1.35" fill="#1f77b4"/>
<circle cx="130.7" cy="363.3" r="1.35" fill="#1f77b4"/>
<circle cx="92.0" cy="434.2" r="1.35" fill="#1f77b4"/>
<circle cx="63.3" cy="491.5" r="1.35" fill="#1f77b4"/>
<circle cx="112.6" cy="394.5" r="1.35" fill="#1f77b4"/>
<circle cx="137.4" cy="352.8" r="1.35" fill="#1f77b4"/>
<circle cx="98.9" cy="418.8" r="1.35" fill="#1f77b4"/>
<circle cx="87.4" cy="441.4" r="1.35" fill="#1f77b4"/>
<circle cx="114.2" cy="390.5" r="1.35" fill="#1f77b4"/>
<circle cx="74.9" cy="467.4" r="1.35" fill="#1f77b4"/>
<circle cx="128.9" cy="366.0" r="1.35" fill="#1f77b4"/>
<circle cx="142.4" cy="351.6" r="1.35" fill="#1f77b4"/>
<circle cx="87.0" cy="444.8" r="1.35" fill="#1f77b4"/>
<circle cx="121.5" cy="377.1" r="1.35" fill="#1f77b4"/>
<circle cx="63.5" cy="490.8" r="1.35" fill="#1f77b4"/>
<circle cx="90.3" cy="434.8" r="1.35" fill="#1f77b4"/>
<circle cx="136.3" cy="348.2" r="1.35" fill="#1f77b4"/>
<circle cx="99.4" cy="417.5" r="1.35" fill="#1f77b4"/>
<circle cx="95.0" cy="428.3" r="1.35" fill="#1f77b4"/>
<circle cx="93.7" cy="430.7" r="1.35" fill="#1f77b4"/>
<circle cx="74.4" cy="468.0" r="1.35" fill="#1f77b4"/>
<circle cx="142.7" cy="347.4" r="1.35" fill="#1f77b4"/>
<circle cx="108.6" cy="401.6" r="1.35" fill="#1f77b4"/>
<circle cx="72.3" cy="472.3" r="1.35" fill="#1f77b4"/>
<circle cx="99.8" cy="419.1" r="1.35" fill="#1f77b4"/>
<circle cx="132.8" cy="358.7" r="1.35" fill="#1f77b4"/>
<circle cx="140.0" cy="352.6" r="1.35" fill="#1f77b4"/>
<circle cx="99.3" cy="418.4" r="1.35" fill="#1f77b4"/>
<circle cx="63.4" cy="491.3" r="1.35" fill="#1f77b4"/>
<circle cx="103.4" cy="410.9" r="1.35" fill="#1f77b4"/>
<circle cx="93.2" cy="428.6" r="1.35" fill="#1f77b4"/>
<circle cx="75.4" cy="465.5" r="1.35" fill="#1f77b4"/>
<circle cx="116.2" cy="389.5" r="1.35" fill="#1f77b4"/>
<circle cx="145.7" cy="336.9" r="1.35" fill="#1f77b4"/>
<circle cx="74.3" cy="469.2" r="1.35" fill="#1f77b4"/>
<circle cx="116.8" cy="386.7" r="1.35" fill="#1f77b4"/>
<circle cx="116.2" cy="385.8" r="1.35" fill="#1f77b4"/>
<circle cx="68.7" cy="481.2" r="1.35" fill="#1f77b4"/>
<circle cx="101.9" cy="411.8" r="1.35" fill="#1f77b4"/>
<circle cx="88.2" cy="439.0" r="1.35" fill="#1f77b4"/>
<circle cx="94.9" cy="427.1" r="1.35" fill="#1f77b4"/>
<circle cx="139.6" cy="351.0" r="1.35" fill="#1f77b4"/>
<circle cx="93.2" cy="430.1" r="1.35" fill="#1f77b4"/>
<circle cx="82.9" cy="451.0" r="1.35" fill="#1f77b4"/>
<circle cx="136.2" cy="352.4" r="1.35" fill="#1f77b4"/>
<circle cx="97.5" cy="422.5" r="1.35" fill="#1f77b4"/>
<circle cx="69.6" cy="478.4" r="1.35" fill="#1f77b4"/>
<circle cx="145.4" cy="344.6" r="1.35" fill="#1f77b4"/>
<circle cx="83.4" cy="449.1" r="1.35" fill="#1f77b4"/>
<circle cx="77.8" cy="460.7" r="1.35" fill="#1f77b4"/>
<circle cx="84.0" cy="449.9" r="1.35" fill="#1f77b4"/>
<circle cx="102.3" cy="416.4" r="1.35" fill="#1f77b4"/>
<circle cx="97.8" cy="421.6" r="1.35" fill="#1f77b4"/>
<circle cx="75.9" cy="465.3" r="1.35" fill="#1f77b4"/>
<circle cx="146.8" cy="348.7" r="1.35" fill="#1f77b4"/>
<circle cx="73.0" cy="471.2" r="1.35" fill="#1f77b4"/>
<circle cx="73.8" cy="469.3" r="1.35" fill="#1f77b4"/>
<circle cx="126.6" cy="368.4" r="1.35" fill="#1f77b4"/>
<circle cx="139.2" cy="346.8" r="1.35" fill="#1f77b4"/>
<circle cx="112.1" cy="397.2" r="1.35" fill="#1f77b4"/>
<circle cx="119.8" cy="381.3" r="1.35" fill="#1f77b4"/>
<circle cx="77.1" cy="461.4" r="1.35" fill="#1f77b4"/>
<circle cx="140.1" cy="349.0" r="1.35" fill="#1f77b4"/>
<circle cx="90.9" cy="436.2" r="1.35" fill="#1f77b4"/>
<circle cx="80.5" cy="455.7" r="1.35" fill="#1f77b4"/>
<circle cx="77.8" cy="460.4" r="1.35" fill="#1f77b4"/>
<circle cx="132.2" cy="354.5" r="1.35" fill="#1f77b4"/>
<circle cx="111.0" cy="395.4" r="1.35" fill="#1f77b4"/>
<circle cx="135.8" cy="352.7" r="1.35" fill="#1f77b4"/>
<circle cx="145.5" cy="350.0" r="1.35" fill="#1f77b4"/>
<circle cx="143.5" cy="348.7" r="1.35" fill="#1f77b4"/>
<circle cx="136.5" cy="351.7" r="1.35" fill="#1f77b4"/>
<circle cx="87.1" cy="443.3" r="1.35" fill="#1f77b4"/>
<circle cx="115.3" cy="389.3" r="1.35" fill="#1f77b4"/>
<circle cx="114.8" cy="394.5" r="1.35" fill="#1f77b4"/>
<circle cx="79.4" cy="456.9" r="1.35" fill="#1f77b4"/>
<circle cx="126.7" cy="369.8" r="1.35" fill="#1f77b4"/>
<circle cx="109.4" cy="398.5" r="1.35" fill="#1f77b4"/>
<circle cx="72.6" cy="472.9" r="1.35" fill="#1f77b4"/>
<circle cx="90.8" cy="436.7" r="1.35" fill="#1f77b4"/>
<circle cx="88.6" cy="437.5" r="1.35" fill="#1f77b4"/>
<circle cx="111.2" cy="397.2" r="1.35" fill="#1f77b4"/>
<circle cx="68.9" cy="480.1" r="1.35" fill="#1f77b4"/>
<circle cx="111.7" cy="394.4" r="1.35" fill="#1f77b4"/>
<circle cx="132.1" cy="359.5" r="1.35" fill="#1f77b4"/>
<circle cx="97.9" cy="424.3" r="1.35" fill="#1f77b4"/>
<circle cx="75.5" cy="466.7" r="1.35" fill="#1f77b4"/>
<circle cx="120.0" cy="380.8" r="1.35" fill="#1f77b4"/>
<circle cx="147.6" cy="343.8" r="1.35" fill="#1f77b4"/>
<circle cx="63.1" cy="492.0" r="1.35" fill="#1f77b4"/>
<circle cx="135.1" cy="358.8" r="1.35" fill="#1f77b4"/>
<circle cx="112.0" cy="395.6" r="1.35" fill="#1f77b4"/>
<circle cx="91.2" cy="434.0" r="1.35" fill="#1f77b4"/>
<circle cx="114.1" cy="392.9" r="1.35" fill="#1f77b4"/>
<circle cx="81.3" cy="454.9" r="1.35" fill="#1f77b4"/>
<circle cx="140.0" cy="353.4" r="1.35" fill="#1f77b4"/>
<circle cx="73.3" cy="470.6" r="1.35" fill="#1f77b4"/>
<circle cx="102.1" cy="413.5" r="1.35" fill="#1f77b4"/>
<circle cx="84.1" cy="448.9" r="1.35" fill="#1f77b4"/>
<circle cx="118.9" cy="383.6" r="1.35" fill="#1f77b4"/>
<circle cx="93.7" cy="429.5" r="1.35" fill="#1f77b4"/>
<circle cx="88.5" cy="439.3" r="1.35" fill="#1f77b4"/>
<circle cx="87.5" cy="441.3" r="1.35" fill="#1f77b4"/>
<circle cx="102.3" cy="415.2" r="1.35" fill="#1f77b4"/>
<circle cx="121.8" cy="375.2" r="1.35" fill="#1f77b4"/>
<circle cx="76.4" cy="465.3" r="1.35" fill="#1f77b4"/>
<circle cx="74.5" cy="467.9" r="1.35" fill="#1f77b4"/>
<circle cx="72.7" cy="472.3" r="1.35" fill="#1f77b4"/>
<circle cx="78.7" cy="459.0" r="1.35" fill="#1f77b4"/>
<circle cx="139.3" cy="348.7" r="1.35" fill="#1f77b4"/>
<circle cx="93.9" cy="431.4" r="1.35" fill="#1f77b4"/>
<circle cx="117.6" cy="383.5" r="1.35" fill="#1f77b4"/>
<circle cx="133.8" cy="358.3" r="1.35" fill="#1f77b4"/>
<circle cx="146.2" cy="347.0" r="1.35" fill="#1f77b4"/>
<circle cx="117.6" cy="384.2" r="1.35" fill="#1f77b4"/>
<circle cx="118.7" cy="384.5" r="1.35" fill="#1f77b4"/>
<circle cx="123.9" cy="374.0" r="1.35" fill="#1f77b4"/>
<circle cx="108.2" cy="404.2" r="1.35" fill="#1f77b4"/>
<circle cx="101.4" cy="413.3" r="1.35" fill="#1f77b4"/>
<circle cx="72.2" cy="472.6" r="1.35" fill="#1f77b4"/>
<circle cx="137.1" cy="352.6" r="1.35" fill="#1f77b4"/>
<circle cx="119.7" cy="383.1" r="1.35" fill="#1f77b4"/>
<circle cx="118.6" cy="378.6" r="1.35" fill="#1f77b4"/>
<circle cx="75.2" cy="465.6" r="1.35" fill="#1f77b4"/>
<circle cx="119.7" cy="381.8" r="1.35" fill="#1f77b4"/>
<circle cx="89.4" cy="438.4" r="1.35" fill="#1f77b4"/>
<circle cx="82.0" cy="453.0" r="1.35" fill="#1f77b4"/>
<circle cx="104.6" cy="407.3" r="1.35" fill="#1f77b4"/>
<circle cx="73.7" cy="469.2" r="1.35" fill="#1f77b4"/>
<circle cx="72.1" cy="473.5" r="1.35" fill="#1f77b4"/>
<circle cx="115.5" cy="393.7" r="1.35" fill="#1f77b4"/>
<circle cx="74.0" cy="469.0" r="1.35" fill="#1f77b4"/>
<circle cx="90.0" cy="436.7" r="1.35" fill="#1f77b4"/>
<circle cx="145.0" cy="345.7" r="1.35" fill="#1f77b4"/>
<circle cx="84.8" cy="446.5" r="1.35" fill="#1f77b4"/>
<circle cx="96.1" cy="426.3" r="1.35" fill="#1f77b4"/>
<circle cx="86.7" cy="443.1" r="1.35" fill="#1f77b4"/>
<circle cx="96.8" cy="423.8" r="1.35" fill="#1f77b4"/>
<circle cx="138.4" cy="352.2" r="1.35" fill="#1f77b4"/>
<circle cx="103.8" cy="407.7" r="1.35" fill="#1f77b4"/>
<circle cx="107.4" cy="403.3" r="1.35" fill="#1f77b4"/>
<circle cx="95.4" cy="427.3" r="1.35" fill="#1f77b4"/>
<circle cx="105.4" cy="404.6" r="1.35" fill="#1f77b4"/>
<circle cx="141.4" cy="347.5" r="1.35" fill="#1f77b4"/>
<circle cx="101.0" cy="415.6" r="1.35" fill="#1f77b4"/>
<circle cx="71.5" cy="475.3" r="1.35" fill="#1f77b4"/>
<circle cx="104.1" cy="411.0" r="1.35" fill="#1f77b4"/>
<circle cx="134.4" cy="358.0" r="1.35" fill="#1f77b4"/>
<circle cx="107.1" cy="402.8" r="1.35" fill="#1f77b4"/>
<circle cx="116.8" cy="387.9" r="1.35" fill="#1f77b4"/>
<circle cx="110.1" cy="397.5" r="1.35" fill="#1f77b4"/>
<circle cx="98.8" cy="420.6" r="1.35" fill="#1f77b4"/>
<circle cx="89.2" cy="438.7" r="1.35" fill="#1f77b4"/>
<circle cx="98.6" cy="419.0" r="1.35" fill="#1f77b4"/>
<circle cx="140.2" cy="352.3" r="1.35" fill="#1f77b4"/>
<circle cx="104.9" cy="407.7" r="1.35" fill="#1f77b4"/>
<circle cx="72.7" cy="471.4" r="1.35" fill="#1f77b4"/>
<circle cx="77.8" cy="460.7" r="1.35" fill="#1f77b4"/>
<circle cx="80.3" cy="456.6" r="1.35" fill="#1f77b4"/>
<circle cx="138.5" cy="354.3" r="1.35" fill="#1f77b4"/>
<circle cx="82.3" cy="453.2" r="1.35" fill="#1f77b4"/>
<circle cx="106.4" cy="407.9" r="1.35" fill="#1f77b4"/>
<circle cx="120.4" cy="379.5" r="1.35" fill="#1f77b4"/>
<circle cx="95.7" cy="426.3" r="1.35" fill="#1f77b4"/>
<circle cx="137.4" cy="361.0" r="1.35" fill="#1f77b4"/>
<circle cx="96.1" cy="424.0" r="1.35" fill="#1f77b4"/>
<circle cx="117.8" cy="387.1" r="1.35" fill="#1f77b4"/>
<circle cx="122.6" cy="377.5" r="1.35" fill="#1f77b4"/>
<circle cx="109.6" cy="398.5" r="1.35" fill="#1f77b4"/>
<circle cx="119.4" cy="381.0" r="1.35" fill="#1f77b4"/>
<circle cx="92.0" cy="432.8" r="1.35" fill="#1f77b4"/>
<circle cx="73.4" cy="471.5" r="1.35" fill="#1f77b4"/>
<circle cx="140.0" cy="349.7" r="1.35" fill="#1f77b4"/>
<circle cx="85.4" cy="446.5" r="1.35" fill="#1f77b4"/>
<circle cx="125.8" cy="375.1" r="1.35" fill="#1f77b4"/>
<circle cx="108.5" cy="406.1" r="1.35" fill="#1f77b4"/>
<circle cx="111.3" cy="393.5" r="1.35" fill="#1f77b4"/>
<circle cx="118.1" cy="384.0" r="1.35" fill="#1f77b4"/>
<circle cx="90.8" cy="435.0" r="1.35" fill="#1f77b4"/>
<circle cx="74.7" cy="467.4" r="1.35" fill="#1f77b4"/>
<circle cx="101.0" cy="415.4" r="1.35" fill="#1f77b4"/>
<circle cx="115.9" cy="391.8" r="1.35" fill="#1f77b4"/>
<circle cx="111.9" cy="393.9" r="1.35" fill="#1f77b4"/>
<circle cx="96.7" cy="422.2" r="1.35" fill="#1f77b4"/>
<circle cx="142.7" cy="346.9" r="1.35" fill="#1f77b4"/>
<circle cx="147.2" cy="338.7" r="1.35" fill="#1f77b4"/>
<circle cx="70.5" cy="475.6" r="1.35" fill="#1f77b4"/>
<circle cx="140.3" cy="354.1" r="1.35" fill="#1f77b4"/>
<circle cx="72.9" cy="471.8" r="1.35" fill="#1f77b4"/>
<circle cx="74.4" cy="467.8" r="1.35" fill="#1f77b4"/>
<circle cx="72.4" cy="472.4" r="1.35" fill="#1f77b4"/>
<circle cx="63.3" cy="491.7" r="1.35" fill="#1f77b4"/>
<circle cx="73.3" cy="470.2" r="1.35" fill="#1f77b4"/>
<circle cx="93.9" cy="428.0" r="1.35" fill="#1f77b4"/>
<circle cx="72.9" cy="471.8" r="1.35" fill="#1f77b4"/>
<circle cx="80.8" cy="455.0" r="1.35" fill="#1f77b4"/>
<circle cx="116.7" cy="388.5" r="1.35" fill="#1f77b4"/>
<circle cx="83.8" cy="449.3" r="1.35" fill="#1f77b4"/>
<circle cx="65.1" cy="488.3" r="1.35" fill="#1f77b4"/>
<circle cx="116.6" cy="391.7" r="1.35" fill="#1f77b4"/>
<circle cx="102.6" cy="413.2" r="1.35" fill="#1f77b4"/>
<circle cx="81.8" cy="453.7" r="1.35" fill="#1f77b4"/>
<circle cx="119.3" cy="379.9" r="1.35" fill="#1f77b4"/>
<circle cx="131.1" cy="357.8" r="1.35" fill="#1f77b4"/>
<circle cx="126.5" cy="369.9" r="1.35" fill="#1f77b4"/>
<circle cx="149.1" cy="340.9" r="1.35" fill="#1f77b4"/>
<circle cx="118.2" cy="385.8" r="1.35" fill="#1f77b4"/>
<circle cx="133.2" cy="362.9" r="1.35" fill="#1f77b4"/>
<circle cx="112.0" cy="395.8" r="1.35" fill="#1f77b4"/>
<circle cx="124.5" cy="374.0" r="1.35" fill="#1f77b4"/>
<circle cx="67.8" cy="482.1" r="1.35" fill="#1f77b4"/>
<circle cx="78.4" cy="460.0" r="1.35" fill="#1f77b4"/>
<circle cx="101.4" cy="411.8" r="1.35" fill="#1f77b4"/>
<circle cx="69.2" cy="479.3" r="1.35" fill="#1f77b4"/>
<circle cx="114.5" cy="394.6" r="1.35" fill="#1f77b4"/>
<circle cx="121.7" cy="377.7" r="1.35" fill="#1f77b4"/>
<circle cx="66.6" cy="485.0" r="1.35" fill="#1f77b4"/>
<circle cx="104.4" cy="408.5" r="1.35" fill="#1f77b4"/>
<circle cx="145.8" cy="341.5" r="1.35" fill="#1f77b4"/>
<circle cx="84.6" cy="448.0" r="1.35" fill="#1f77b4"/>
<circle cx="87.9" cy="441.0" r="1.35" fill="#1f77b4"/>
<circle cx="128.7" cy="364.6" r="1.35" fill="#1f77b4"/>
<circle cx="144.6" cy="350.2" r="1.35" fill="#1f77b4"/>
<circle cx="148.5" cy="342.3" r="1.35" fill="#1f77b4"/>
<circle cx="142.6" cy="346.8" r="1.35" fill="#1f77b4"/>
<circle cx="107.1" cy="402.3" r="1.35" fill="#1f77b4"/>
<circle cx="83.3" cy="449.2" r="1.35" fill="#1f77b4"/>
<circle cx="84.8" cy="446.5" r="1.35" fill="#1f77b4"/>
<circle cx="81.4" cy="453.6" r="1.35" fill="#1f77b4"/>
<circle cx="100.6" cy="418.3" r="1.35" fill="#1f77b4"/>
<circle cx="96.1" cy="428.5" r="1.35" fill="#1f77b4"/>
<circle cx="63.0" cy="492.5" r="1.35" fill="#1f77b4"/>
<circle cx="107.5" cy="400.2" r="1.35" fill="#1f77b4"/>
<circle cx="94.1" cy="428.4" r="1.35" fill="#1f77b4"/>
<circle cx="95.4" cy="429.2" r="1.35" fill="#1f77b4"/>
<circle cx="128.0" cy="368.6" r="1.35" fill="#1f77b4"/>
<circle cx="119.2" cy="381.4" r="1.35" fill="#1f77b4"/>
<circle cx="77.1" cy="463.9" r="1.35" fill="#1f77b4"/>
<circle cx="124.9" cy="371.0" r="1.35" fill="#1f77b4"/>
<circle cx="83.5" cy="450.7" r="1.35" fill="#1f77b4"/>
<circle cx="101.6" cy="412.3" r="1.35" fill="#1f77b4"/>
<circle cx="82.9" cy="450.8" r="1.35" fill="#1f77b4"/>
<circle cx="78.6" cy="457.5" r="1.35" fill="#1f77b4"/>
<circle cx="83.0" cy="451.9" r="1.35" fill="#1f77b4"/>
<circle cx="92.6" cy="431.2" r="1.35" fill="#1f77b4"/>
<circle cx="94.8" cy="429.2" r="1.35" fill="#1f77b4"/>
<circle cx="79.4" cy="457.1" r="1.35" fill="#1f77b4"/>
<circle cx="100.7" cy="415.7" r="1.35" fill="#1f77b4"/>
<circle cx="131.0" cy="359.9" r="1.35" fill="#1f77b4"/>
<circle cx="137.1" cy="354.7" r="1.35" fill="#1f77b4"/>
<circle cx="109.6" cy="401.9" r="1.35" fill="#1f77b4"/>
<circle cx="132.1" cy="363.3" r="1.35" fill="#1f77b4"/>
<circle cx="65.1" cy="488.2" r="1.35" fill="#1f77b4"/>
<circle cx="130.6" cy="366.5" r="1.35" fill="#1f77b4"/>
<circle cx="96.3" cy="424.0" r="1.35" fill="#1f77b4"/>
<circle cx="124.5" cy="370.2" r="1.35" fill="#1f77b4"/>
<circle cx="92.2" cy="431.3" r="1.35" fill="#1f77b4"/>
<circle cx="96.5" cy="423.1" r="1.35" fill="#1f77b4"/>
<circle cx="65.7" cy="486.9" r="1.35" fill="#1f77b4"/>
<circle cx="126.5" cy="368.4" r="1.35" fill="#1f77b4"/>
<circle cx="142.3" cy="352.1" r="1.35" fill="#1f77b4"/>
<circle cx="97.2" cy="422.3" r="1.35" fill="#1f77b4"/>
<circle cx="82.0" cy="452.0" r="1.35" fill="#1f77b4"/>
<circle cx="74.8" cy="467.6" r="1.35" fill="#1f77b4"/>
<circle cx="108.8" cy="401.7" r="1.35" fill="#1f77b4"/>
<circle cx="99.3" cy="419.1" r="1.35" fill="#1f77b4"/>
<circle cx="114.0" cy="390.0" r="1.35" fill="#1f77b4"/>
<circle cx="131.5" cy="363.1" r="1.35" fill="#1f77b4"/>
<circle cx="129.9" cy="368.5" r="1.35" fill="#1f77b4"/>
<circle cx="73.7" cy="470.1" r="1.35" fill="#1f77b4"/>
<circle cx="63.6" cy="491.3" r="1.35" fill="#1f77b4"/>
<circle cx="144.9" cy="341.0" r="1.35" fill="#1f77b4"/>
<circle cx="95.8" cy="425.3" r="1.35" fill="#1f77b4"/>
<circle cx="137.6" cy="359.3" r="1.35" fill="#1f77b4"/>
<circle cx="109.0" cy="399.9" r="1.35" fill="#1f77b4"/>
<circle cx="93.7" cy="428.5" r="1.35" fill="#1f77b4"/>
<circle cx="96.8" cy="422.8" r="1.35" fill="#1f77b4"/>
<circle cx="118.7" cy="384.2" r="1.35" fill="#1f77b4"/>
<circle cx="100.9" cy="415.2" r="1.35" fill="#1f77b4"/>
<circle cx="76.4" cy="464.0" r="1.35" fill="#1f77b4"/>
<circle cx="130.9" cy="359.8" r="1.35" fill="#1f77b4"/>
<circle cx="144.1" cy="345.9" r="1.35" fill="#1f77b4"/>
<circle cx="91.0" cy="432.0" r="1.35" fill="#1f77b4"/>
<circle cx="73.0" cy="471.3" r="1.35" fill="#1f77b4"/>
<circle cx="88.0" cy="439.0" r="1.35" fill="#1f77b4"/>
<circle cx="140.3" cy="351.1" r="1.35" fill="#1f77b4"/>
<circle cx="144.5" cy="353.1" r="1.35" fill="#1f77b4"/>
<circle cx="113.9" cy="394.4" r="1.35" fill="#1f77b4"/>
<circle cx="76.7" cy="464.7" r="1.35" fill="#1f77b4"/>
<circle cx="113.1" cy="396.9" r="1.35" fill="#1f77b4"/>
<circle cx="77.7" cy="460.7" r="1.35" fill="#1f77b4"/>
<circle cx="65.1" cy="488.2" r="1.35" fill="#1f77b4"/>
<circle cx="126.1" cy="368.8" r="1.35" fill="#1f77b4"/>
<circle cx="82.8" cy="451.8" r="1.35" fill="#1f77b4"/>
<circle cx="79.3" cy="458.3" r="1.35" fill="#1f77b4"/>
<circle cx="134.7" cy="361.3" r="1.35" fill="#1f77b4"/>
<circle cx="89.5" cy="436.6" r="1.35" fill="#1f77b4"/>
<circle cx="100.4" cy="416.8" r="1.35" fill="#1f77b4"/>
<circle cx="128.6" cy="367.7" r="1.35" fill="#1f77b4"/>
<circle cx="63.5" cy="491.4" r="1.35" fill="#1f77b4"/>
<circle cx="79.8" cy="455.6" r="1.35" fill="#1f77b4"/>
<circle cx="80.4" cy="455.6" r="1.35" fill="#1f77b4"/>
<circle cx="98.7" cy="418.3" r="1.35" fill="#1f77b4"/>
<circle cx="104.7" cy="410.7" r="1.35" fill="#1f77b4"/>
<circle cx="118.5" cy="385.3" r="1.35" fill="#1f77b4"/>
<circle cx="124.0" cy="373.3" r="1.35" fill="#1f77b4"/>
<circle cx="85.2" cy="447.8" r="1.35" fill="#1f77b4"/>
<circle cx="105.5" cy="404.3" r="1.35" fill="#1f77b4"/>
<circle cx="130.2" cy="362.9" r="1.35" fill="#1f77b4"/>
<circle cx="65.1" cy="488.0" r="1.35" fill="#1f77b4"/>
<circle cx="129.8" cy="364.9" r="1.35" fill="#1f77b4"/>
<circle cx="104.9" cy="408.4" r="1.35" fill="#1f77b4"/>
<circle cx="138.9" cy="354.5" r="1.35" fill="#1f77b4"/>
<circle cx="92.2" cy="430.5" r="1.35" fill="#1f77b4"/>
<circle cx="109.4" cy="398.3" r="1.35" fill="#1f77b4"/>
<circle cx="143.2" cy="343.7" r="1.35" fill="#1f77b4"/>
<circle cx="78.3" cy="460.4" r="1.35" fill="#1f77b4"/>
<circle cx="116.7" cy="388.8" r="1.35" fill="#1f77b4"/>
<circle cx="147.3" cy="339.1" r="1.35" fill="#1f77b4"/>
<circle cx="100.9" cy="417.6" r="1.35" fill="#1f77b4"/>
<circle cx="146.1" cy="347.6" r="1.35" fill="#1f77b4"/>
<circle cx="124.5" cy="371.3" r="1.35" fill="#1f77b4"/>
<circle cx="76.3" cy="463.7" r="1.35" fill="#1f77b4"/>
<circle cx="121.9" cy="381.2" r="1.35" fill="#1f77b4"/>
<circle cx="136.5" cy="356.6" r="1.35" fill="#1f77b4"/>
<circle cx="92.6" cy="431.6" r="1.35" fill="#1f77b4"/>
<circle cx="75.4" cy="466.4" r="1.35" fill="#1f77b4"/>
<circle cx="145.2" cy="349.3" r="1.35" fill="#1f77b4"/>
<circle cx="113.1" cy="391.4" r="1.35" fill="#1f77b4"/>
<circle cx="113.0" cy="394.5" r="1.35" fill="#1f77b4"/>
<circle cx="135.6" cy="357.6" r="1.35" fill="#1f77b4"/>
<circle cx="88.1" cy="442.8" r="1.35" fill="#1f77b4"/>
<circle cx="86.1" cy="444.5" r="1.35" fill="#1f77b4"/>
<circle cx="82.0" cy="454.3" r="1.35" fill="#1f77b4"/>
<circle cx="103.8" cy="408.6" r="1.35" fill="#1f77b4"/>
<circle cx="72.7" cy="471.7" r="1.35" fill="#1f77b4"/>
<circle cx="140.4" cy="352.8" r="1.35" fill="#1f77b4"/>
<circle cx="85.2" cy="446.1" r="1.35" fill="#1f77b4"/>
<circle cx="105.8" cy="406.0" r="1.35" fill="#1f77b4"/>
<circle cx="98.7" cy="419.8" r="1.35" fill="#1f77b4"/>
<circle cx="102.0" cy="412.8" r="1.35" fill="#1f77b4"/>
<circle cx="86.8" cy="443.1" r="1.35" fill="#1f77b4"/>
<circle cx="119.1" cy="383.7" r="1.35" fill="#1f77b4"/>
<circle cx="135.8" cy="359.1" r="1.35" fill="#1f77b4"/>
<circle cx="116.3" cy="383.4" r="1.35" fill="#1f77b4"/>
<circle cx="147.8" cy="343.0" r="1.35" fill="#1f77b4"/>
<circle cx="113.6" cy="392.3" r="1.35" fill="#1f77b4"/>
<circle cx="78.9" cy="458.5" r="1.35" fill="#1f77b4"/>
<circle cx="104.7" cy="409.1" r="1.35" fill="#1f77b4"/>
<circle cx="140.8" cy="352.0" r="1.35" fill="#1f77b4"/>
<circle cx="139.2" cy="350.2" r="1.35" fill="#1f77b4"/>
<circle cx="142.3" cy="345.3" r="1.35" fill="#1f77b4"/>
<circle cx="104.9" cy="406.7" r="1.35" fill="#1f77b4"/>
<circle cx="78.2" cy="461.6" r="1.35" fill="#1f77b4"/>
<circle cx="68.5" cy="480.7" r="1.35" fill="#1f77b4"/>
<circle cx="78.0" cy="460.9" r="1.35" fill="#1f77b4"/>
<circle cx="136.3" cy="354.4" r="1.35" fill="#1f77b4"/>
<circle cx="80.5" cy="456.4" r="1.35" fill="#1f77b4"/>
<circle cx="114.6" cy="392.8" r="1.35" fill="#1f77b4"/>
<circle cx="113.2" cy="393.1" r="1.35" fill="#1f77b4"/>
<circle cx="131.7" cy="364.6" r="1.35" fill="#1f77b4"/>
<circle cx="130.1" cy="367.1" r="1.35" fill="#1f77b4"/>
<circle cx="106.9" cy="404.4" r="1.35" fill="#1f77b4"/>
<circle cx="144.5" cy="343.4" r="1.35" fill="#1f77b4"/>
<circle cx="111.6" cy="395.4" r="1.35" fill="#1f77b4"/>
<circle cx="135.3" cy="353.7" r="1.35" fill="#1f77b4"/>
<circle cx="64.3" cy="489.8" r="1.35" fill="#1f77b4"/>
<circle cx="76.8" cy="462.9" r="1.35" fill="#1f77b4"/>
<circle cx="72.3" cy="472.7" r="1.35" fill="#1f77b4"/>
<circle cx="116.2" cy="389.7" r="1.35" fill="#1f77b4"/>
<circle cx="83.9" cy="449.2" r="1.35" fill="#1f77b4"/>
<circle cx="99.4" cy="419.7" r="1.35" fill="#1f77b4"/>
<circle cx="74.1" cy="469.1" r="1.35" fill="#1f77b4"/>
<circle cx="69.9" cy="478.1" r="1.35" fill="#1f77b4"/>
<circle cx="115.3" cy="386.2" r="1.35" fill="#1f77b4"/>
<circle cx="137.4" cy="355.8" r="1.35" fill="#1f77b4"/>
<circle cx="118.7" cy="386.7" r="1.35" fill="#1f77b4"/>
<circle cx="66.9" cy="484.2" r="1.35" fill="#1f77b4"/>
<circle cx="93.2" cy="429.8" r="1.35" fill="#1f77b4"/>
<circle cx="66.7" cy="484.7" r="1.35" fill="#1f77b4"/>
<circle cx="88.0" cy="439.7" r="1.35" fill="#1f77b4"/>
<circle cx="87.4" cy="442.7" r="1.35" fill="#1f77b4"/>
<circle cx="75.3" cy="467.0" r="1.35" fill="#1f77b4"/>
<circle cx="75.5" cy="465.0" r="1.35" fill="#1f77b4"/>
<circle cx="72.9" cy="471.4" r="1.35" fill="#1f77b4"/>
<circle cx="146.5" cy="342.9" r="1.35" fill="#1f77b4"/>
<circle cx="103.9" cy="408.9" r="1.35" fill="#1f77b4"/>
<circle cx="64.2" cy="489.8" r="1.35" fill="#1f77b4"/>
<circle cx="99.4" cy="418.3" r="1.35" fill="#1f77b4"/>
<circle cx="135.4" cy="357.7" r="1.35" fill="#1f77b4"/>
<circle cx="67.1" cy="483.4" r="1.35" fill="#1f77b4"/>
<circle cx="69.6" cy="478.5" r="1.35" fill="#1f77b4"/>
<circle cx="140.8" cy="350.2" r="1.35" fill="#1f77b4"/>
<circle cx="110.7" cy="395.9" r="1.35" fill="#1f77b4"/>
<circle cx="83.9" cy="449.2" r="1.35" fill="#1f77b4"/>
<circle cx="136.7" cy="360.5" r="1.35" fill="#1f77b4"/>
<circle cx="91.7" cy="432.8" r="1.35" fill="#1f77b4"/>
<circle cx="65.1" cy="487.7" r="1.35" fill="#1f77b4"/>
<circle cx="116.2" cy="387.0" r="1.35" fill="#1f77b4"/>
<circle cx="81.4" cy="455.3" r="1.35" fill="#1f77b4"/>
<circle cx="71.6" cy="473.9" r="1.35" fill="#1f77b4"/>
<circle cx="86.9" cy="440.9" r="1.35" fill="#1f77b4"/>
<circle cx="82.5" cy="452.9" r="1.35" fill="#1f77b4"/>
<circle cx="118.6" cy="390.1" r="1.35" fill="#1f77b4"/>
<circle cx="129.7" cy="365.3" r="1.35" fill="#1f77b4"/>
<circle cx="77.6" cy="461.7" r="1.35" fill="#1f77b4"/>
<circle cx="103.5" cy="409.2" r="1.35" fill="#1f77b4"/>
<circle cx="129.9" cy="361.7" r="1.35" fill="#1f77b4"/>
<circle cx="130.9" cy="362.6" r="1.35" fill="#1f77b4"/>
<circle cx="105.0" cy="406.8" r="1.35" fill="#1f77b4"/>
<circle cx="103.3" cy="410.4" r="1.35" fill="#1f77b4"/>
<circle cx="127.7" cy="367.5" r="1.35" fill="#1f77b4"/>
<circle cx="138.5" cy="353.4" r="1.35" fill="#1f77b4"/>
<circle cx="64.9" cy="488.5" r="1.35" fill="#1f77b4"/>
<circle cx="122.8" cy="374.2" r="1.35" fill="#1f77b4"/>
<circle cx="120.9" cy="378.3" r="1.35" fill="#1f77b4"/>
<circle cx="127.7" cy="369.0" r="1.35" fill="#1f77b4"/>
<circle cx="128.0" cy="364.2" r="1.35" fill="#1f77b4"/>
<circle cx="82.3" cy="452.7" r="1.35" fill="#1f77b4"/>
<circle cx="102.1" cy="413.5" r="1.35" fill="#1f77b4"/>
<circle cx="82.4" cy="451.7" r="1.35" fill="#1f77b4"/>
<circle cx="118.8" cy="387.8" r="1.35" fill="#1f77b4"/>
<circle cx="76.2" cy="464.8" r="1.35" fill="#1f77b4"/>
<circle cx="77.6" cy="461.1" r="1.35" fill="#1f77b4"/>
<circle cx="140.0" cy="348.7" r="1.35" fill="#1f77b4"/>
<circle cx="130.6" cy="366.8" r="1.35" fill="#1f77b4"/>
<circle cx="140.0" cy="354.3" r="1.35" fill="#1f77b4"/>
<circle cx="75.8" cy="466.0" r="1.35" fill="#1f77b4"/>
<circle cx="65.0" cy="488.2" r="1.35" fill="#1f77b4"/>
<circle cx="137.6" cy="354.5" r="1.35" fill="#1f77b4"/>
<circle cx="116.0" cy="391.8" r="1.35" fill="#1f77b4"/>
<circle cx="122.3" cy="376.0" r="1.35" fill="#1f77b4"/>
<circle cx="123.9" cy="374.0" r="1.35" fill="#1f77b4"/>
<circle cx="109.5" cy="399.7" r="1.35" fill="#1f77b4"/>
<circle cx="145.3" cy="348.4" r="1.35" fill="#1f77b4"/>
<circle cx="142.4" cy="349.5" r="1.35" fill="#1f77b4"/>
<circle cx="118.6" cy="387.8" r="1.35" fill="#1f77b4"/>
<circle cx="128.3" cy="366.2" r="1.35" fill="#1f77b4"/>
<circle cx="125.9" cy="403.9" r="1.35" fill="#1f77b4"/>
<circle cx="125.9" cy="385.6" r="1.35" fill="#1f77b4"/>
<circle cx="133.9" cy="376.7" r="1.35" fill="#1f77b4"/>
<circle cx="84.8" cy="450.7" r="1.35" fill="#1f77b4"/>
<circle cx="114.3" cy="399.3" r="1.35" fill="#1f77b4"/>
<circle cx="137.9" cy="364.3" r="1.35" fill="#1f77b4"/>
</g>
<rect x="50.5" y="302.2" width="261.60" height="200.10" fill="none" stroke="#707070" stroke-width="1.35"/>
<line x1="47.9" y1="475.60" x2="50.5" y2="475.60" stroke="#707070" stroke-width="1.1"/>
<text x="45.0" y="479.9" font-size="10" text-anchor="end" textLength="18.3" lengthAdjust="spacingAndGlyphs" fill="#222">200</text>
<line x1="47.9" y1="443.80" x2="50.5" y2="443.80" stroke="#707070" stroke-width="1.1"/>
<text x="45.0" y="448.1" font-size="10" text-anchor="end" textLength="18.3" lengthAdjust="spacingAndGlyphs" fill="#222">400</text>
<line x1="47.9" y1="412.00" x2="50.5" y2="412.00" stroke="#707070" stroke-width="1.1"/>
<text x="45.0" y="416.3" font-size="10" text-anchor="end" textLength="18.3" lengthAdjust="spacingAndGlyphs" fill="#222">600</text>
<line x1="47.9" y1="380.20" x2="50.5" y2="380.20" stroke="#707070" stroke-width="1.1"/>
<text x="45.0" y="384.5" font-size="10" text-anchor="end" textLength="18.3" lengthAdjust="spacingAndGlyphs" fill="#222">800</text>
<line x1="47.9" y1="348.40" x2="50.5" y2="348.40" stroke="#707070" stroke-width="1.1"/>
<text x="45.0" y="352.7" font-size="10" text-anchor="end" textLength="24.4" lengthAdjust="spacingAndGlyphs" fill="#222">1000</text>
<line x1="47.9" y1="316.60" x2="50.5" y2="316.60" stroke="#707070" stroke-width="1.1"/>
<text x="45.0" y="320.9" font-size="10" text-anchor="end" textLength="24.4" lengthAdjust="spacingAndGlyphs" fill="#222">1200</text>
<line x1="56.10" y1="502.3" x2="56.10" y2="504.90000000000003" stroke="#707070" stroke-width="1.1"/>
<text x="56.1" y="514.9" font-size="10" text-anchor="middle" textLength="6.1" lengthAdjust="spacingAndGlyphs" fill="#222">0</text>
<line x1="92.47" y1="502.3" x2="92.47" y2="504.90000000000003" stroke="#707070" stroke-width="1.1"/>
<text x="92.5" y="514.9" font-size="10" text-anchor="middle" textLength="12.2" lengthAdjust="spacingAndGlyphs" fill="#222">10</text>
<line x1="128.84" y1="502.3" x2="128.84" y2="504.90000000000003" stroke="#707070" stroke-width="1.1"/>
<text x="128.8" y="514.9" font-size="10" text-anchor="middle" textLength="12.2" lengthAdjust="spacingAndGlyphs" fill="#222">20</text>
<line x1="165.21" y1="502.3" x2="165.21" y2="504.90000000000003" stroke="#707070" stroke-width="1.1"/>
<text x="165.2" y="514.9" font-size="10" text-anchor="middle" textLength="12.2" lengthAdjust="spacingAndGlyphs" fill="#222">30</text>
<line x1="201.58" y1="502.3" x2="201.58" y2="504.90000000000003" stroke="#707070" stroke-width="1.1"/>
<text x="201.6" y="514.9" font-size="10" text-anchor="middle" textLength="12.2" lengthAdjust="spacingAndGlyphs" fill="#222">40</text>
<line x1="237.95" y1="502.3" x2="237.95" y2="504.90000000000003" stroke="#707070" stroke-width="1.1"/>
<text x="237.9" y="514.9" font-size="10" text-anchor="middle" textLength="12.2" lengthAdjust="spacingAndGlyphs" fill="#222">50</text>
<line x1="274.32" y1="502.3" x2="274.32" y2="504.90000000000003" stroke="#707070" stroke-width="1.1"/>
<text x="274.3" y="514.9" font-size="10" text-anchor="middle" textLength="12.2" lengthAdjust="spacingAndGlyphs" fill="#222">60</text>
<line x1="310.69" y1="502.3" x2="310.69" y2="504.90000000000003" stroke="#707070" stroke-width="1.1"/>
<text x="310.7" y="514.9" font-size="10" text-anchor="middle" textLength="12.2" lengthAdjust="spacingAndGlyphs" fill="#222">70</text>
<text x="181.2" y="298.0" font-size="10.2" text-anchor="middle" textLength="115.4" lengthAdjust="spacingAndGlyphs" fill="#222">k-mean:q-k (Oct 2022)</text>
<text x="180.8" y="527.6" font-size="10.2" text-anchor="middle" textLength="91.8" lengthAdjust="spacingAndGlyphs" fill="#222">Density (veh./Km)</text>
<text x="15.0" y="402.4" font-size="10.2" text-anchor="middle" textLength="74.1" lengthAdjust="spacingAndGlyphs" transform="rotate(-90 15.0 402.4)" fill="#222">Flow (veh./Hr.)</text>
<g clip-path="url(#cBR)">
<circle cx="473.6" cy="391.3" r="1.35" fill="#fc00f5"/>
<circle cx="487.9" cy="415.3" r="1.35" fill="#00aaff"/>
<circle cx="464.1" cy="381.6" r="1.35" fill="#00eaff"/>
<circle cx="518.4" cy="448.6" r="1.35" fill="#00ff92"/>
<circle cx="495.6" cy="430.0" r="1.35" fill="#00fff6"/>
<circle cx="605.5" cy="492.9" r="1.35" fill="#0016ff"/>
<circle cx="496.9" cy="424.1" r="1.35" fill="#0028ff"/>
<circle cx="459.5" cy="373.3" r="1.35" fill="#0069ff"/>
<circle cx="499.5" cy="429.1" r="1.35" fill="#00c7ff"/>
<circle cx="503.1" cy="435.1" r="1.35" fill="#00c7ff"/>
<circle cx="462.5" cy="377.6" r="1.35" fill="#00ff92"/>
<circle cx="457.9" cy="373.5" r="1.35" fill="#e200ff"/>
<circle cx="496.9" cy="428.0" r="1.35" fill="#00ffd3"/>
<circle cx="501.4" cy="434.5" r="1.35" fill="#00eaff"/>
<circle cx="462.5" cy="378.5" r="1.35" fill="#6000ff"/>
<circle cx="495.8" cy="431.4" r="1.35" fill="#ff00db"/>
<circle cx="490.5" cy="423.3" r="1.35" fill="#00ffd3"/>
<circle cx="477.8" cy="407.4" r="1.35" fill="#ff00db"/>
<circle cx="494.4" cy="420.1" r="1.35" fill="#0069ff"/>
<circle cx="474.6" cy="403.7" r="1.35" fill="#ff00db"/>
<circle cx="475.5" cy="400.2" r="1.35" fill="#00aaff"/>
<circle cx="489.6" cy="422.2" r="1.35" fill="#fc00f5"/>
<circle cx="485.0" cy="410.5" r="1.35" fill="#00c7ff"/>
<circle cx="473.7" cy="390.9" r="1.35" fill="#e200ff"/>
<circle cx="498.6" cy="424.0" r="1.35" fill="#1f00ff"/>
<circle cx="459.2" cy="375.0" r="1.35" fill="#ff00b7"/>
<circle cx="495.2" cy="420.8" r="1.35" fill="#00ff92"/>
<circle cx="456.1" cy="363.6" r="1.35" fill="#ff009a"/>
<circle cx="462.7" cy="441.7" r="1.35" fill="#ff00cf"/>
<circle cx="486.8" cy="415.3" r="1.35" fill="#00c7ff"/>
<circle cx="462.6" cy="375.3" r="1.35" fill="#00eaff"/>
<circle cx="457.9" cy="373.4" r="1.35" fill="#ff00b7"/>
<circle cx="486.4" cy="413.9" r="1.35" fill="#00ffaf"/>
<circle cx="485.3" cy="407.8" r="1.35" fill="#e200ff"/>
<circle cx="492.3" cy="419.2" r="1.35" fill="#0028ff"/>
<circle cx="473.8" cy="394.3" r="1.35" fill="#00eaff"/>
<circle cx="483.0" cy="404.7" r="1.35" fill="#00eaff"/>
<circle cx="472.4" cy="396.0" r="1.35" fill="#00aaff"/>
<circle cx="484.7" cy="412.8" r="1.35" fill="#00ff92"/>
<circle cx="458.2" cy="376.2" r="1.35" fill="#ff009a"/>
<circle cx="455.5" cy="368.4" r="1.35" fill="#ff00db"/>
<circle cx="458.3" cy="371.1" r="1.35" fill="#bf00ff"/>
<circle cx="453.8" cy="366.5" r="1.35" fill="#ff00db"/>
<circle cx="494.7" cy="423.5" r="1.35" fill="#00ffaf"/>
<circle cx="510.2" cy="438.8" r="1.35" fill="#00ffaf"/>
<circle cx="462.5" cy="374.5" r="1.35" fill="#00fff6"/>
<circle cx="460.9" cy="374.3" r="1.35" fill="#ff00db"/>
<circle cx="509.4" cy="440.8" r="1.35" fill="#00ff92"/>
<circle cx="500.7" cy="429.0" r="1.35" fill="#00c7ff"/>
<circle cx="457.0" cy="365.5" r="1.35" fill="#ff009a"/>
<circle cx="493.8" cy="422.4" r="1.35" fill="#0069ff"/>
<circle cx="496.7" cy="429.5" r="1.35" fill="#00eaff"/>
<circle cx="485.2" cy="413.6" r="1.35" fill="#00eaff"/>
<circle cx="466.2" cy="382.3" r="1.35" fill="#00aaff"/>
<circle cx="484.6" cy="414.9" r="1.35" fill="#00aaff"/>
<circle cx="488.5" cy="413.7" r="1.35" fill="#1f00ff"/>
<circle cx="473.4" cy="390.1" r="1.35" fill="#00ffaf"/>
<circle cx="460.4" cy="374.5" r="1.35" fill="#a100ff"/>
<circle cx="500.6" cy="428.5" r="1.35" fill="#00c7ff"/>
<circle cx="484.3" cy="416.7" r="1.35" fill="#fc00f5"/>
<circle cx="494.0" cy="426.3" r="1.35" fill="#00ff92"/>
<circle cx="470.6" cy="387.3" r="1.35" fill="#fc00f5"/>
<circle cx="474.7" cy="392.9" r="1.35" fill="#00aaff"/>
<circle cx="496.4" cy="427.1" r="1.35" fill="#00ffaf"/>
<circle cx="497.4" cy="425.9" r="1.35" fill="#00aaff"/>
<circle cx="510.8" cy="444.2" r="1.35" fill="#00ffaf"/>
<circle cx="455.5" cy="365.2" r="1.35" fill="#fc00f5"/>
<circle cx="451.2" cy="357.5" r="1.35" fill="#0069ff"/>
<circle cx="499.2" cy="428.8" r="1.35" fill="#00ffd3"/>
<circle cx="494.1" cy="428.1" r="1.35" fill="#fc00f5"/>
<circle cx="462.0" cy="374.2" r="1.35" fill="#00c7ff"/>
<circle cx="487.2" cy="412.6" r="1.35" fill="#0028ff"/>
<circle cx="499.5" cy="429.4" r="1.35" fill="#00fff6"/>
<circle cx="458.3" cy="382.4" r="1.35" fill="#00ffaf"/>
<circle cx="462.0" cy="367.3" r="1.35" fill="#fc00f5"/>
<circle cx="474.0" cy="398.6" r="1.35" fill="#1f00ff"/>
<circle cx="456.5" cy="369.8" r="1.35" fill="#ff00db"/>
<circle cx="517.0" cy="448.1" r="1.35" fill="#00c7ff"/>
<circle cx="506.6" cy="440.5" r="1.35" fill="#00ff92"/>
<circle cx="483.1" cy="407.9" r="1.35" fill="#00c7ff"/>
<circle cx="458.5" cy="362.6" r="1.35" fill="#ff00db"/>
<circle cx="499.7" cy="429.5" r="1.35" fill="#00ffaf"/>
<circle cx="486.2" cy="410.4" r="1.35" fill="#fc00f5"/>
<circle cx="515.9" cy="445.9" r="1.35" fill="#00fff6"/>
<circle cx="487.8" cy="418.7" r="1.35" fill="#00ffd3"/>
<circle cx="459.4" cy="373.6" r="1.35" fill="#fc00f5"/>
<circle cx="548.7" cy="468.4" r="1.35" fill="#ad00ff"/>
<circle cx="498.9" cy="429.1" r="1.35" fill="#00ffd3"/>
<circle cx="517.5" cy="444.5" r="1.35" fill="#00aaff"/>
<circle cx="497.4" cy="433.9" r="1.35" fill="#ff009a"/>
<circle cx="462.4" cy="381.1" r="1.35" fill="#fc00f5"/>
<circle cx="473.2" cy="390.1" r="1.35" fill="#00eaff"/>
<circle cx="492.5" cy="419.2" r="1.35" fill="#0028ff"/>
<circle cx="484.5" cy="411.4" r="1.35" fill="#00aaff"/>
<circle cx="465.0" cy="382.5" r="1.35" fill="#00aaff"/>
<circle cx="485.9" cy="408.8" r="1.35" fill="#ff00db"/>
<circle cx="476.8" cy="399.9" r="1.35" fill="#00c7ff"/>
<circle cx="501.1" cy="433.3" r="1.35" fill="#00c7ff"/>
<circle cx="502.6" cy="432.9" r="1.35" fill="#00ff92"/>
<circle cx="517.5" cy="448.4" r="1.35" fill="#00ffd3"/>
<circle cx="453.7" cy="361.6" r="1.35" fill="#ff009a"/>
<circle cx="477.0" cy="408.5" r="1.35" fill="#fc00f5"/>
<circle cx="500.1" cy="430.7" r="1.35" fill="#00aaff"/>
<circle cx="498.6" cy="434.9" r="1.35" fill="#fc00f5"/>
<circle cx="518.5" cy="451.5" r="1.35" fill="#ff00b7"/>
<circle cx="477.8" cy="400.6" r="1.35" fill="#00ffd3"/>
<circle cx="478.7" cy="397.6" r="1.35" fill="#00fff6"/>
<circle cx="463.1" cy="377.3" r="1.35" fill="#00eaff"/>
<circle cx="509.5" cy="438.1" r="1.35" fill="#00c7ff"/>
<circle cx="477.8" cy="401.8" r="1.35" fill="#00ff92"/>
<circle cx="454.3" cy="362.8" r="1.35" fill="#a100ff"/>
<circle cx="461.3" cy="371.7" r="1.35" fill="#00ffd3"/>
<circle cx="464.5" cy="378.4" r="1.35" fill="#fc00f5"/>
<circle cx="499.8" cy="430.7" r="1.35" fill="#00fff6"/>
<circle cx="504.3" cy="436.9" r="1.35" fill="#00ffd3"/>
<circle cx="463.5" cy="378.3" r="1.35" fill="#bf00ff"/>
<circle cx="482.0" cy="405.2" r="1.35" fill="#0028ff"/>
<circle cx="494.3" cy="423.1" r="1.35" fill="#6000ff"/>
<circle cx="517.8" cy="451.2" r="1.35" fill="#00c7ff"/>
<circle cx="512.7" cy="444.4" r="1.35" fill="#00ffaf"/>
<circle cx="483.2" cy="406.3" r="1.35" fill="#6000ff"/>
<circle cx="458.4" cy="370.9" r="1.35" fill="#e200ff"/>
<circle cx="509.0" cy="443.2" r="1.35" fill="#ff00db"/>
<circle cx="496.9" cy="431.3" r="1.35" fill="#00ffd3"/>
<circle cx="495.0" cy="425.3" r="1.35" fill="#00fff6"/>
<circle cx="468.5" cy="391.8" r="1.35" fill="#00aaff"/>
<circle cx="456.4" cy="365.5" r="1.35" fill="#e200ff"/>
<circle cx="475.8" cy="396.3" r="1.35" fill="#0069ff"/>
<circle cx="470.5" cy="389.1" r="1.35" fill="#00eaff"/>
<circle cx="473.8" cy="396.5" r="1.35" fill="#00aaff"/>
<circle cx="510.0" cy="437.6" r="1.35" fill="#00aaff"/>
<circle cx="481.4" cy="401.0" r="1.35" fill="#00ffaf"/>
<circle cx="496.9" cy="425.7" r="1.35" fill="#00ff92"/>
<circle cx="465.1" cy="388.5" r="1.35" fill="#ff009a"/>
<circle cx="467.4" cy="387.9" r="1.35" fill="#e200ff"/>
<circle cx="462.4" cy="380.8" r="1.35" fill="#ff00b7"/>
<circle cx="500.0" cy="429.9" r="1.35" fill="#00aaff"/>
<circle cx="513.0" cy="444.1" r="1.35" fill="#00ffd3"/>
<circle cx="512.7" cy="444.0" r="1.35" fill="#00c7ff"/>
<circle cx="479.1" cy="403.3" r="1.35" fill="#00c7ff"/>
<circle cx="455.8" cy="378.6" r="1.35" fill="#00ffa3"/>
<circle cx="485.0" cy="411.3" r="1.35" fill="#00aaff"/>
<circle cx="492.9" cy="420.2" r="1.35" fill="#1f00ff"/>
<circle cx="461.8" cy="375.1" r="1.35" fill="#ff009a"/>
<circle cx="489.6" cy="414.7" r="1.35" fill="#00eaff"/>
<path d="M522.3 441.2L525.9 444.8M522.3 444.8L525.9 441.2" stroke="#00ff6e" stroke-width="1.2"/>
<path d="M524.3 441.4L527.9 445.0M524.3 445.0L527.9 441.4" stroke="#7e00ff" stroke-width="1.2"/>
<path d="M471.6 381.0L475.2 384.6M471.6 384.6L475.2 381.0" stroke="#14ff00" stroke-width="1.2"/>
<path d="M491.2 411.2L494.8 414.8M491.2 414.8L494.8 411.2" stroke="#0408ff" stroke-width="1.2"/>
<path d="M476.1 387.0L479.7 390.6M476.1 390.6L479.7 387.0" stroke="#00ff10" stroke-width="1.2"/>
<path d="M480.5 392.1L484.1 395.7M480.5 395.7L484.1 392.1" stroke="#14ff00" stroke-width="1.2"/>
<path d="M503.1 422.1L506.7 425.7M503.1 425.7L506.7 422.1" stroke="#7e00ff" stroke-width="1.2"/>
<path d="M533.8 447.4L537.4 451.0M533.8 451.0L537.4 447.4" stroke="#1f00ff" stroke-width="1.2"/>
<path d="M546.6 451.7L550.2 455.3M546.6 455.3L550.2 451.7" stroke="#00ff92" stroke-width="1.2"/>
<path d="M495.6 416.4L499.2 420.0M495.6 420.0L499.2 416.4" stroke="#1f00ff" stroke-width="1.2"/>
<path d="M480.3 394.8L483.9 398.4M480.3 398.4L483.9 394.8" stroke="#00ff10" stroke-width="1.2"/>
<path d="M538.5 448.8L542.1 452.4M538.5 452.4L542.1 448.8" stroke="#00ff92" stroke-width="1.2"/>
<path d="M492.9 403.8L496.5 407.4M492.9 407.4L496.5 403.8" stroke="#00ff51" stroke-width="1.2"/>
<path d="M514.6 425.1L518.2 428.7M514.6 428.7L518.2 425.1" stroke="#14ff00" stroke-width="1.2"/>
<path d="M508.5 429.1L512.1 432.7M508.5 432.7L512.1 429.1" stroke="#7e00ff" stroke-width="1.2"/>
<path d="M528.6 446.4L532.2 450.0M528.6 450.0L532.2 446.4" stroke="#00ff51" stroke-width="1.2"/>
<path d="M485.1 405.4L488.7 409.0M485.1 409.0L488.7 405.4" stroke="#7e00ff" stroke-width="1.2"/>
<path d="M509.3 424.2L512.9 427.8M509.3 427.8L512.9 424.2" stroke="#00ff6e" stroke-width="1.2"/>
<path d="M481.4 396.4L485.0 400.0M481.4 400.0L485.0 396.4" stroke="#14ff00" stroke-width="1.2"/>
<path d="M472.1 381.8L475.7 385.4M472.1 385.4L475.7 381.8" stroke="#37ff00" stroke-width="1.2"/>
<path d="M523.5 441.7L527.1 445.3M523.5 445.3L527.1 441.7" stroke="#00ff92" stroke-width="1.2"/>
<path d="M536.2 448.0L539.8 451.6M536.2 451.6L539.8 448.0" stroke="#1f00ff" stroke-width="1.2"/>
<path d="M546.2 462.2L549.8 465.8M546.2 465.8L549.8 462.2" stroke="#00ff5c" stroke-width="1.2"/>
<path d="M530.6 447.2L534.2 450.8M530.6 450.8L534.2 447.2" stroke="#00ff51" stroke-width="1.2"/>
<path d="M535.1 444.8L538.7 448.4M535.1 448.4L538.7 444.8" stroke="#00ff6e" stroke-width="1.2"/>
<path d="M464.6 370.9L468.2 374.5M464.6 374.5L468.2 370.9" stroke="#0033ff" stroke-width="1.2"/>
<path d="M528.1 444.9L531.7 448.5M528.1 448.5L531.7 444.9" stroke="#0028ff" stroke-width="1.2"/>
<path d="M515.7 435.7L519.3 439.3M515.7 439.3L519.3 435.7" stroke="#1f00ff" stroke-width="1.2"/>
<path d="M510.6 433.6L514.2 437.2M510.6 437.2L514.2 433.6" stroke="#6000ff" stroke-width="1.2"/>
<path d="M499.6 412.0L503.2 415.6M499.6 415.6L503.2 412.0" stroke="#00ff51" stroke-width="1.2"/>
<path d="M526.3 445.4L529.9 449.0M526.3 449.0L529.9 445.4" stroke="#00ff92" stroke-width="1.2"/>
<path d="M501.8 416.8L505.4 420.4M501.8 420.4L505.4 416.8" stroke="#1f00ff" stroke-width="1.2"/>
<path d="M489.2 407.1L492.8 410.7M489.2 410.7L492.8 407.1" stroke="#0069ff" stroke-width="1.2"/>
<path d="M502.8 415.1L506.4 418.7M502.8 418.7L506.4 415.1" stroke="#00ff6e" stroke-width="1.2"/>
<path d="M502.0 424.1L505.6 427.7M502.0 427.7L505.6 424.1" stroke="#0028ff" stroke-width="1.2"/>
<path d="M515.5 435.0L519.1 438.6M515.5 438.6L519.1 435.0" stroke="#1f00ff" stroke-width="1.2"/>
<path d="M508.9 430.1L512.5 433.7M508.9 433.7L512.5 430.1" stroke="#0028ff" stroke-width="1.2"/>
<path d="M533.4 447.3L537.0 450.9M533.4 450.9L537.0 447.3" stroke="#0408ff" stroke-width="1.2"/>
<path d="M498.7 409.9L502.3 413.5M498.7 413.5L502.3 409.9" stroke="#00ff92" stroke-width="1.2"/>
<path d="M504.2 423.7L507.8 427.3M504.2 427.3L507.8 423.7" stroke="#0028ff" stroke-width="1.2"/>
<path d="M523.6 437.1L527.2 440.7M523.6 440.7L527.2 437.1" stroke="#00ff6e" stroke-width="1.2"/>
<path d="M545.3 451.1L548.9 454.7M545.3 454.7L548.9 451.1" stroke="#14ff00" stroke-width="1.2"/>
<path d="M497.4 416.4L501.0 420.0M497.4 420.0L501.0 416.4" stroke="#0028ff" stroke-width="1.2"/>
<path d="M558.3 460.3L561.9 463.9M558.3 463.9L561.9 460.3" stroke="#00ff51" stroke-width="1.2"/>
<path d="M539.9 452.7L543.5 456.3M539.9 456.3L543.5 452.7" stroke="#0408ff" stroke-width="1.2"/>
<path d="M479.4 391.0L483.0 394.6M479.4 394.6L483.0 391.0" stroke="#00ff10" stroke-width="1.2"/>
<path d="M539.3 453.5L542.9 457.1M539.3 457.1L542.9 453.5" stroke="#0069ff" stroke-width="1.2"/>
<path d="M487.3 405.9L490.9 409.5M487.3 409.5L490.9 405.9" stroke="#1f00ff" stroke-width="1.2"/>
<path d="M520.0 434.1L523.6 437.7M520.0 437.7L523.6 434.1" stroke="#3d00ff" stroke-width="1.2"/>
<path d="M543.8 450.0L547.4 453.6M543.8 453.6L547.4 450.0" stroke="#00ff6e" stroke-width="1.2"/>
<path d="M505.7 419.4L509.3 423.0M505.7 423.0L509.3 419.4" stroke="#00ff6e" stroke-width="1.2"/>
<path d="M508.7 431.0L512.3 434.6M508.7 434.6L512.3 431.0" stroke="#1f00ff" stroke-width="1.2"/>
<path d="M499.0 412.3L502.6 415.9M499.0 415.9L502.6 412.3" stroke="#00ff51" stroke-width="1.2"/>
<path d="M518.6 439.8L522.2 443.4M518.6 443.4L522.2 439.8" stroke="#7e00ff" stroke-width="1.2"/>
<path d="M482.3 395.4L485.9 399.0M482.3 399.0L485.9 395.4" stroke="#37ff00" stroke-width="1.2"/>
<path d="M523.5 443.4L527.1 447.0M523.5 447.0L527.1 443.4" stroke="#00ff6e" stroke-width="1.2"/>
<path d="M532.5 450.5L536.1 454.1M532.5 454.1L536.1 450.5" stroke="#0045ff" stroke-width="1.2"/>
<path d="M475.2 386.8L478.8 390.4M475.2 390.4L478.8 386.8" stroke="#00ff10" stroke-width="1.2"/>
<path d="M509.2 422.3L512.8 425.9M509.2 425.9L512.8 422.3" stroke="#00ff92" stroke-width="1.2"/>
<path d="M537.9 446.6L541.5 450.2M537.9 450.2L541.5 446.6" stroke="#14ff00" stroke-width="1.2"/>
<path d="M520.7 435.0L524.3 438.6M520.7 438.6L524.3 435.0" stroke="#1f00ff" stroke-width="1.2"/>
<path d="M517.7 434.8L521.3 438.4M517.7 438.4L521.3 434.8" stroke="#0408ff" stroke-width="1.2"/>
<path d="M539.9 445.5L543.5 449.1M539.9 449.1L543.5 445.5" stroke="#00ff51" stroke-width="1.2"/>
<path d="M528.6 442.6L532.2 446.2M528.6 446.2L532.2 442.6" stroke="#0045ff" stroke-width="1.2"/>
<path d="M493.2 412.0L496.8 415.6M493.2 415.6L496.8 412.0" stroke="#0045ff" stroke-width="1.2"/>
<path d="M476.1 387.0L479.7 390.6M476.1 390.6L479.7 387.0" stroke="#00ff10" stroke-width="1.2"/>
<path d="M528.8 445.6L532.4 449.2M528.8 449.2L532.4 445.6" stroke="#6000ff" stroke-width="1.2"/>
<path d="M508.8 429.9L512.4 433.5M508.8 433.5L512.4 429.9" stroke="#6000ff" stroke-width="1.2"/>
<path d="M535.5 449.8L539.1 453.4M535.5 453.4L539.1 449.8" stroke="#7e00ff" stroke-width="1.2"/>
<path d="M503.0 423.7L506.6 427.3M503.0 427.3L506.6 423.7" stroke="#0028ff" stroke-width="1.2"/>
<path d="M534.4 443.0L538.0 446.6M534.4 446.6L538.0 443.0" stroke="#00ff6e" stroke-width="1.2"/>
<path d="M516.7 434.9L520.3 438.5M516.7 438.5L520.3 434.9" stroke="#a100ff" stroke-width="1.2"/>
<path d="M559.7 465.9L563.3 469.5M559.7 469.5L563.3 465.9" stroke="#0033ff" stroke-width="1.2"/>
<path d="M502.3 422.7L505.9 426.3M502.3 426.3L505.9 422.7" stroke="#0045ff" stroke-width="1.2"/>
<path d="M491.5 411.1L495.1 414.7M491.5 414.7L495.1 411.1" stroke="#1f00ff" stroke-width="1.2"/>
<path d="M566.3 466.5L569.9 470.1M566.3 470.1L569.9 466.5" stroke="#6000ff" stroke-width="1.2"/>
<path d="M533.2 447.9L536.8 451.5M533.2 451.5L536.8 447.9" stroke="#1f00ff" stroke-width="1.2"/>
<path d="M482.9 397.3L486.5 400.9M482.9 400.9L486.5 397.3" stroke="#37ff00" stroke-width="1.2"/>
<path d="M507.4 424.4L511.0 428.0M507.4 428.0L511.0 424.4" stroke="#1f00ff" stroke-width="1.2"/>
<path d="M486.3 404.5L489.9 408.1M486.3 408.1L489.9 404.5" stroke="#0408ff" stroke-width="1.2"/>
<path d="M539.2 451.0L542.8 454.6M539.2 454.6L542.8 451.0" stroke="#7e00ff" stroke-width="1.2"/>
<path d="M496.8 409.7L500.4 413.3M496.8 413.3L500.4 409.7" stroke="#00ff10" stroke-width="1.2"/>
<path d="M518.9 439.1L522.5 442.7M518.9 442.7L522.5 439.1" stroke="#1f00ff" stroke-width="1.2"/>
<path d="M510.6 435.3L514.2 438.9M510.6 438.9L514.2 435.3" stroke="#0408ff" stroke-width="1.2"/>
<path d="M499.7 414.4L503.3 418.0M499.7 418.0L503.3 414.4" stroke="#6000ff" stroke-width="1.2"/>
<path d="M481.0 393.8L484.6 397.4M481.0 397.4L484.6 393.8" stroke="#37ff00" stroke-width="1.2"/>
<path d="M534.3 442.2L537.9 445.8M534.3 445.8L537.9 442.2" stroke="#00ff51" stroke-width="1.2"/>
<path d="M534.5 448.5L538.1 452.1M534.5 452.1L538.1 448.5" stroke="#1f00ff" stroke-width="1.2"/>
<path d="M513.7 430.3L517.3 433.9M513.7 433.9L517.3 430.3" stroke="#a100ff" stroke-width="1.2"/>
<path d="M489.8 407.8L493.4 411.4M489.8 411.4L493.4 407.8" stroke="#1f00ff" stroke-width="1.2"/>
<path d="M532.4 442.1L536.0 445.7M532.4 445.7L536.0 442.1" stroke="#14ff00" stroke-width="1.2"/>
<path d="M524.3 437.2L527.9 440.8M524.3 440.8L527.9 437.2" stroke="#00ff92" stroke-width="1.2"/>
<path d="M519.4 433.2L523.0 436.8M519.4 436.8L523.0 433.2" stroke="#14ff00" stroke-width="1.2"/>
<path d="M460.5 364.1L464.1 367.7M460.5 367.7L464.1 364.1" stroke="#0057ff" stroke-width="1.2"/>
<path d="M518.5 438.6L522.1 442.2M518.5 442.2L522.1 438.6" stroke="#a100ff" stroke-width="1.2"/>
<path d="M524.7 436.0L528.3 439.6M524.7 439.6L528.3 436.0" stroke="#14ff00" stroke-width="1.2"/>
<path d="M468.6 376.1L472.2 379.7M468.6 379.7L472.2 376.1" stroke="#0045ff" stroke-width="1.2"/>
<path d="M523.6 440.0L527.2 443.6M523.6 443.6L527.2 440.0" stroke="#1f00ff" stroke-width="1.2"/>
<path d="M489.2 406.1L492.8 409.7M489.2 409.7L492.8 406.1" stroke="#0045ff" stroke-width="1.2"/>
<path d="M509.9 420.9L513.5 424.5M509.9 424.5L513.5 420.9" stroke="#00ff92" stroke-width="1.2"/>
<path d="M531.0 445.5L534.6 449.1M531.0 449.1L534.6 445.5" stroke="#7e00ff" stroke-width="1.2"/>
<path d="M518.1 438.1L521.7 441.7M518.1 441.7L521.7 438.1" stroke="#7e00ff" stroke-width="1.2"/>
<path d="M484.6 400.8L488.2 404.4M484.6 404.4L488.2 400.8" stroke="#6000ff" stroke-width="1.2"/>
<path d="M512.6 429.5L516.2 433.1M512.6 433.1L516.2 429.5" stroke="#0028ff" stroke-width="1.2"/>
<path d="M509.0 427.1L512.6 430.7M509.0 430.7L512.6 427.1" stroke="#0045ff" stroke-width="1.2"/>
<path d="M525.9 439.2L529.5 442.8M525.9 442.8L529.5 439.2" stroke="#00ff51" stroke-width="1.2"/>
<path d="M500.5 423.9L504.1 427.5M500.5 427.5L504.1 423.9" stroke="#0028ff" stroke-width="1.2"/>
<path d="M491.7 411.3L495.3 414.9M491.7 414.9L495.3 411.3" stroke="#0028ff" stroke-width="1.2"/>
<path d="M516.4 434.4L520.0 438.0M516.4 438.0L520.0 434.4" stroke="#0069ff" stroke-width="1.2"/>
<path d="M547.1 459.2L550.7 462.8M547.1 462.8L550.7 459.2" stroke="#00ff92" stroke-width="1.2"/>
<path d="M543.7 450.7L547.3 454.3M543.7 454.3L547.3 450.7" stroke="#00ff51" stroke-width="1.2"/>
<path d="M533.1 453.0L536.7 456.6M533.1 456.6L536.7 453.0" stroke="#7e00ff" stroke-width="1.2"/>
<path d="M488.6 409.3L492.2 412.9M488.6 412.9L492.2 409.3" stroke="#3d00ff" stroke-width="1.2"/>
<path d="M473.0 385.1L476.6 388.7M473.0 388.7L476.6 385.1" stroke="#0016ff" stroke-width="1.2"/>
<path d="M519.6 434.2L523.2 437.8M519.6 437.8L523.2 434.2" stroke="#6000ff" stroke-width="1.2"/>
<path d="M535.6 448.7L539.2 452.3M535.6 452.3L539.2 448.7" stroke="#0069ff" stroke-width="1.2"/>
<path d="M522.3 440.9L525.9 444.5M522.3 444.5L525.9 440.9" stroke="#0028ff" stroke-width="1.2"/>
<path d="M543.8 457.0L547.4 460.6M543.8 460.6L547.4 457.0" stroke="#00ff6e" stroke-width="1.2"/>
<path d="M486.9 398.0L490.5 401.6M486.9 401.6L490.5 398.0" stroke="#7e00ff" stroke-width="1.2"/>
<path d="M513.2 433.0L516.8 436.6M513.2 436.6L516.8 433.0" stroke="#6000ff" stroke-width="1.2"/>
<path d="M532.6 445.6L536.2 449.2M532.6 449.2L536.2 445.6" stroke="#a100ff" stroke-width="1.2"/>
<path d="M478.7 390.8L482.3 394.4M478.7 394.4L482.3 390.8" stroke="#14ff00" stroke-width="1.2"/>
<path d="M517.3 437.4L520.9 441.0M517.3 441.0L520.9 437.4" stroke="#6000ff" stroke-width="1.2"/>
<path d="M501.1 425.5L504.7 429.1M501.1 429.1L504.7 425.5" stroke="#6000ff" stroke-width="1.2"/>
<path d="M504.2 424.7L507.8 428.3M504.2 428.3L507.8 424.7" stroke="#0069ff" stroke-width="1.2"/>
<path d="M485.5 402.3L489.1 405.9M485.5 405.9L489.1 402.3" stroke="#0069ff" stroke-width="1.2"/>
<path d="M539.2 444.8L542.8 448.4M539.2 448.4L542.8 444.8" stroke="#14ff00" stroke-width="1.2"/>
<path d="M507.7 429.7L511.3 433.3M507.7 433.3L511.3 429.7" stroke="#3d00ff" stroke-width="1.2"/>
<path d="M480.2 394.3L483.8 397.9M480.2 397.9L483.8 394.3" stroke="#00ff10" stroke-width="1.2"/>
<path d="M542.4 453.4L546.0 457.0M542.4 457.0L546.0 453.4" stroke="#0045ff" stroke-width="1.2"/>
<path d="M491.3 409.6L494.9 413.2M491.3 413.2L494.9 409.6" stroke="#1f00ff" stroke-width="1.2"/>
<path d="M500.6 421.3L504.2 424.9M500.6 424.9L504.2 421.3" stroke="#a100ff" stroke-width="1.2"/>
<path d="M509.9 425.1L513.5 428.7M509.9 428.7L513.5 425.1" stroke="#14ff00" stroke-width="1.2"/>
<path d="M539.7 453.2L543.3 456.8M539.7 456.8L543.3 453.2" stroke="#3d00ff" stroke-width="1.2"/>
<path d="M510.8 432.6L514.4 436.2M510.8 436.2L514.4 432.6" stroke="#6000ff" stroke-width="1.2"/>
<path d="M537.8 452.3L541.4 455.9M537.8 455.9L541.4 452.3" stroke="#a100ff" stroke-width="1.2"/>
<path d="M542.0 447.9L545.6 451.5M542.0 451.5L545.6 447.9" stroke="#00ff2d" stroke-width="1.2"/>
<path d="M513.5 434.6L517.1 438.2M513.5 438.2L517.1 434.6" stroke="#0045ff" stroke-width="1.2"/>
<path d="M476.2 388.4L479.8 392.0M476.2 392.0L479.8 388.4" stroke="#14ff00" stroke-width="1.2"/>
<path d="M522.7 441.5L526.3 445.1M522.7 445.1L526.3 441.5" stroke="#6000ff" stroke-width="1.2"/>
<path d="M484.6 400.0L488.2 403.6M484.6 403.6L488.2 400.0" stroke="#0028ff" stroke-width="1.2"/>
<circle cx="386.6" cy="323.5" r="1.3" fill="#1f77b4"/>
<circle cx="380.2" cy="321.0" r="1.3" fill="#1f77b4"/>
<circle cx="377.3" cy="320.8" r="1.3" fill="#1f77b4"/>
<circle cx="385.4" cy="322.0" r="1.3" fill="#1f77b4"/>
<circle cx="432.5" cy="340.5" r="1.3" fill="#1f77b4"/>
<circle cx="424.0" cy="343.7" r="1.3" fill="#1f77b4"/>
<circle cx="386.6" cy="322.9" r="1.3" fill="#1f77b4"/>
<circle cx="396.9" cy="329.4" r="1.3" fill="#1f77b4"/>
<circle cx="393.3" cy="319.5" r="1.3" fill="#1f77b4"/>
<circle cx="450.4" cy="368.3" r="1.3" fill="#1f77b4"/>
<circle cx="382.8" cy="322.8" r="1.3" fill="#1f77b4"/>
<circle cx="405.9" cy="327.4" r="1.3" fill="#1f77b4"/>
<circle cx="380.8" cy="322.3" r="1.3" fill="#1f77b4"/>
<circle cx="407.6" cy="333.0" r="1.3" fill="#1f77b4"/>
<circle cx="432.8" cy="346.0" r="1.3" fill="#1f77b4"/>
<circle cx="379.5" cy="319.5" r="1.3" fill="#1f77b4"/>
<circle cx="375.2" cy="323.6" r="1.3" fill="#1f77b4"/>
<circle cx="403.6" cy="330.2" r="1.3" fill="#1f77b4"/>
<circle cx="380.2" cy="321.3" r="1.3" fill="#1f77b4"/>
<circle cx="429.2" cy="348.9" r="1.3" fill="#1f77b4"/>
<circle cx="395.6" cy="325.5" r="1.3" fill="#1f77b4"/>
<circle cx="405.7" cy="332.8" r="1.3" fill="#1f77b4"/>
<circle cx="441.1" cy="349.5" r="1.3" fill="#1f77b4"/>
<circle cx="381.1" cy="318.0" r="1.3" fill="#1f77b4"/>
<circle cx="448.3" cy="356.9" r="1.3" fill="#1f77b4"/>
<circle cx="440.5" cy="356.3" r="1.3" fill="#1f77b4"/>
<circle cx="425.1" cy="338.0" r="1.3" fill="#1f77b4"/>
<circle cx="413.1" cy="341.9" r="1.3" fill="#1f77b4"/>
<circle cx="371.2" cy="320.6" r="1.3" fill="#1f77b4"/>
<circle cx="399.8" cy="320.8" r="1.3" fill="#1f77b4"/>
<circle cx="382.3" cy="321.6" r="1.3" fill="#1f77b4"/>
<circle cx="436.7" cy="338.6" r="1.3" fill="#1f77b4"/>
<circle cx="367.6" cy="316.4" r="1.3" fill="#1f77b4"/>
<circle cx="434.5" cy="344.3" r="1.3" fill="#1f77b4"/>
<circle cx="395.6" cy="331.2" r="1.3" fill="#1f77b4"/>
<circle cx="366.7" cy="311.7" r="1.3" fill="#1f77b4"/>
<circle cx="416.4" cy="336.5" r="1.3" fill="#1f77b4"/>
<circle cx="441.3" cy="347.9" r="1.3" fill="#1f77b4"/>
<circle cx="402.5" cy="327.2" r="1.3" fill="#1f77b4"/>
<circle cx="390.9" cy="322.5" r="1.3" fill="#1f77b4"/>
<circle cx="418.0" cy="334.5" r="1.3" fill="#1f77b4"/>
<circle cx="378.4" cy="320.3" r="1.3" fill="#1f77b4"/>
<circle cx="432.7" cy="343.0" r="1.3" fill="#1f77b4"/>
<circle cx="446.3" cy="359.7" r="1.3" fill="#1f77b4"/>
<circle cx="390.6" cy="332.9" r="1.3" fill="#1f77b4"/>
<circle cx="425.3" cy="337.1" r="1.3" fill="#1f77b4"/>
<circle cx="367.0" cy="307.5" r="1.3" fill="#1f77b4"/>
<circle cx="393.9" cy="321.3" r="1.3" fill="#1f77b4"/>
<circle cx="440.2" cy="338.0" r="1.3" fill="#1f77b4"/>
<circle cx="403.1" cy="327.1" r="1.3" fill="#1f77b4"/>
<circle cx="398.6" cy="331.7" r="1.3" fill="#1f77b4"/>
<circle cx="397.3" cy="331.3" r="1.3" fill="#1f77b4"/>
<circle cx="377.9" cy="317.0" r="1.3" fill="#1f77b4"/>
<circle cx="446.7" cy="354.7" r="1.3" fill="#1f77b4"/>
<circle cx="412.3" cy="334.1" r="1.3" fill="#1f77b4"/>
<circle cx="375.8" cy="316.3" r="1.3" fill="#1f77b4"/>
<circle cx="403.4" cy="333.4" r="1.3" fill="#1f77b4"/>
<circle cx="436.7" cy="343.6" r="1.3" fill="#1f77b4"/>
<circle cx="443.9" cy="354.8" r="1.3" fill="#1f77b4"/>
<circle cx="402.9" cy="328.4" r="1.3" fill="#1f77b4"/>
<circle cx="366.8" cy="310.6" r="1.3" fill="#1f77b4"/>
<circle cx="407.1" cy="331.4" r="1.3" fill="#1f77b4"/>
<circle cx="396.8" cy="320.8" r="1.3" fill="#1f77b4"/>
<circle cx="378.9" cy="315.1" r="1.3" fill="#1f77b4"/>
<circle cx="419.9" cy="340.6" r="1.3" fill="#1f77b4"/>
<circle cx="449.7" cy="347.9" r="1.3" fill="#1f77b4"/>
<circle cx="377.8" cy="324.5" r="1.3" fill="#1f77b4"/>
<circle cx="420.6" cy="337.6" r="1.3" fill="#1f77b4"/>
<circle cx="420.0" cy="333.1" r="1.3" fill="#1f77b4"/>
<circle cx="372.2" cy="326.3" r="1.3" fill="#1f77b4"/>
<circle cx="405.5" cy="325.2" r="1.3" fill="#1f77b4"/>
<circle cx="391.8" cy="320.1" r="1.3" fill="#1f77b4"/>
<circle cx="398.6" cy="327.8" r="1.3" fill="#1f77b4"/>
<circle cx="443.5" cy="351.6" r="1.3" fill="#1f77b4"/>
<circle cx="396.8" cy="325.7" r="1.3" fill="#1f77b4"/>
<circle cx="386.5" cy="323.6" r="1.3" fill="#1f77b4"/>
<circle cx="440.1" cy="344.1" r="1.3" fill="#1f77b4"/>
<circle cx="401.2" cy="330.0" r="1.3" fill="#1f77b4"/>
<circle cx="373.1" cy="318.2" r="1.3" fill="#1f77b4"/>
<circle cx="449.3" cy="357.5" r="1.3" fill="#1f77b4"/>
<circle cx="387.0" cy="319.6" r="1.3" fill="#1f77b4"/>
<circle cx="381.3" cy="316.7" r="1.3" fill="#1f77b4"/>
<circle cx="387.6" cy="328.9" r="1.3" fill="#1f77b4"/>
<circle cx="406.0" cy="339.9" r="1.3" fill="#1f77b4"/>
<circle cx="401.5" cy="329.1" r="1.3" fill="#1f77b4"/>
<circle cx="379.4" cy="320.5" r="1.3" fill="#1f77b4"/>
<circle cx="450.7" cy="366.5" r="1.3" fill="#1f77b4"/>
<circle cx="376.5" cy="318.1" r="1.3" fill="#1f77b4"/>
<circle cx="377.3" cy="317.2" r="1.3" fill="#1f77b4"/>
<circle cx="430.5" cy="339.7" r="1.3" fill="#1f77b4"/>
<circle cx="443.1" cy="344.1" r="1.3" fill="#1f77b4"/>
<circle cx="415.9" cy="340.0" r="1.3" fill="#1f77b4"/>
<circle cx="423.6" cy="338.3" r="1.3" fill="#1f77b4"/>
<circle cx="380.7" cy="313.3" r="1.3" fill="#1f77b4"/>
<circle cx="444.1" cy="350.0" r="1.3" fill="#1f77b4"/>
<circle cx="394.5" cy="330.4" r="1.3" fill="#1f77b4"/>
<circle cx="384.0" cy="321.1" r="1.3" fill="#1f77b4"/>
<circle cx="381.4" cy="316.5" r="1.3" fill="#1f77b4"/>
<circle cx="436.1" cy="335.0" r="1.3" fill="#1f77b4"/>
<circle cx="414.7" cy="331.0" r="1.3" fill="#1f77b4"/>
<circle cx="439.7" cy="343.2" r="1.3" fill="#1f77b4"/>
<circle cx="449.5" cy="365.2" r="1.3" fill="#1f77b4"/>
<circle cx="447.5" cy="358.5" r="1.3" fill="#1f77b4"/>
<circle cx="440.4" cy="343.8" r="1.3" fill="#1f77b4"/>
<circle cx="390.7" cy="328.1" r="1.3" fill="#1f77b4"/>
<circle cx="419.1" cy="336.7" r="1.3" fill="#1f77b4"/>
<circle cx="418.6" cy="345.5" r="1.3" fill="#1f77b4"/>
<circle cx="383.0" cy="315.9" r="1.3" fill="#1f77b4"/>
<circle cx="430.6" cy="342.4" r="1.3" fill="#1f77b4"/>
<circle cx="413.1" cy="330.8" r="1.3" fill="#1f77b4"/>
<circle cx="376.1" cy="324.9" r="1.3" fill="#1f77b4"/>
<circle cx="394.4" cy="331.2" r="1.3" fill="#1f77b4"/>
<circle cx="392.2" cy="317.5" r="1.3" fill="#1f77b4"/>
<circle cx="414.9" cy="336.2" r="1.3" fill="#1f77b4"/>
<circle cx="372.4" cy="319.9" r="1.3" fill="#1f77b4"/>
<circle cx="415.5" cy="332.2" r="1.3" fill="#1f77b4"/>
<circle cx="436.0" cy="342.6" r="1.3" fill="#1f77b4"/>
<circle cx="401.5" cy="337.4" r="1.3" fill="#1f77b4"/>
<circle cx="379.0" cy="323.9" r="1.3" fill="#1f77b4"/>
<circle cx="423.8" cy="338.3" r="1.3" fill="#1f77b4"/>
<circle cx="451.6" cy="362.0" r="1.3" fill="#1f77b4"/>
<circle cx="366.6" cy="313.5" r="1.3" fill="#1f77b4"/>
<circle cx="439.0" cy="350.7" r="1.3" fill="#1f77b4"/>
<circle cx="415.8" cy="336.2" r="1.3" fill="#1f77b4"/>
<circle cx="394.8" cy="325.0" r="1.3" fill="#1f77b4"/>
<circle cx="417.9" cy="339.3" r="1.3" fill="#1f77b4"/>
<circle cx="384.8" cy="325.4" r="1.3" fill="#1f77b4"/>
<circle cx="444.0" cy="356.2" r="1.3" fill="#1f77b4"/>
<circle cx="376.8" cy="319.4" r="1.3" fill="#1f77b4"/>
<circle cx="405.7" cy="330.9" r="1.3" fill="#1f77b4"/>
<circle cx="387.6" cy="325.1" r="1.3" fill="#1f77b4"/>
<circle cx="422.7" cy="339.3" r="1.3" fill="#1f77b4"/>
<circle cx="397.3" cy="327.1" r="1.3" fill="#1f77b4"/>
<circle cx="392.1" cy="323.5" r="1.3" fill="#1f77b4"/>
<circle cx="391.1" cy="323.0" r="1.3" fill="#1f77b4"/>
<circle cx="406.0" cy="336.4" r="1.3" fill="#1f77b4"/>
<circle cx="425.6" cy="334.6" r="1.3" fill="#1f77b4"/>
<circle cx="379.9" cy="326.6" r="1.3" fill="#1f77b4"/>
<circle cx="378.0" cy="317.8" r="1.3" fill="#1f77b4"/>
<circle cx="376.2" cy="321.9" r="1.3" fill="#1f77b4"/>
<circle cx="382.3" cy="319.1" r="1.3" fill="#1f77b4"/>
<circle cx="443.2" cy="347.3" r="1.3" fill="#1f77b4"/>
<circle cx="397.6" cy="335.1" r="1.3" fill="#1f77b4"/>
<circle cx="421.4" cy="334.5" r="1.3" fill="#1f77b4"/>
<circle cx="437.7" cy="345.8" r="1.3" fill="#1f77b4"/>
<circle cx="450.2" cy="362.8" r="1.3" fill="#1f77b4"/>
<circle cx="421.4" cy="335.6" r="1.3" fill="#1f77b4"/>
<circle cx="422.5" cy="340.5" r="1.3" fill="#1f77b4"/>
<circle cx="427.7" cy="339.9" r="1.3" fill="#1f77b4"/>
<circle cx="411.9" cy="338.3" r="1.3" fill="#1f77b4"/>
<circle cx="405.0" cy="326.3" r="1.3" fill="#1f77b4"/>
<circle cx="375.7" cy="316.9" r="1.3" fill="#1f77b4"/>
<circle cx="441.0" cy="346.7" r="1.3" fill="#1f77b4"/>
<circle cx="423.5" cy="341.8" r="1.3" fill="#1f77b4"/>
<circle cx="422.4" cy="328.9" r="1.3" fill="#1f77b4"/>
<circle cx="378.7" cy="312.6" r="1.3" fill="#1f77b4"/>
<circle cx="423.5" cy="338.9" r="1.3" fill="#1f77b4"/>
<circle cx="393.0" cy="326.9" r="1.3" fill="#1f77b4"/>
<circle cx="385.6" cy="324.1" r="1.3" fill="#1f77b4"/>
<circle cx="408.3" cy="328.0" r="1.3" fill="#1f77b4"/>
<circle cx="377.2" cy="315.7" r="1.3" fill="#1f77b4"/>
<circle cx="375.6" cy="321.8" r="1.3" fill="#1f77b4"/>
<circle cx="419.3" cy="346.6" r="1.3" fill="#1f77b4"/>
<circle cx="377.5" cy="318.0" r="1.3" fill="#1f77b4"/>
<circle cx="393.6" cy="325.7" r="1.3" fill="#1f77b4"/>
<circle cx="449.0" cy="358.2" r="1.3" fill="#1f77b4"/>
<circle cx="388.4" cy="321.5" r="1.3" fill="#1f77b4"/>
<circle cx="399.8" cy="332.8" r="1.3" fill="#1f77b4"/>
<circle cx="390.3" cy="324.0" r="1.3" fill="#1f77b4"/>
<circle cx="400.4" cy="329.5" r="1.3" fill="#1f77b4"/>
<circle cx="442.3" cy="350.0" r="1.3" fill="#1f77b4"/>
<circle cx="407.5" cy="325.2" r="1.3" fill="#1f77b4"/>
<circle cx="411.2" cy="332.7" r="1.3" fill="#1f77b4"/>
<circle cx="399.0" cy="331.4" r="1.3" fill="#1f77b4"/>
<circle cx="409.1" cy="325.7" r="1.3" fill="#1f77b4"/>
<circle cx="445.3" cy="351.3" r="1.3" fill="#1f77b4"/>
<circle cx="404.7" cy="330.9" r="1.3" fill="#1f77b4"/>
<circle cx="375.0" cy="325.7" r="1.3" fill="#1f77b4"/>
<circle cx="407.8" cy="335.4" r="1.3" fill="#1f77b4"/>
<circle cx="438.3" cy="347.1" r="1.3" fill="#1f77b4"/>
<circle cx="410.9" cy="330.0" r="1.3" fill="#1f77b4"/>
<circle cx="420.6" cy="339.9" r="1.3" fill="#1f77b4"/>
<circle cx="413.9" cy="332.0" r="1.3" fill="#1f77b4"/>
<circle cx="402.5" cy="332.0" r="1.3" fill="#1f77b4"/>
<circle cx="392.8" cy="327.0" r="1.3" fill="#1f77b4"/>
<circle cx="402.3" cy="326.6" r="1.3" fill="#1f77b4"/>
<circle cx="444.2" cy="355.2" r="1.3" fill="#1f77b4"/>
<circle cx="408.6" cy="330.9" r="1.3" fill="#1f77b4"/>
<circle cx="376.2" cy="316.1" r="1.3" fill="#1f77b4"/>
<circle cx="381.3" cy="316.8" r="1.3" fill="#1f77b4"/>
<circle cx="383.9" cy="324.3" r="1.3" fill="#1f77b4"/>
<circle cx="442.5" cy="353.4" r="1.3" fill="#1f77b4"/>
<circle cx="385.9" cy="327.8" r="1.3" fill="#1f77b4"/>
<circle cx="410.1" cy="338.8" r="1.3" fill="#1f77b4"/>
<circle cx="424.3" cy="337.6" r="1.3" fill="#1f77b4"/>
<circle cx="399.3" cy="330.2" r="1.3" fill="#1f77b4"/>
<circle cx="441.3" cy="360.3" r="1.3" fill="#1f77b4"/>
<circle cx="399.7" cy="325.7" r="1.3" fill="#1f77b4"/>
<circle cx="421.5" cy="342.0" r="1.3" fill="#1f77b4"/>
<circle cx="426.4" cy="341.6" r="1.3" fill="#1f77b4"/>
<circle cx="413.4" cy="331.9" r="1.3" fill="#1f77b4"/>
<circle cx="423.2" cy="336.6" r="1.3" fill="#1f77b4"/>
<circle cx="395.6" cy="326.7" r="1.3" fill="#1f77b4"/>
<circle cx="376.9" cy="327.1" r="1.3" fill="#1f77b4"/>
<circle cx="444.0" cy="350.8" r="1.3" fill="#1f77b4"/>
<circle cx="388.9" cy="326.2" r="1.3" fill="#1f77b4"/>
<circle cx="429.7" cy="348.7" r="1.3" fill="#1f77b4"/>
<circle cx="412.2" cy="344.3" r="1.3" fill="#1f77b4"/>
<circle cx="415.0" cy="328.3" r="1.3" fill="#1f77b4"/>
<circle cx="421.9" cy="337.3" r="1.3" fill="#1f77b4"/>
<circle cx="394.4" cy="325.5" r="1.3" fill="#1f77b4"/>
<circle cx="378.2" cy="317.8" r="1.3" fill="#1f77b4"/>
<circle cx="404.7" cy="330.4" r="1.3" fill="#1f77b4"/>
<circle cx="419.7" cy="344.2" r="1.3" fill="#1f77b4"/>
<circle cx="415.6" cy="331.7" r="1.3" fill="#1f77b4"/>
<circle cx="400.3" cy="323.9" r="1.3" fill="#1f77b4"/>
<circle cx="446.7" cy="353.9" r="1.3" fill="#1f77b4"/>
<circle cx="451.2" cy="354.0" r="1.3" fill="#1f77b4"/>
<circle cx="374.0" cy="311.5" r="1.3" fill="#1f77b4"/>
<circle cx="444.3" cy="358.0" r="1.3" fill="#1f77b4"/>
<circle cx="376.4" cy="321.1" r="1.3" fill="#1f77b4"/>
<circle cx="377.9" cy="316.7" r="1.3" fill="#1f77b4"/>
<circle cx="375.9" cy="318.6" r="1.3" fill="#1f77b4"/>
<circle cx="366.8" cy="314.4" r="1.3" fill="#1f77b4"/>
<circle cx="376.8" cy="316.1" r="1.3" fill="#1f77b4"/>
<circle cx="397.6" cy="324.0" r="1.3" fill="#1f77b4"/>
<circle cx="376.4" cy="321.1" r="1.3" fill="#1f77b4"/>
<circle cx="384.4" cy="321.8" r="1.3" fill="#1f77b4"/>
<circle cx="420.5" cy="340.8" r="1.3" fill="#1f77b4"/>
<circle cx="387.3" cy="324.0" r="1.3" fill="#1f77b4"/>
<circle cx="368.5" cy="320.3" r="1.3" fill="#1f77b4"/>
<circle cx="420.4" cy="346.9" r="1.3" fill="#1f77b4"/>
<circle cx="406.3" cy="333.0" r="1.3" fill="#1f77b4"/>
<circle cx="385.3" cy="324.8" r="1.3" fill="#1f77b4"/>
<circle cx="423.1" cy="334.1" r="1.3" fill="#1f77b4"/>
<circle cx="435.0" cy="336.8" r="1.3" fill="#1f77b4"/>
<circle cx="430.4" cy="341.7" r="1.3" fill="#1f77b4"/>
<circle cx="453.1" cy="361.6" r="1.3" fill="#1f77b4"/>
<circle cx="422.0" cy="341.1" r="1.3" fill="#1f77b4"/>
<circle cx="437.1" cy="351.4" r="1.3" fill="#1f77b4"/>
<circle cx="415.7" cy="336.4" r="1.3" fill="#1f77b4"/>
<circle cx="428.4" cy="342.3" r="1.3" fill="#1f77b4"/>
<circle cx="371.3" cy="316.5" r="1.3" fill="#1f77b4"/>
<circle cx="382.0" cy="320.9" r="1.3" fill="#1f77b4"/>
<circle cx="405.0" cy="322.4" r="1.3" fill="#1f77b4"/>
<circle cx="372.7" cy="318.9" r="1.3" fill="#1f77b4"/>
<circle cx="418.3" cy="344.3" r="1.3" fill="#1f77b4"/>
<circle cx="425.5" cy="339.0" r="1.3" fill="#1f77b4"/>
<circle cx="370.0" cy="319.5" r="1.3" fill="#1f77b4"/>
<circle cx="408.1" cy="330.3" r="1.3" fill="#1f77b4"/>
<circle cx="449.7" cy="354.4" r="1.3" fill="#1f77b4"/>
<circle cx="388.2" cy="326.0" r="1.3" fill="#1f77b4"/>
<circle cx="391.5" cy="325.0" r="1.3" fill="#1f77b4"/>
<circle cx="432.6" cy="340.3" r="1.3" fill="#1f77b4"/>
<circle cx="448.6" cy="363.4" r="1.3" fill="#1f77b4"/>
<circle cx="452.5" cy="362.2" r="1.3" fill="#1f77b4"/>
<circle cx="446.5" cy="353.6" r="1.3" fill="#1f77b4"/>
<circle cx="410.8" cy="328.6" r="1.3" fill="#1f77b4"/>
<circle cx="386.8" cy="318.8" r="1.3" fill="#1f77b4"/>
<circle cx="388.4" cy="321.4" r="1.3" fill="#1f77b4"/>
<circle cx="385.0" cy="320.9" r="1.3" fill="#1f77b4"/>
<circle cx="404.3" cy="336.1" r="1.3" fill="#1f77b4"/>
<circle cx="399.8" cy="339.7" r="1.3" fill="#1f77b4"/>
<circle cx="366.5" cy="318.4" r="1.3" fill="#1f77b4"/>
<circle cx="411.3" cy="325.8" r="1.3" fill="#1f77b4"/>
<circle cx="397.7" cy="326.7" r="1.3" fill="#1f77b4"/>
<circle cx="399.1" cy="337.4" r="1.3" fill="#1f77b4"/>
<circle cx="431.8" cy="344.5" r="1.3" fill="#1f77b4"/>
<circle cx="423.0" cy="336.6" r="1.3" fill="#1f77b4"/>
<circle cx="380.7" cy="327.8" r="1.3" fill="#1f77b4"/>
<circle cx="428.7" cy="338.1" r="1.3" fill="#1f77b4"/>
<circle cx="387.0" cy="327.4" r="1.3" fill="#1f77b4"/>
<circle cx="405.3" cy="325.3" r="1.3" fill="#1f77b4"/>
<circle cx="386.5" cy="322.7" r="1.3" fill="#1f77b4"/>
<circle cx="382.2" cy="309.6" r="1.3" fill="#1f77b4"/>
<circle cx="386.5" cy="327.9" r="1.3" fill="#1f77b4"/>
<circle cx="396.2" cy="325.3" r="1.3" fill="#1f77b4"/>
<circle cx="398.4" cy="333.7" r="1.3" fill="#1f77b4"/>
<circle cx="383.0" cy="317.3" r="1.3" fill="#1f77b4"/>
<circle cx="404.4" cy="329.1" r="1.3" fill="#1f77b4"/>
<circle cx="434.9" cy="339.8" r="1.3" fill="#1f77b4"/>
<circle cx="441.0" cy="350.0" r="1.3" fill="#1f77b4"/>
<circle cx="413.3" cy="339.5" r="1.3" fill="#1f77b4"/>
<circle cx="435.9" cy="348.7" r="1.3" fill="#1f77b4"/>
<circle cx="368.6" cy="320.6" r="1.3" fill="#1f77b4"/>
<circle cx="434.4" cy="349.1" r="1.3" fill="#1f77b4"/>
<circle cx="400.0" cy="327.3" r="1.3" fill="#1f77b4"/>
<circle cx="428.3" cy="335.4" r="1.3" fill="#1f77b4"/>
<circle cx="395.8" cy="322.7" r="1.3" fill="#1f77b4"/>
<circle cx="400.2" cy="325.8" r="1.3" fill="#1f77b4"/>
<circle cx="369.1" cy="318.5" r="1.3" fill="#1f77b4"/>
<circle cx="430.4" cy="339.1" r="1.3" fill="#1f77b4"/>
<circle cx="446.2" cy="360.1" r="1.3" fill="#1f77b4"/>
<circle cx="400.8" cy="327.4" r="1.3" fill="#1f77b4"/>
<circle cx="385.6" cy="319.3" r="1.3" fill="#1f77b4"/>
<circle cx="378.3" cy="320.7" r="1.3" fill="#1f77b4"/>
<circle cx="412.6" cy="335.7" r="1.3" fill="#1f77b4"/>
<circle cx="403.0" cy="331.1" r="1.3" fill="#1f77b4"/>
<circle cx="417.8" cy="332.8" r="1.3" fill="#1f77b4"/>
<circle cx="435.3" cy="346.3" r="1.3" fill="#1f77b4"/>
<circle cx="433.7" cy="350.3" r="1.3" fill="#1f77b4"/>
<circle cx="377.2" cy="321.1" r="1.3" fill="#1f77b4"/>
<circle cx="367.1" cy="319.0" r="1.3" fill="#1f77b4"/>
<circle cx="448.8" cy="351.3" r="1.3" fill="#1f77b4"/>
<circle cx="399.4" cy="327.7" r="1.3" fill="#1f77b4"/>
<circle cx="441.5" cy="358.3" r="1.3" fill="#1f77b4"/>
<circle cx="412.7" cy="332.1" r="1.3" fill="#1f77b4"/>
<circle cx="397.3" cy="323.9" r="1.3" fill="#1f77b4"/>
<circle cx="400.4" cy="326.5" r="1.3" fill="#1f77b4"/>
<circle cx="422.5" cy="339.8" r="1.3" fill="#1f77b4"/>
<circle cx="404.6" cy="329.1" r="1.3" fill="#1f77b4"/>
<circle cx="379.9" cy="319.5" r="1.3" fill="#1f77b4"/>
<circle cx="434.7" cy="339.2" r="1.3" fill="#1f77b4"/>
<circle cx="448.0" cy="356.1" r="1.3" fill="#1f77b4"/>
<circle cx="394.6" cy="316.6" r="1.3" fill="#1f77b4"/>
<circle cx="376.5" cy="320.1" r="1.3" fill="#1f77b4"/>
<circle cx="391.6" cy="318.6" r="1.3" fill="#1f77b4"/>
<circle cx="444.3" cy="353.6" r="1.3" fill="#1f77b4"/>
<circle cx="448.4" cy="366.9" r="1.3" fill="#1f77b4"/>
<circle cx="417.6" cy="341.5" r="1.3" fill="#1f77b4"/>
<circle cx="380.3" cy="327.5" r="1.3" fill="#1f77b4"/>
<circle cx="416.9" cy="343.8" r="1.3" fill="#1f77b4"/>
<circle cx="381.3" cy="316.5" r="1.3" fill="#1f77b4"/>
<circle cx="368.5" cy="318.4" r="1.3" fill="#1f77b4"/>
<circle cx="429.9" cy="338.5" r="1.3" fill="#1f77b4"/>
<circle cx="386.4" cy="326.2" r="1.3" fill="#1f77b4"/>
<circle cx="382.8" cy="321.6" r="1.3" fill="#1f77b4"/>
<circle cx="438.6" cy="353.3" r="1.3" fill="#1f77b4"/>
<circle cx="393.1" cy="321.8" r="1.3" fill="#1f77b4"/>
<circle cx="404.1" cy="330.7" r="1.3" fill="#1f77b4"/>
<circle cx="432.4" cy="344.9" r="1.3" fill="#1f77b4"/>
<circle cx="366.9" cy="315.7" r="1.3" fill="#1f77b4"/>
<circle cx="383.4" cy="313.5" r="1.3" fill="#1f77b4"/>
<circle cx="384.0" cy="320.2" r="1.3" fill="#1f77b4"/>
<circle cx="402.4" cy="325.2" r="1.3" fill="#1f77b4"/>
<circle cx="408.4" cy="337.2" r="1.3" fill="#1f77b4"/>
<circle cx="422.2" cy="341.1" r="1.3" fill="#1f77b4"/>
<circle cx="427.8" cy="339.0" r="1.3" fill="#1f77b4"/>
<circle cx="388.8" cy="330.7" r="1.3" fill="#1f77b4"/>
<circle cx="409.2" cy="325.3" r="1.3" fill="#1f77b4"/>
<circle cx="434.1" cy="342.2" r="1.3" fill="#1f77b4"/>
<circle cx="368.5" cy="316.1" r="1.3" fill="#1f77b4"/>
<circle cx="433.7" cy="344.2" r="1.3" fill="#1f77b4"/>
<circle cx="408.6" cy="332.5" r="1.3" fill="#1f77b4"/>
<circle cx="442.9" cy="354.8" r="1.3" fill="#1f77b4"/>
<circle cx="395.9" cy="320.6" r="1.3" fill="#1f77b4"/>
<circle cx="413.1" cy="330.3" r="1.3" fill="#1f77b4"/>
<circle cx="447.1" cy="350.6" r="1.3" fill="#1f77b4"/>
<circle cx="381.9" cy="322.3" r="1.3" fill="#1f77b4"/>
<circle cx="420.5" cy="341.4" r="1.3" fill="#1f77b4"/>
<circle cx="451.2" cy="354.8" r="1.3" fill="#1f77b4"/>
<circle cx="404.5" cy="335.3" r="1.3" fill="#1f77b4"/>
<circle cx="450.1" cy="363.3" r="1.3" fill="#1f77b4"/>
<circle cx="428.3" cy="337.2" r="1.3" fill="#1f77b4"/>
<circle cx="379.9" cy="316.4" r="1.3" fill="#1f77b4"/>
<circle cx="425.7" cy="346.0" r="1.3" fill="#1f77b4"/>
<circle cx="440.4" cy="351.3" r="1.3" fill="#1f77b4"/>
<circle cx="396.2" cy="326.3" r="1.3" fill="#1f77b4"/>
<circle cx="378.9" cy="320.6" r="1.3" fill="#1f77b4"/>
<circle cx="449.1" cy="363.5" r="1.3" fill="#1f77b4"/>
<circle cx="416.9" cy="332.1" r="1.3" fill="#1f77b4"/>
<circle cx="416.7" cy="337.9" r="1.3" fill="#1f77b4"/>
<circle cx="439.5" cy="350.2" r="1.3" fill="#1f77b4"/>
<circle cx="391.7" cy="333.6" r="1.3" fill="#1f77b4"/>
<circle cx="389.7" cy="324.4" r="1.3" fill="#1f77b4"/>
<circle cx="385.5" cy="329.8" r="1.3" fill="#1f77b4"/>
<circle cx="407.5" cy="327.6" r="1.3" fill="#1f77b4"/>
<circle cx="376.2" cy="317.4" r="1.3" fill="#1f77b4"/>
<circle cx="444.3" cy="356.3" r="1.3" fill="#1f77b4"/>
<circle cx="388.8" cy="323.0" r="1.3" fill="#1f77b4"/>
<circle cx="409.6" cy="331.4" r="1.3" fill="#1f77b4"/>
<circle cx="402.4" cy="329.6" r="1.3" fill="#1f77b4"/>
<circle cx="405.7" cy="328.5" r="1.3" fill="#1f77b4"/>
<circle cx="390.4" cy="324.7" r="1.3" fill="#1f77b4"/>
<circle cx="422.9" cy="340.5" r="1.3" fill="#1f77b4"/>
<circle cx="439.7" cy="353.2" r="1.3" fill="#1f77b4"/>
<circle cx="420.0" cy="328.7" r="1.3" fill="#1f77b4"/>
<circle cx="451.8" cy="361.3" r="1.3" fill="#1f77b4"/>
<circle cx="417.3" cy="335.7" r="1.3" fill="#1f77b4"/>
<circle cx="382.5" cy="318.7" r="1.3" fill="#1f77b4"/>
<circle cx="408.4" cy="333.2" r="1.3" fill="#1f77b4"/>
<circle cx="444.7" cy="356.1" r="1.3" fill="#1f77b4"/>
<circle cx="443.2" cy="349.3" r="1.3" fill="#1f77b4"/>
<circle cx="446.3" cy="350.7" r="1.3" fill="#1f77b4"/>
<circle cx="408.6" cy="328.2" r="1.3" fill="#1f77b4"/>
<circle cx="381.7" cy="326.7" r="1.3" fill="#1f77b4"/>
<circle cx="372.0" cy="317.5" r="1.3" fill="#1f77b4"/>
<circle cx="381.6" cy="321.2" r="1.3" fill="#1f77b4"/>
<circle cx="440.3" cy="347.5" r="1.3" fill="#1f77b4"/>
<circle cx="384.1" cy="325.3" r="1.3" fill="#1f77b4"/>
<circle cx="418.4" cy="341.2" r="1.3" fill="#1f77b4"/>
<circle cx="417.0" cy="336.0" r="1.3" fill="#1f77b4"/>
<circle cx="435.5" cy="349.4" r="1.3" fill="#1f77b4"/>
<circle cx="433.9" cy="348.7" r="1.3" fill="#1f77b4"/>
<circle cx="410.7" cy="332.8" r="1.3" fill="#1f77b4"/>
<circle cx="448.5" cy="353.8" r="1.3" fill="#1f77b4"/>
<circle cx="415.4" cy="334.0" r="1.3" fill="#1f77b4"/>
<circle cx="439.2" cy="343.1" r="1.3" fill="#1f77b4"/>
<circle cx="367.8" cy="319.2" r="1.3" fill="#1f77b4"/>
<circle cx="380.4" cy="318.0" r="1.3" fill="#1f77b4"/>
<circle cx="375.8" cy="319.1" r="1.3" fill="#1f77b4"/>
<circle cx="420.0" cy="341.1" r="1.3" fill="#1f77b4"/>
<circle cx="387.5" cy="324.8" r="1.3" fill="#1f77b4"/>
<circle cx="403.1" cy="333.1" r="1.3" fill="#1f77b4"/>
<circle cx="377.6" cy="320.5" r="1.3" fill="#1f77b4"/>
<circle cx="373.4" cy="321.0" r="1.3" fill="#1f77b4"/>
<circle cx="419.0" cy="330.3" r="1.3" fill="#1f77b4"/>
<circle cx="441.3" cy="352.6" r="1.3" fill="#1f77b4"/>
<circle cx="422.5" cy="345.0" r="1.3" fill="#1f77b4"/>
<circle cx="370.3" cy="317.9" r="1.3" fill="#1f77b4"/>
<circle cx="396.9" cy="325.1" r="1.3" fill="#1f77b4"/>
<circle cx="370.1" cy="318.2" r="1.3" fill="#1f77b4"/>
<circle cx="391.6" cy="321.3" r="1.3" fill="#1f77b4"/>
<circle cx="391.0" cy="328.0" r="1.3" fill="#1f77b4"/>
<circle cx="378.8" cy="323.3" r="1.3" fill="#1f77b4"/>
<circle cx="379.1" cy="314.2" r="1.3" fill="#1f77b4"/>
<circle cx="376.4" cy="319.3" r="1.3" fill="#1f77b4"/>
<circle cx="450.5" cy="358.1" r="1.3" fill="#1f77b4"/>
<circle cx="407.6" cy="328.7" r="1.3" fill="#1f77b4"/>
<circle cx="367.6" cy="313.4" r="1.3" fill="#1f77b4"/>
<circle cx="403.1" cy="329.0" r="1.3" fill="#1f77b4"/>
<circle cx="439.3" cy="349.7" r="1.3" fill="#1f77b4"/>
<circle cx="370.5" cy="313.3" r="1.3" fill="#1f77b4"/>
<circle cx="373.1" cy="319.9" r="1.3" fill="#1f77b4"/>
<circle cx="444.8" cy="353.7" r="1.3" fill="#1f77b4"/>
<circle cx="414.5" cy="331.0" r="1.3" fill="#1f77b4"/>
<circle cx="387.5" cy="324.7" r="1.3" fill="#1f77b4"/>
<circle cx="440.6" cy="357.7" r="1.3" fill="#1f77b4"/>
<circle cx="395.3" cy="324.2" r="1.3" fill="#1f77b4"/>
<circle cx="368.5" cy="312.1" r="1.3" fill="#1f77b4"/>
<circle cx="420.0" cy="335.6" r="1.3" fill="#1f77b4"/>
<circle cx="385.0" cy="328.6" r="1.3" fill="#1f77b4"/>
<circle cx="375.1" cy="316.5" r="1.3" fill="#1f77b4"/>
<circle cx="390.5" cy="316.7" r="1.3" fill="#1f77b4"/>
<circle cx="386.1" cy="328.5" r="1.3" fill="#1f77b4"/>
<circle cx="422.4" cy="351.1" r="1.3" fill="#1f77b4"/>
<circle cx="433.5" cy="344.3" r="1.3" fill="#1f77b4"/>
<circle cx="381.1" cy="320.6" r="1.3" fill="#1f77b4"/>
<circle cx="407.2" cy="327.2" r="1.3" fill="#1f77b4"/>
<circle cx="433.8" cy="339.3" r="1.3" fill="#1f77b4"/>
<circle cx="434.8" cy="343.8" r="1.3" fill="#1f77b4"/>
<circle cx="408.7" cy="328.9" r="1.3" fill="#1f77b4"/>
<circle cx="407.0" cy="329.1" r="1.3" fill="#1f77b4"/>
<circle cx="431.5" cy="341.6" r="1.3" fill="#1f77b4"/>
<circle cx="442.5" cy="352.2" r="1.3" fill="#1f77b4"/>
<circle cx="368.3" cy="316.4" r="1.3" fill="#1f77b4"/>
<circle cx="426.7" cy="336.5" r="1.3" fill="#1f77b4"/>
<circle cx="424.7" cy="337.1" r="1.3" fill="#1f77b4"/>
<circle cx="431.6" cy="344.3" r="1.3" fill="#1f77b4"/>
<circle cx="431.8" cy="337.0" r="1.3" fill="#1f77b4"/>
<circle cx="385.8" cy="325.3" r="1.3" fill="#1f77b4"/>
<circle cx="405.8" cy="331.3" r="1.3" fill="#1f77b4"/>
<circle cx="386.0" cy="322.1" r="1.3" fill="#1f77b4"/>
<circle cx="422.6" cy="347.2" r="1.3" fill="#1f77b4"/>
<circle cx="379.8" cy="321.8" r="1.3" fill="#1f77b4"/>
<circle cx="381.2" cy="317.8" r="1.3" fill="#1f77b4"/>
<circle cx="444.0" cy="349.4" r="1.3" fill="#1f77b4"/>
<circle cx="434.5" cy="349.7" r="1.3" fill="#1f77b4"/>
<circle cx="443.9" cy="357.5" r="1.3" fill="#1f77b4"/>
<circle cx="379.4" cy="324.3" r="1.3" fill="#1f77b4"/>
<circle cx="368.5" cy="316.8" r="1.3" fill="#1f77b4"/>
<circle cx="441.6" cy="351.3" r="1.3" fill="#1f77b4"/>
<circle cx="419.7" cy="344.4" r="1.3" fill="#1f77b4"/>
<circle cx="426.2" cy="338.2" r="1.3" fill="#1f77b4"/>
<circle cx="427.8" cy="340.1" r="1.3" fill="#1f77b4"/>
<circle cx="413.2" cy="334.0" r="1.3" fill="#1f77b4"/>
<circle cx="449.3" cy="362.6" r="1.3" fill="#1f77b4"/>
<circle cx="446.4" cy="356.9" r="1.3" fill="#1f77b4"/>
<circle cx="422.4" cy="346.5" r="1.3" fill="#1f77b4"/>
<circle cx="432.1" cy="341.4" r="1.3" fill="#1f77b4"/>
<circle cx="429.8" cy="399.1" r="1.3" fill="#1f77b4"/>
<circle cx="429.8" cy="367.2" r="1.3" fill="#1f77b4"/>
<circle cx="437.8" cy="375.2" r="1.3" fill="#1f77b4"/>
<circle cx="388.4" cy="339.5" r="1.3" fill="#1f77b4"/>
<circle cx="418.1" cy="353.4" r="1.3" fill="#1f77b4"/>
<circle cx="441.9" cy="366.7" r="1.3" fill="#1f77b4"/>
</g>
<rect x="354.4" y="302.3" width="262.10" height="200.00" fill="none" stroke="#707070" stroke-width="1.35"/>
<line x1="351.79999999999995" y1="499.60" x2="354.4" y2="499.60" stroke="#707070" stroke-width="1.1"/>
<text x="349.0" y="503.9" font-size="10" text-anchor="end" textLength="12.2" lengthAdjust="spacingAndGlyphs" fill="#222">15</text>
<line x1="351.79999999999995" y1="473.01" x2="354.4" y2="473.01" stroke="#707070" stroke-width="1.1"/>
<text x="349.0" y="477.3" font-size="10" text-anchor="end" textLength="12.2" lengthAdjust="spacingAndGlyphs" fill="#222">20</text>
<line x1="351.79999999999995" y1="446.42" x2="354.4" y2="446.42" stroke="#707070" stroke-width="1.1"/>
<text x="349.0" y="450.7" font-size="10" text-anchor="end" textLength="12.2" lengthAdjust="spacingAndGlyphs" fill="#222">25</text>
<line x1="351.79999999999995" y1="419.83" x2="354.4" y2="419.83" stroke="#707070" stroke-width="1.1"/>
<text x="349.0" y="424.1" font-size="10" text-anchor="end" textLength="12.2" lengthAdjust="spacingAndGlyphs" fill="#222">30</text>
<line x1="351.79999999999995" y1="393.24" x2="354.4" y2="393.24" stroke="#707070" stroke-width="1.1"/>
<text x="349.0" y="397.5" font-size="10" text-anchor="end" textLength="12.2" lengthAdjust="spacingAndGlyphs" fill="#222">35</text>
<line x1="351.79999999999995" y1="366.65" x2="354.4" y2="366.65" stroke="#707070" stroke-width="1.1"/>
<text x="349.0" y="371.0" font-size="10" text-anchor="end" textLength="12.2" lengthAdjust="spacingAndGlyphs" fill="#222">40</text>
<line x1="351.79999999999995" y1="340.06" x2="354.4" y2="340.06" stroke="#707070" stroke-width="1.1"/>
<text x="349.0" y="344.4" font-size="10" text-anchor="end" textLength="12.2" lengthAdjust="spacingAndGlyphs" fill="#222">45</text>
<line x1="351.79999999999995" y1="313.47" x2="354.4" y2="313.47" stroke="#707070" stroke-width="1.1"/>
<text x="349.0" y="317.8" font-size="10" text-anchor="end" textLength="12.2" lengthAdjust="spacingAndGlyphs" fill="#222">50</text>
<line x1="359.50" y1="502.3" x2="359.50" y2="504.90000000000003" stroke="#707070" stroke-width="1.1"/>
<text x="359.5" y="514.9" font-size="10" text-anchor="middle" textLength="6.1" lengthAdjust="spacingAndGlyphs" fill="#222">0</text>
<line x1="396.10" y1="502.3" x2="396.10" y2="504.90000000000003" stroke="#707070" stroke-width="1.1"/>
<text x="396.1" y="514.9" font-size="10" text-anchor="middle" textLength="12.2" lengthAdjust="spacingAndGlyphs" fill="#222">10</text>
<line x1="432.70" y1="502.3" x2="432.70" y2="504.90000000000003" stroke="#707070" stroke-width="1.1"/>
<text x="432.7" y="514.9" font-size="10" text-anchor="middle" textLength="12.2" lengthAdjust="spacingAndGlyphs" fill="#222">20</text>
<line x1="469.30" y1="502.3" x2="469.30" y2="504.90000000000003" stroke="#707070" stroke-width="1.1"/>
<text x="469.3" y="514.9" font-size="10" text-anchor="middle" textLength="12.2" lengthAdjust="spacingAndGlyphs" fill="#222">30</text>
<line x1="505.90" y1="502.3" x2="505.90" y2="504.90000000000003" stroke="#707070" stroke-width="1.1"/>
<text x="505.9" y="514.9" font-size="10" text-anchor="middle" textLength="12.2" lengthAdjust="spacingAndGlyphs" fill="#222">40</text>
<line x1="542.50" y1="502.3" x2="542.50" y2="504.90000000000003" stroke="#707070" stroke-width="1.1"/>
<text x="542.5" y="514.9" font-size="10" text-anchor="middle" textLength="12.2" lengthAdjust="spacingAndGlyphs" fill="#222">50</text>
<line x1="579.10" y1="502.3" x2="579.10" y2="504.90000000000003" stroke="#707070" stroke-width="1.1"/>
<text x="579.1" y="514.9" font-size="10" text-anchor="middle" textLength="12.2" lengthAdjust="spacingAndGlyphs" fill="#222">60</text>
<line x1="615.70" y1="502.3" x2="615.70" y2="504.90000000000003" stroke="#707070" stroke-width="1.1"/>
<text x="615.7" y="514.9" font-size="10" text-anchor="middle" textLength="12.2" lengthAdjust="spacingAndGlyphs" fill="#222">70</text>
<text x="485.4" y="298.0" font-size="10.2" text-anchor="middle" textLength="114.8" lengthAdjust="spacingAndGlyphs" fill="#222">k-mean:v-k (Oct 2022)</text>
<text x="485.4" y="527.6" font-size="10.2" text-anchor="middle" textLength="91.8" lengthAdjust="spacingAndGlyphs" fill="#222">Density (veh./Km)</text>
<text x="331.2" y="402.7" font-size="10.2" text-anchor="middle" textLength="80.2" lengthAdjust="spacingAndGlyphs" transform="rotate(-90 331.2 402.7)" fill="#222">Speed (km./Hr.)</text>
<rect x="158" y="88.5" width="152" height="123.5" fill="#fff"/>
<path d="M184.23 189.50V114.74H198.24V150.34H212.24V189.50H226.25V187.72H240.25V112.96H254.26V114.74H268.26V146.78H282.27V189.50Z" fill="#1f77b4" fill-opacity="0.4"/>
<path d="M184.23 189.50V185.94H200.57V150.34H216.91V100.50H233.25V141.44H249.59V184.16H265.93V184.16H282.27V114.74H298.61V189.50Z" fill="#ff7f0e" fill-opacity="0.4"/>
<rect x="178.6" y="95.9" width="127.00" height="93.60" fill="none" stroke="#8a8a8a" stroke-width="0.9"/>
<line x1="176.4" y1="189.50" x2="178.6" y2="189.50" stroke="#888" stroke-width="0.7"/>
<text x="175.4" y="192.4" font-size="8.2" text-anchor="end" textLength="4.3" lengthAdjust="spacingAndGlyphs" fill="#222">0</text>
<line x1="176.4" y1="171.70" x2="178.6" y2="171.70" stroke="#888" stroke-width="0.7"/>
<text x="175.4" y="174.6" font-size="8.2" text-anchor="end" textLength="8.7" lengthAdjust="spacingAndGlyphs" fill="#222">10</text>
<line x1="176.4" y1="153.90" x2="178.6" y2="153.90" stroke="#888" stroke-width="0.7"/>
<text x="175.4" y="156.8" font-size="8.2" text-anchor="end" textLength="8.7" lengthAdjust="spacingAndGlyphs" fill="#222">20</text>
<line x1="176.4" y1="136.10" x2="178.6" y2="136.10" stroke="#888" stroke-width="0.7"/>
<text x="175.4" y="139.0" font-size="8.2" text-anchor="end" textLength="8.7" lengthAdjust="spacingAndGlyphs" fill="#222">30</text>
<line x1="176.4" y1="118.30" x2="178.6" y2="118.30" stroke="#888" stroke-width="0.7"/>
<text x="175.4" y="121.2" font-size="8.2" text-anchor="end" textLength="8.7" lengthAdjust="spacingAndGlyphs" fill="#222">40</text>
<line x1="176.4" y1="100.50" x2="178.6" y2="100.50" stroke="#888" stroke-width="0.7"/>
<text x="175.4" y="103.4" font-size="8.2" text-anchor="end" textLength="8.7" lengthAdjust="spacingAndGlyphs" fill="#222">50</text>
<line x1="192.40" y1="189.5" x2="192.40" y2="191.7" stroke="#888" stroke-width="0.7"/>
<text x="192.4" y="198.3" font-size="8.2" text-anchor="middle" textLength="4.3" lengthAdjust="spacingAndGlyphs" fill="#222">8</text>
<line x1="208.74" y1="189.5" x2="208.74" y2="191.7" stroke="#888" stroke-width="0.7"/>
<text x="208.7" y="198.3" font-size="8.2" text-anchor="middle" textLength="8.7" lengthAdjust="spacingAndGlyphs" fill="#222">10</text>
<line x1="225.08" y1="189.5" x2="225.08" y2="191.7" stroke="#888" stroke-width="0.7"/>
<text x="225.1" y="198.3" font-size="8.2" text-anchor="middle" textLength="8.7" lengthAdjust="spacingAndGlyphs" fill="#222">12</text>
<line x1="241.42" y1="189.5" x2="241.42" y2="191.7" stroke="#888" stroke-width="0.7"/>
<text x="241.4" y="198.3" font-size="8.2" text-anchor="middle" textLength="8.7" lengthAdjust="spacingAndGlyphs" fill="#222">14</text>
<line x1="257.76" y1="189.5" x2="257.76" y2="191.7" stroke="#888" stroke-width="0.7"/>
<text x="257.8" y="198.3" font-size="8.2" text-anchor="middle" textLength="8.7" lengthAdjust="spacingAndGlyphs" fill="#222">16</text>
<line x1="274.10" y1="189.5" x2="274.10" y2="191.7" stroke="#888" stroke-width="0.7"/>
<text x="274.1" y="198.3" font-size="8.2" text-anchor="middle" textLength="8.7" lengthAdjust="spacingAndGlyphs" fill="#222">18</text>
<line x1="290.44" y1="189.5" x2="290.44" y2="191.7" stroke="#888" stroke-width="0.7"/>
<text x="290.4" y="198.3" font-size="8.2" text-anchor="middle" textLength="8.7" lengthAdjust="spacingAndGlyphs" fill="#222">20</text>
<text x="241.8" y="206.9" font-size="8.2" text-anchor="middle" textLength="22.0" lengthAdjust="spacingAndGlyphs" fill="#222">Hours</text>
<text x="164.8" y="143.9" font-size="8.2" text-anchor="middle" textLength="36.5" lengthAdjust="spacingAndGlyphs" transform="rotate(-90 164.8 143.9)" fill="#222">Frequency</text>
<text x="241.7" y="94.0" font-size="5.0" text-anchor="middle" textLength="22.3" lengthAdjust="spacingAndGlyphs" fill="#222">Sep 2022</text>
<rect x="259.2" y="98.7" width="42.70" height="16.60" rx="1.2" fill="#fff" fill-opacity="0.8" stroke="#d8d8d8" stroke-width="0.6"/>
<rect x="261.7" y="100.60" width="9.90" height="4.6" fill="#1f77b4" fill-opacity="0.4"/>
<rect x="261.7" y="108.30" width="9.90" height="4.6" fill="#ff7f0e" fill-opacity="0.4"/>
<text x="276.1" y="105.2" font-size="6.3" text-anchor="start" textLength="25.0" lengthAdjust="spacingAndGlyphs" fill="#222">Cluster 0</text>
<text x="276.1" y="112.9" font-size="6.3" text-anchor="start" textLength="25.0" lengthAdjust="spacingAndGlyphs" fill="#222">Cluster 1</text>
<rect x="146" y="361" width="162" height="137" fill="#fff"/>
<path d="M200.50 474.10V386.71H214.49V374.90H228.47V457.57H242.46V457.57H256.44V467.01H270.43V417.41H284.41V426.86H298.40V474.10Z" fill="#1f77b4" fill-opacity="0.4"/>
<path d="M173.80 474.10V393.79H189.06V429.22H204.31V469.38H219.57V467.01H234.83V391.43H250.09V396.15H265.34V431.58H280.60V474.10Z" fill="#ff7f0e" fill-opacity="0.4"/>
<rect x="167.5" y="369.5" width="137.40" height="104.60" fill="none" stroke="#8a8a8a" stroke-width="0.9"/>
<line x1="165.3" y1="474.10" x2="167.5" y2="474.10" stroke="#888" stroke-width="0.7"/>
<text x="163.6" y="477.0" font-size="8.7" text-anchor="end" textLength="4.7" lengthAdjust="spacingAndGlyphs" fill="#222">0</text>
<line x1="165.3" y1="462.29" x2="167.5" y2="462.29" stroke="#888" stroke-width="0.7"/>
<text x="163.6" y="465.2" font-size="8.7" text-anchor="end" textLength="4.7" lengthAdjust="spacingAndGlyphs" fill="#222">5</text>
<line x1="165.3" y1="450.48" x2="167.5" y2="450.48" stroke="#888" stroke-width="0.7"/>
<text x="163.6" y="453.4" font-size="8.7" text-anchor="end" textLength="9.4" lengthAdjust="spacingAndGlyphs" fill="#222">10</text>
<line x1="165.3" y1="438.67" x2="167.5" y2="438.67" stroke="#888" stroke-width="0.7"/>
<text x="163.6" y="441.6" font-size="8.7" text-anchor="end" textLength="9.4" lengthAdjust="spacingAndGlyphs" fill="#222">15</text>
<line x1="165.3" y1="426.86" x2="167.5" y2="426.86" stroke="#888" stroke-width="0.7"/>
<text x="163.6" y="429.8" font-size="8.7" text-anchor="end" textLength="9.4" lengthAdjust="spacingAndGlyphs" fill="#222">20</text>
<line x1="165.3" y1="415.05" x2="167.5" y2="415.05" stroke="#888" stroke-width="0.7"/>
<text x="163.6" y="417.9" font-size="8.7" text-anchor="end" textLength="9.4" lengthAdjust="spacingAndGlyphs" fill="#222">25</text>
<line x1="165.3" y1="403.24" x2="167.5" y2="403.24" stroke="#888" stroke-width="0.7"/>
<text x="163.6" y="406.1" font-size="8.7" text-anchor="end" textLength="9.4" lengthAdjust="spacingAndGlyphs" fill="#222">30</text>
<line x1="165.3" y1="391.43" x2="167.5" y2="391.43" stroke="#888" stroke-width="0.7"/>
<text x="163.6" y="394.3" font-size="8.7" text-anchor="end" textLength="9.4" lengthAdjust="spacingAndGlyphs" fill="#222">35</text>
<line x1="165.3" y1="379.62" x2="167.5" y2="379.62" stroke="#888" stroke-width="0.7"/>
<text x="163.6" y="382.5" font-size="8.7" text-anchor="end" textLength="9.4" lengthAdjust="spacingAndGlyphs" fill="#222">40</text>
<line x1="182.70" y1="474.1" x2="182.70" y2="476.3" stroke="#888" stroke-width="0.7"/>
<text x="182.7" y="483.2" font-size="8.7" text-anchor="middle" textLength="4.7" lengthAdjust="spacingAndGlyphs" fill="#222">8</text>
<line x1="200.50" y1="474.1" x2="200.50" y2="476.3" stroke="#888" stroke-width="0.7"/>
<text x="200.5" y="483.2" font-size="8.7" text-anchor="middle" textLength="9.4" lengthAdjust="spacingAndGlyphs" fill="#222">10</text>
<line x1="218.30" y1="474.1" x2="218.30" y2="476.3" stroke="#888" stroke-width="0.7"/>
<text x="218.3" y="483.2" font-size="8.7" text-anchor="middle" textLength="9.4" lengthAdjust="spacingAndGlyphs" fill="#222">12</text>
<line x1="236.10" y1="474.1" x2="236.10" y2="476.3" stroke="#888" stroke-width="0.7"/>
<text x="236.1" y="483.2" font-size="8.7" text-anchor="middle" textLength="9.4" lengthAdjust="spacingAndGlyphs" fill="#222">14</text>
<line x1="253.90" y1="474.1" x2="253.90" y2="476.3" stroke="#888" stroke-width="0.7"/>
<text x="253.9" y="483.2" font-size="8.7" text-anchor="middle" textLength="9.4" lengthAdjust="spacingAndGlyphs" fill="#222">16</text>
<line x1="271.70" y1="474.1" x2="271.70" y2="476.3" stroke="#888" stroke-width="0.7"/>
<text x="271.7" y="483.2" font-size="8.7" text-anchor="middle" textLength="9.4" lengthAdjust="spacingAndGlyphs" fill="#222">18</text>
<line x1="289.50" y1="474.1" x2="289.50" y2="476.3" stroke="#888" stroke-width="0.7"/>
<text x="289.5" y="483.2" font-size="8.7" text-anchor="middle" textLength="9.4" lengthAdjust="spacingAndGlyphs" fill="#222">20</text>
<text x="236.3" y="492.5" font-size="8.7" text-anchor="middle" textLength="23.3" lengthAdjust="spacingAndGlyphs" fill="#222">Hours</text>
<text x="152.0" y="422.9" font-size="8.7" text-anchor="middle" textLength="39.5" lengthAdjust="spacingAndGlyphs" transform="rotate(-90 152.0 422.9)" fill="#222">Frequency</text>
<text x="235.7" y="367.7" font-size="5.0" text-anchor="middle" textLength="23.5" lengthAdjust="spacingAndGlyphs" fill="#222">Oct 2022</text>
<rect x="255.3" y="372.6" width="46.70" height="18.60" rx="1.2" fill="#fff" fill-opacity="0.8" stroke="#d8d8d8" stroke-width="0.6"/>
<rect x="257.8" y="375.00" width="11.20" height="4.6" fill="#1f77b4" fill-opacity="0.4"/>
<rect x="257.8" y="383.60" width="11.20" height="4.6" fill="#ff7f0e" fill-opacity="0.4"/>
<text x="273.5" y="379.6" font-size="6.5" text-anchor="start" textLength="25.5" lengthAdjust="spacingAndGlyphs" fill="#222">Cluster 0</text>
<text x="273.5" y="388.2" font-size="6.5" text-anchor="start" textLength="25.5" lengthAdjust="spacingAndGlyphs" fill="#222">Cluster 1</text>
<rect x="51.5" y="21.7" width="81.80" height="47.50" rx="2" fill="#fff" fill-opacity="0.8" stroke="#d6d6d6" stroke-width="0.8"/>
<path d="M63.1 27.6L67.7 32.2M63.1 32.2L67.7 27.6" stroke="#14ff00" stroke-width="1.1"/>
<text x="83.8" y="33.5" font-size="10.2" text-anchor="start" textLength="45.5" lengthAdjust="spacingAndGlyphs" fill="#222">Cluster 1</text>
<circle cx="65.4" cy="45.0" r="1.6" fill="#14ff00"/>
<text x="83.8" y="48.6" font-size="10.2" text-anchor="start" textLength="45.5" lengthAdjust="spacingAndGlyphs" fill="#222">Cluster 0</text>
<circle cx="65.4" cy="59.3" r="1.2" fill="#1f77b4"/>
<text x="83.8" y="62.9" font-size="10.2" text-anchor="start" textLength="43.9" lengthAdjust="spacingAndGlyphs" fill="#222">FreeFlow</text>
<rect x="531.5" y="21.5" width="82.70" height="47.90" rx="2" fill="#fff" fill-opacity="0.8" stroke="#d6d6d6" stroke-width="0.8"/>
<path d="M543.4 27.7L548.0 32.3M543.4 32.3L548.0 27.7" stroke="#14ff00" stroke-width="1.1"/>
<text x="564.3" y="33.6" font-size="10.2" text-anchor="start" textLength="45.5" lengthAdjust="spacingAndGlyphs" fill="#222">Cluster 1</text>
<circle cx="545.7" cy="44.9" r="1.4" fill="#14ff00"/>
<text x="564.3" y="48.5" font-size="10.2" text-anchor="start" textLength="45.5" lengthAdjust="spacingAndGlyphs" fill="#222">Cluster 0</text>
<circle cx="545.7" cy="59.6" r="1.1" fill="#1f77b4"/>
<text x="564.3" y="63.2" font-size="10.2" text-anchor="start" textLength="43.9" lengthAdjust="spacingAndGlyphs" fill="#222">FreeFlow</text>
<rect x="529.0" y="306.9" width="82.40" height="47.50" rx="2" fill="#fff" fill-opacity="0.8" stroke="#d6d6d6" stroke-width="0.8"/>
<circle cx="543.1" cy="315.0" r="1.4" fill="#00ffe4"/>
<text x="561.0" y="318.6" font-size="10.2" text-anchor="start" textLength="45.5" lengthAdjust="spacingAndGlyphs" fill="#222">Cluster 0</text>
<path d="M540.8 328.1L545.4 332.7M540.8 332.7L545.4 328.1" stroke="#009eff" stroke-width="1.1"/>
<text x="561.0" y="334.0" font-size="10.2" text-anchor="start" textLength="45.5" lengthAdjust="spacingAndGlyphs" fill="#222">Cluster 1</text>
<circle cx="543.1" cy="345.0" r="1.1" fill="#1f77b4"/>
<text x="561.0" y="348.6" font-size="10.2" text-anchor="start" textLength="43.9" lengthAdjust="spacingAndGlyphs" fill="#222">FreeFlow</text>
<defs><linearGradient id="hsvg" x1="0" y1="0" x2="0" y2="1"><stop offset="0.0000" stop-color="#ff0018"/><stop offset="0.0208" stop-color="#ff0035"/><stop offset="0.0417" stop-color="#ff0053"/><stop offset="0.0625" stop-color="#ff0071"/><stop offset="0.0833" stop-color="#ff0094"/><stop offset="0.1042" stop-color="#ff00b1"/><stop offset="0.1250" stop-color="#ff00cf"/><stop offset="0.1458" stop-color="#fe00f1"/><stop offset="0.1667" stop-color="#ee00ff"/><stop offset="0.1875" stop-color="#d000ff"/><stop offset="0.2083" stop-color="#ad00ff"/><stop offset="0.2292" stop-color="#9000ff"/><stop offset="0.2500" stop-color="#7200ff"/><stop offset="0.2708" stop-color="#4f00ff"/><stop offset="0.2917" stop-color="#3100ff"/><stop offset="0.3125" stop-color="#1300ff"/><stop offset="0.3333" stop-color="#0010ff"/><stop offset="0.3542" stop-color="#002dff"/><stop offset="0.3750" stop-color="#004bff"/><stop offset="0.3958" stop-color="#006eff"/><stop offset="0.4167" stop-color="#008cff"/><stop offset="0.4375" stop-color="#00aaff"/><stop offset="0.4583" stop-color="#00cdff"/><stop offset="0.4792" stop-color="#00eaff"/><stop offset="0.5000" stop-color="#00fff6"/><stop offset="0.5208" stop-color="#00ffd3"/><stop offset="0.5417" stop-color="#00ffb5"/><stop offset="0.5625" stop-color="#00ff97"/><stop offset="0.5833" stop-color="#00ff74"/><stop offset="0.6042" stop-color="#00ff57"/><stop offset="0.6250" stop-color="#00ff39"/><stop offset="0.6458" stop-color="#00ff16"/><stop offset="0.6667" stop-color="#08ff00"/><stop offset="0.6875" stop-color="#25ff00"/><stop offset="0.7083" stop-color="#49ff00"/><stop offset="0.7292" stop-color="#66ff00"/><stop offset="0.7500" stop-color="#84ff00"/><stop offset="0.7708" stop-color="#a7ff00"/><stop offset="0.7917" stop-color="#c5ff00"/><stop offset="0.8125" stop-color="#e2ff00"/><stop offset="0.8333" stop-color="#fcf500"/><stop offset="0.8542" stop-color="#ffdb00"/><stop offset="0.8750" stop-color="#ffbd00"/><stop offset="0.8958" stop-color="#ff9a00"/><stop offset="0.9167" stop-color="#ff7c00"/><stop offset="0.9375" stop-color="#ff5f00"/><stop offset="0.9583" stop-color="#ff3b00"/><stop offset="0.9792" stop-color="#ff1e00"/><stop offset="1.0000" stop-color="#ff0000"/></linearGradient></defs>
<rect x="647.5" y="16.4" width="10.30" height="200.60" fill="url(#hsvg)" stroke="#555" stroke-width="0.7"/>
<line x1="657.8" y1="217.00" x2="660.3" y2="217.00" stroke="#555" stroke-width="0.7"/>
<text x="662.6" y="219.7" font-size="7.3" text-anchor="start" textLength="4.0" lengthAdjust="spacingAndGlyphs" fill="#222">0</text>
<line x1="657.8" y1="173.39" x2="660.3" y2="173.39" stroke="#555" stroke-width="0.7"/>
<text x="662.6" y="176.1" font-size="7.3" text-anchor="start" textLength="4.0" lengthAdjust="spacingAndGlyphs" fill="#222">5</text>
<line x1="657.8" y1="129.78" x2="660.3" y2="129.78" stroke="#555" stroke-width="0.7"/>
<text x="662.6" y="132.5" font-size="7.3" text-anchor="start" textLength="7.9" lengthAdjust="spacingAndGlyphs" fill="#222">10</text>
<line x1="657.8" y1="86.17" x2="660.3" y2="86.17" stroke="#555" stroke-width="0.7"/>
<text x="662.6" y="88.9" font-size="7.3" text-anchor="start" textLength="7.9" lengthAdjust="spacingAndGlyphs" fill="#222">15</text>
<line x1="657.8" y1="42.57" x2="660.3" y2="42.57" stroke="#555" stroke-width="0.7"/>
<text x="662.6" y="45.3" font-size="7.3" text-anchor="start" textLength="7.9" lengthAdjust="spacingAndGlyphs" fill="#222">20</text>
<text x="680.0" y="117.9" font-size="6.8" text-anchor="middle" textLength="13.0" lengthAdjust="spacingAndGlyphs" transform="rotate(-90 680.0 117.9)" fill="#222">Hrs.</text>
<rect x="649.5" y="302.2" width="10.50" height="200.10" fill="url(#hsvg)" stroke="#555" stroke-width="0.7"/>
<line x1="660.0" y1="502.30" x2="662.5" y2="502.30" stroke="#555" stroke-width="0.7"/>
<text x="664.8" y="505.0" font-size="7.3" text-anchor="start" textLength="4.0" lengthAdjust="spacingAndGlyphs" fill="#222">0</text>
<line x1="660.0" y1="458.80" x2="662.5" y2="458.80" stroke="#555" stroke-width="0.7"/>
<text x="664.8" y="461.5" font-size="7.3" text-anchor="start" textLength="4.0" lengthAdjust="spacingAndGlyphs" fill="#222">5</text>
<line x1="660.0" y1="415.30" x2="662.5" y2="415.30" stroke="#555" stroke-width="0.7"/>
<text x="664.8" y="418.0" font-size="7.3" text-anchor="start" textLength="7.9" lengthAdjust="spacingAndGlyphs" fill="#222">10</text>
<line x1="660.0" y1="371.80" x2="662.5" y2="371.80" stroke="#555" stroke-width="0.7"/>
<text x="664.8" y="374.5" font-size="7.3" text-anchor="start" textLength="7.9" lengthAdjust="spacingAndGlyphs" fill="#222">15</text>
<line x1="660.0" y1="328.30" x2="662.5" y2="328.30" stroke="#555" stroke-width="0.7"/>
<text x="664.8" y="331.0" font-size="7.3" text-anchor="start" textLength="7.9" lengthAdjust="spacingAndGlyphs" fill="#222">20</text>
<text x="681.4" y="403.4" font-size="6.8" text-anchor="middle" textLength="13.0" lengthAdjust="spacingAndGlyphs" transform="rotate(-90 681.4 403.4)" fill="#222">Hrs.</text>
<text x="338.5" y="264.3" font-size="23.5" text-anchor="middle" textLength="27.0" lengthAdjust="spacingAndGlyphs" fill="#000" stroke="#000" stroke-width="0.45">(a)</text>
<text x="339.2" y="557.0" font-size="23.5" text-anchor="middle" textLength="28.5" lengthAdjust="spacingAndGlyphs" fill="#000" stroke="#000" stroke-width="0.45">(b)</text>
</svg></body></html>
